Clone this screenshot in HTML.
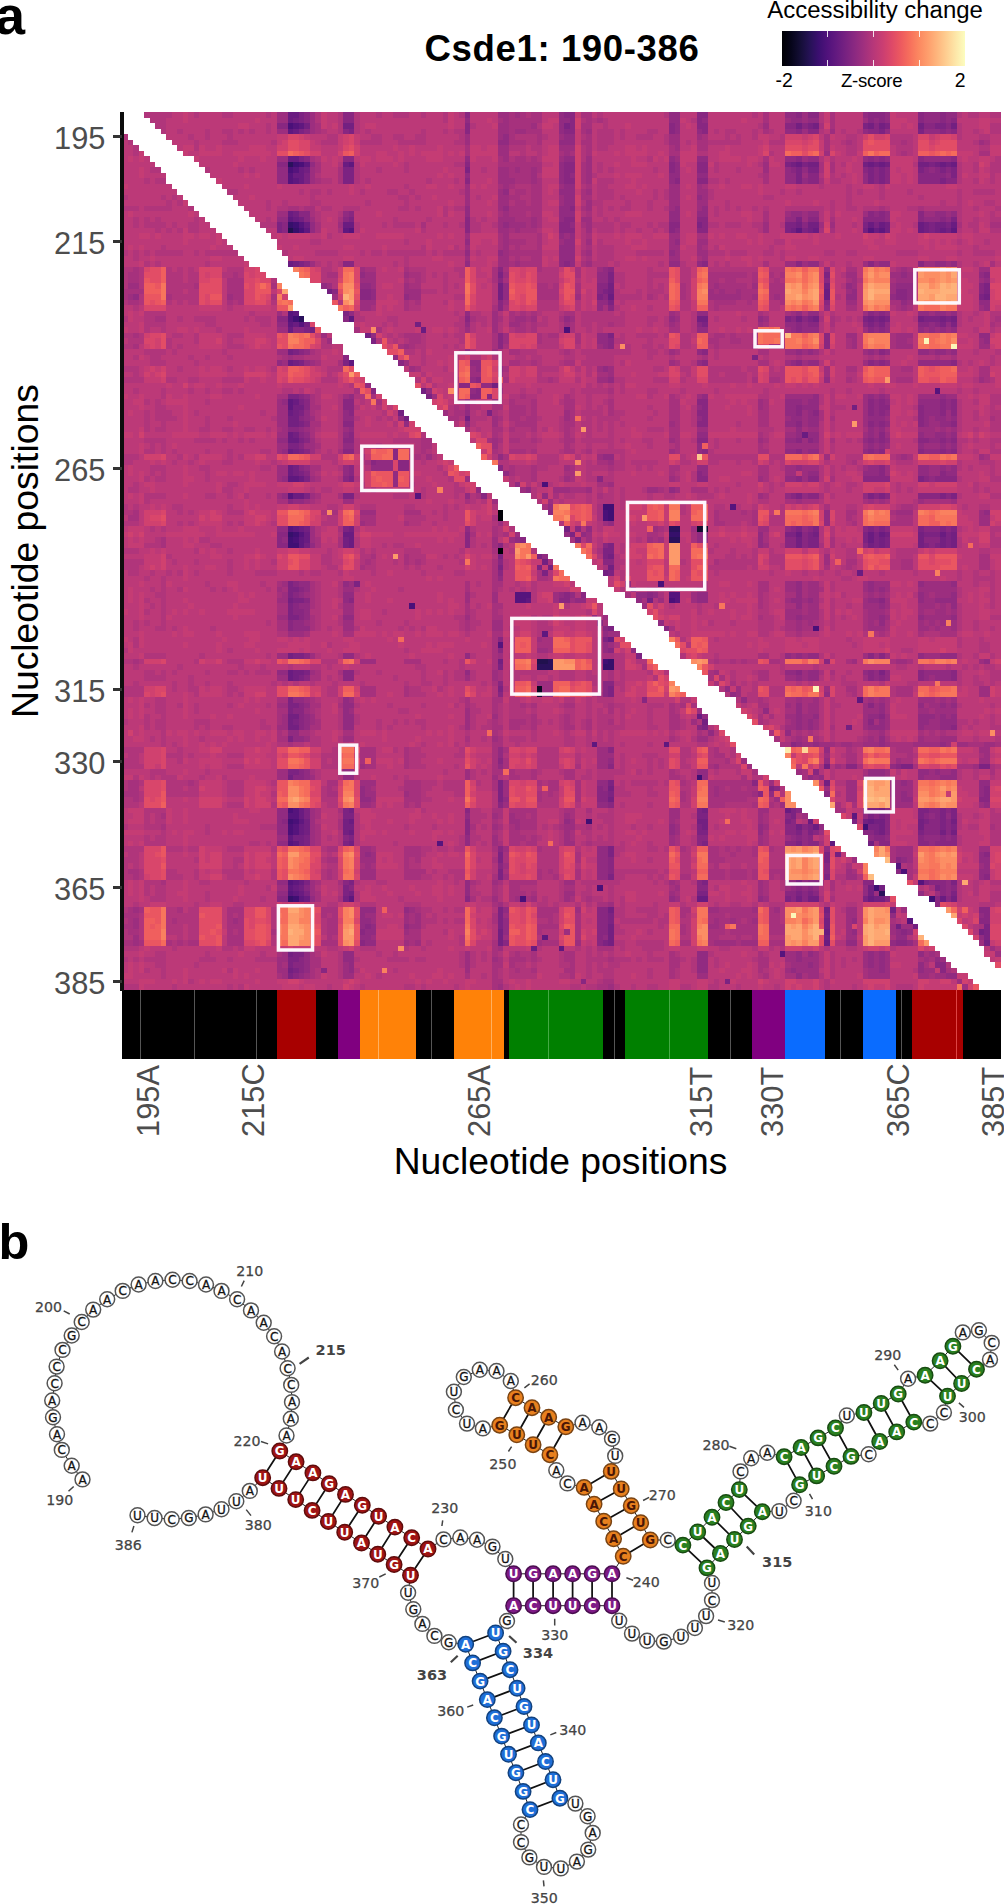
<!DOCTYPE html>
<html><head><meta charset="utf-8"><title>Csde1: 190-386</title>
<style>
html,body{margin:0;padding:0;background:#fff}
body{width:1004px;height:1904px;position:relative;overflow:hidden;font-family:"Liberation Sans",sans-serif;color:#000}
.t{position:absolute;white-space:nowrap;line-height:1}
.yl{position:absolute;right:898.6px;color:#4d4d4d;font-size:30.8px;line-height:1;white-space:nowrap}
.xl{position:absolute;color:#4d4d4d;font-size:30.8px;line-height:1;white-space:nowrap;transform-origin:0 0;transform:rotate(-90deg)}
.tk{position:absolute;background:#333}
</style></head><body>

<div class="t" style="left:-5px;top:-12px;font-size:54px;font-weight:bold">a</div>
<div class="t" style="left:-1.5px;top:1217px;font-size:50.5px;font-weight:bold">b</div>
<div class="t" style="left:424.6px;top:30.8px;font-size:36.6px;letter-spacing:0.6px;font-weight:bold">Csde1: 190-386</div>
<div class="t" style="left:767.3px;top:-2.1px;font-size:23.95px">Accessibility change</div>
<div class="t" style="left:775.6px;top:71.4px;font-size:19.4px">-2</div>
<div class="t" style="left:954.8px;top:71.4px;font-size:19.4px">2</div>
<div class="t" style="left:841px;top:72px;font-size:18.6px;letter-spacing:-0.25px">Z-score</div>
<div style="position:absolute;left:782px;top:31px;width:183px;height:35px;background:linear-gradient(90deg,#000004 0%,#06051a 5%,#140e36 10%,#251255 15%,#3b0f70 20%,#51127c 25%,#641a80 30%,#782281 35%,#8c2981 40%,#a1307e 45%,#b73779 50%,#ca3e72 55%,#de4968 60%,#ed5a5f 65%,#f7705c 70%,#fc8961 75%,#fe9f6d 80%,#feb77e 85%,#fecf92 90%,#fde7a9 95%,#fcfdbf 100%)"></div>
<div style="position:absolute;left:827.2px;top:31px;width:0.8px;height:6px;background:rgba(255,255,255,.85)"></div><div style="position:absolute;left:827.2px;top:60px;width:0.8px;height:6px;background:rgba(255,255,255,.85)"></div>
<div style="position:absolute;left:873.0px;top:31px;width:0.8px;height:6px;background:rgba(255,255,255,.85)"></div><div style="position:absolute;left:873.0px;top:60px;width:0.8px;height:6px;background:rgba(255,255,255,.85)"></div>
<div style="position:absolute;left:918.8px;top:31px;width:0.8px;height:6px;background:rgba(255,255,255,.85)"></div><div style="position:absolute;left:918.8px;top:60px;width:0.8px;height:6px;background:rgba(255,255,255,.85)"></div>
<svg style="position:absolute;left:122px;top:112px" width="879" height="878" viewBox="0 0 159 159" preserveAspectRatio="none" shape-rendering="crispEdges">
<rect width="159" height="159" fill="#bc3978"/>
<path fill="#010108" d="M68 72h1v1h-1zM68 73h1v1h-1zM68 79h1v1h-1z"/>
<path fill="#0a0822" d="M75 104h1v1h-1z"/>
<path fill="#110c2f" d="M104 75h2v1h-2zM75 105h1v1h-1z"/>
<path fill="#21114e" d="M30 21h1v1h-1zM75 99h2v1h-2z"/>
<path fill="#2a115c" d="M30 9h1v1h-1zM32 37h1v1h-1zM99 75h2v1h-2zM99 77h2v1h-2zM77 99h1v1h-1zM75 100h3v1h-3zM137 141h1v1h-1z"/>
<path fill="#36106b" d="M30 20h1v1h-1zM31 21h1v1h-1zM30 76h1v1h-1zM99 76h2v1h-2zM88 99h1v1h-1zM87 100h2v1h-2zM30 142h1v1h-1z"/>
<path fill="#400f74" d="M31 9h1v1h-1zM31 20h1v1h-1zM31 37h1v1h-1zM87 71h2v1h-2zM88 72h1v1h-1zM88 73h1v1h-1zM31 76h1v1h-1zM30 77h1v1h-1zM30 78h2v1h-2zM87 99h1v1h-1zM104 120h1v1h-1zM30 128h1v1h-1zM84 128h1v1h-1zM134 129h1v1h-1zM136 140h1v1h-1zM31 142h1v1h-1zM146 142h1v1h-1z"/>
<path fill="#4a1079" d="M30 2h1v1h-1zM32 9h1v1h-1zM30 10h1v1h-1zM32 21h1v1h-1zM80 39h1v1h-1zM76 67h1v1h-1zM87 72h1v1h-1zM87 73h1v1h-1zM31 77h1v1h-1zM97 85h1v1h-1zM99 88h1v1h-1zM52 89h1v1h-1zM125 93h1v1h-1zM30 126h1v1h-1zM31 128h1v1h-1zM30 129h1v1h-1zM30 130h1v1h-1zM141 137h1v1h-1zM86 140h1v1h-1zM72 142h1v1h-1z"/>
<path fill="#56147d" d="M31 2h1v1h-1zM31 10h1v1h-1zM30 11h1v1h-1zM30 12h1v1h-1zM32 20h1v1h-1zM41 21h1v1h-1zM135 21h1v1h-1zM30 36h1v1h-1zM30 37h1v1h-1zM32 38h1v1h-1zM147 50h1v1h-1zM30 69h1v1h-1zM53 69h1v1h-1zM110 71h1v1h-1zM30 75h1v1h-1zM32 76h1v1h-1zM71 87h3v1h-3zM99 87h2v1h-2zM71 88h2v1h-2zM100 88h1v1h-1zM68 96h1v1h-1zM31 126h1v1h-1zM30 127h2v1h-2zM31 129h1v1h-1zM31 130h1v1h-1zM30 132h1v1h-1zM57 132h1v1h-1zM140 136h1v1h-1zM30 139h1v1h-1zM144 139h1v1h-1zM30 141h1v1h-1zM142 146h1v1h-1zM119 152h1v1h-1z"/>
<path fill="#5f187f" d="M32 2h1v1h-1zM30 3h1v1h-1zM33 9h1v1h-1zM41 9h1v1h-1zM31 12h1v1h-1zM30 19h1v1h-1zM33 21h1v1h-1zM40 21h1v1h-1zM122 21h1v1h-1zM137 21h1v1h-1zM150 21h1v1h-1zM31 36h1v1h-1zM41 37h1v1h-1zM30 38h1v1h-1zM41 45h1v1h-1zM30 52h1v1h-1zM30 53h1v1h-1zM30 66h2v1h-2zM31 75h1v1h-1zM32 77h1v1h-1zM32 78h1v1h-1zM73 88h1v1h-1zM76 94h1v1h-1zM133 106h1v1h-1zM85 114h1v1h-1zM98 114h1v1h-1zM132 127h1v1h-1zM32 128h1v1h-1zM30 131h1v1h-1zM31 132h1v1h-1zM128 132h1v1h-1zM31 139h1v1h-1zM30 140h1v1h-1zM31 141h1v1h-1zM32 142h1v1h-1zM41 142h1v1h-1zM76 149h1v1h-1zM79 151h1v1h-1z"/>
<path fill="#6a1c81" d="M30 0h2v1h-2zM30 1h1v1h-1zM31 3h1v1h-1zM30 8h2v1h-2zM40 9h1v1h-1zM122 9h1v1h-1zM135 9h1v1h-1zM137 9h1v1h-1zM148 9h1v1h-1zM150 9h1v1h-1zM32 10h1v1h-1zM31 11h2v1h-2zM32 12h1v1h-1zM30 18h1v1h-1zM31 19h1v1h-1zM33 20h1v1h-1zM40 20h2v1h-2zM135 20h1v1h-1zM137 20h1v1h-1zM144 20h1v1h-1zM150 20h1v1h-1zM125 21h1v1h-1zM136 21h1v1h-1zM144 21h1v1h-1zM148 21h1v1h-1zM30 27h1v1h-1zM127 32h1v1h-1zM88 33h1v1h-1zM127 33h1v1h-1zM31 38h1v1h-1zM30 39h1v1h-1zM54 39h1v1h-1zM30 45h1v1h-1zM31 52h1v1h-1zM30 54h1v1h-1zM30 58h1v1h-1zM123 58h1v1h-1zM30 59h2v1h-2zM30 61h1v1h-1zM30 64h1v1h-1zM30 65h1v1h-1zM32 66h1v1h-1zM31 69h2v1h-2zM32 75h1v1h-1zM33 76h1v1h-1zM40 76h2v1h-2zM122 76h1v1h-1zM135 76h1v1h-1zM137 76h1v1h-1zM148 76h1v1h-1zM33 77h1v1h-1zM41 77h1v1h-1zM135 77h1v1h-1zM41 78h1v1h-1zM133 83h1v1h-1zM88 95h1v1h-1zM30 101h1v1h-1zM30 102h1v1h-1zM104 109h1v1h-1zM32 126h1v1h-1zM120 126h1v1h-1zM32 127h1v1h-1zM41 128h1v1h-1zM124 128h1v1h-1zM135 128h1v1h-1zM32 129h1v1h-1zM125 129h1v1h-1zM32 130h1v1h-1zM41 130h1v1h-1zM32 139h1v1h-1zM31 140h1v1h-1zM32 141h1v1h-1zM33 142h1v1h-1zM104 142h2v1h-2zM135 142h1v1h-1zM148 142h1v1h-1zM127 148h1v1h-1zM127 150h1v1h-1zM74 151h1v1h-1z"/>
<path fill="#732081" d="M31 1h1v1h-1zM33 2h1v1h-1zM40 2h2v1h-2zM122 2h1v1h-1zM125 2h1v1h-1zM135 2h1v1h-1zM137 2h1v1h-1zM144 2h1v1h-1zM150 2h1v1h-1zM121 9h1v1h-1zM124 9h2v1h-2zM134 9h1v1h-1zM136 9h1v1h-1zM138 9h1v1h-1zM144 9h2v1h-2zM147 9h1v1h-1zM149 9h1v1h-1zM33 10h1v1h-1zM31 18h1v1h-1zM32 19h1v1h-1zM122 20h1v1h-1zM124 20h2v1h-2zM138 20h1v1h-1zM145 20h1v1h-1zM147 20h2v1h-2zM121 21h1v1h-1zM124 21h1v1h-1zM134 21h1v1h-1zM138 21h1v1h-1zM145 21h1v1h-1zM147 21h1v1h-1zM149 21h1v1h-1zM31 27h1v1h-1zM68 31h1v1h-1zM88 31h1v1h-1zM127 31h1v1h-1zM37 32h1v1h-1zM68 32h1v1h-1zM88 32h1v1h-1zM68 33h1v1h-1zM156 33h1v1h-1zM104 37h2v1h-2zM122 37h1v1h-1zM125 37h1v1h-1zM135 37h1v1h-1zM137 37h1v1h-1zM144 37h1v1h-1zM148 37h1v1h-1zM150 37h1v1h-1zM33 38h1v1h-1zM53 38h1v1h-1zM34 39h1v1h-1zM44 40h1v1h-1zM30 43h1v1h-1zM31 45h1v1h-1zM67 49h1v1h-1zM54 50h1v1h-1zM31 53h2v1h-2zM132 53h1v1h-1zM31 54h1v1h-1zM50 54h1v1h-1zM30 55h2v1h-2zM51 55h1v1h-1zM62 55h1v1h-1zM30 56h2v1h-2zM31 58h1v1h-1zM31 61h1v1h-1zM31 64h1v1h-1zM31 65h1v1h-1zM33 75h1v1h-1zM41 75h1v1h-1zM80 75h1v1h-1zM125 76h1v1h-1zM138 76h1v1h-1zM144 76h1v1h-1zM150 76h1v1h-1zM40 77h1v1h-1zM122 77h1v1h-1zM137 77h1v1h-1zM144 77h1v1h-1zM148 77h1v1h-1zM150 77h1v1h-1zM33 78h1v1h-1zM40 78h1v1h-1zM122 78h1v1h-1zM135 78h1v1h-1zM137 78h1v1h-1zM144 78h1v1h-1zM148 78h1v1h-1zM150 78h1v1h-1zM88 80h1v1h-1zM76 81h1v1h-1zM77 82h1v1h-1zM88 82h1v1h-1zM87 83h1v1h-1zM30 88h1v1h-1zM95 88h1v1h-1zM30 98h1v1h-1zM68 99h1v1h-1zM31 101h2v1h-2zM31 102h1v1h-1zM30 109h2v1h-2zM30 110h1v1h-1zM105 110h1v1h-1zM30 111h2v1h-2zM131 111h1v1h-1zM127 118h1v1h-1zM30 120h1v1h-1zM127 121h1v1h-1zM88 122h1v1h-1zM88 124h1v1h-1zM41 126h1v1h-1zM105 126h1v1h-1zM137 126h1v1h-1zM33 128h1v1h-1zM40 128h1v1h-1zM104 128h2v1h-2zM134 128h1v1h-1zM136 128h2v1h-2zM144 128h1v1h-1zM150 128h1v1h-1zM33 129h1v1h-1zM40 129h2v1h-2zM105 129h1v1h-1zM122 129h1v1h-1zM137 129h1v1h-1zM144 129h1v1h-1zM33 130h1v1h-1zM40 130h1v1h-1zM137 130h1v1h-1zM148 130h1v1h-1zM150 130h1v1h-1zM31 131h2v1h-2zM32 132h1v1h-1zM41 132h1v1h-1zM135 132h1v1h-1zM129 134h1v1h-1zM32 140h1v1h-1zM135 140h1v1h-1zM137 140h1v1h-1zM41 141h1v1h-1zM135 141h1v1h-1zM40 142h1v1h-1zM122 142h1v1h-1zM124 142h2v1h-2zM136 142h2v1h-2zM150 142h1v1h-1zM88 144h1v1h-1zM127 144h1v1h-1zM139 144h1v1h-1zM127 146h1v1h-1zM88 147h1v1h-1zM127 147h1v1h-1zM140 147h1v1h-1zM143 147h1v1h-1zM68 148h1v1h-1zM88 148h1v1h-1zM155 148h1v1h-1zM68 149h1v1h-1zM88 149h1v1h-1zM127 149h1v1h-1zM68 150h1v1h-1zM88 150h1v1h-1zM156 150h1v1h-1zM30 152h1v1h-1zM30 155h1v1h-1z"/>
<path fill="#7c2382" d="M32 0h1v1h-1zM32 1h1v1h-1zM80 2h1v1h-1zM124 2h1v1h-1zM134 2h1v1h-1zM138 2h1v1h-1zM147 2h2v1h-2zM32 3h1v1h-1zM41 3h1v1h-1zM137 3h1v1h-1zM144 3h1v1h-1zM32 8h1v1h-1zM120 9h1v1h-1zM123 9h1v1h-1zM146 9h1v1h-1zM40 10h2v1h-2zM62 10h1v1h-1zM122 10h1v1h-1zM124 10h2v1h-2zM135 10h1v1h-1zM137 10h1v1h-1zM144 10h1v1h-1zM148 10h1v1h-1zM150 10h1v1h-1zM33 11h1v1h-1zM40 11h2v1h-2zM122 11h1v1h-1zM135 11h1v1h-1zM137 11h1v1h-1zM150 11h1v1h-1zM33 12h1v1h-1zM40 12h2v1h-2zM122 12h1v1h-1zM135 12h1v1h-1zM137 12h1v1h-1zM148 12h1v1h-1zM41 19h1v1h-1zM122 19h1v1h-1zM150 19h1v1h-1zM28 20h1v1h-1zM104 20h1v1h-1zM120 20h2v1h-2zM134 20h1v1h-1zM136 20h1v1h-1zM146 20h1v1h-1zM149 20h1v1h-1zM28 21h1v1h-1zM120 21h1v1h-1zM123 21h1v1h-1zM146 21h1v1h-1zM32 27h1v1h-1zM68 29h1v1h-1zM88 29h1v1h-1zM127 29h1v1h-1zM88 30h1v1h-1zM156 31h1v1h-1zM87 32h1v1h-1zM156 32h1v1h-1zM86 33h1v1h-1zM155 33h1v1h-1zM88 34h1v1h-1zM40 36h1v1h-1zM120 37h1v1h-1zM124 37h1v1h-1zM134 37h1v1h-1zM136 37h1v1h-1zM138 37h1v1h-1zM145 37h3v1h-3zM149 37h1v1h-1zM105 38h1v1h-1zM135 38h1v1h-1zM137 38h1v1h-1zM148 38h1v1h-1zM150 38h1v1h-1zM33 39h1v1h-1zM88 40h1v1h-1zM45 41h1v1h-1zM31 43h1v1h-1zM114 44h1v1h-1zM32 45h1v1h-1zM40 45h1v1h-1zM30 51h2v1h-2zM55 51h1v1h-1zM32 52h1v1h-1zM32 54h1v1h-1zM66 54h1v1h-1zM32 56h1v1h-1zM32 59h1v1h-1zM30 60h2v1h-2zM32 61h1v1h-1zM32 65h1v1h-1zM33 66h1v1h-1zM41 66h1v1h-1zM144 66h1v1h-1zM33 69h1v1h-1zM40 69h2v1h-2zM122 69h1v1h-1zM135 69h1v1h-1zM137 69h1v1h-1zM148 69h1v1h-1zM150 69h1v1h-1zM40 75h1v1h-1zM122 75h1v1h-1zM125 75h1v1h-1zM135 75h1v1h-1zM137 75h1v1h-1zM144 75h1v1h-1zM148 75h1v1h-1zM150 75h1v1h-1zM81 76h1v1h-1zM120 76h2v1h-2zM124 76h1v1h-1zM134 76h1v1h-1zM136 76h1v1h-1zM145 76h3v1h-3zM149 76h1v1h-1zM82 77h1v1h-1zM124 77h2v1h-2zM134 77h1v1h-1zM136 77h1v1h-1zM138 77h1v1h-1zM149 77h1v1h-1zM88 78h1v1h-1zM124 78h2v1h-2zM136 78h1v1h-1zM138 78h1v1h-1zM145 78h1v1h-1zM147 78h1v1h-1zM149 78h1v1h-1zM87 79h2v1h-2zM68 80h1v1h-1zM75 80h1v1h-1zM87 80h1v1h-1zM68 82h1v1h-1zM75 82h1v1h-1zM76 83h1v1h-1zM88 83h1v1h-1zM30 85h1v1h-1zM42 85h1v1h-1zM30 86h2v1h-2zM30 87h1v1h-1zM31 88h2v1h-2zM30 89h1v1h-1zM30 90h1v1h-1zM30 91h2v1h-2zM88 93h1v1h-1zM87 95h1v1h-1zM31 98h2v1h-2zM93 98h1v1h-1zM68 100h1v1h-1zM33 101h1v1h-1zM137 101h1v1h-1zM32 102h1v1h-1zM68 104h1v1h-1zM88 104h1v1h-1zM88 105h1v1h-1zM30 106h1v1h-1zM30 107h2v1h-2zM30 108h1v1h-1zM31 110h1v1h-1zM105 111h1v1h-1zM30 113h1v1h-1zM141 118h2v1h-2zM155 118h2v1h-2zM30 119h2v1h-2zM68 121h1v1h-1zM88 121h1v1h-1zM68 122h1v1h-1zM117 122h1v1h-1zM68 123h1v1h-1zM88 123h1v1h-1zM68 124h1v1h-1zM33 126h1v1h-1zM40 126h1v1h-1zM104 126h1v1h-1zM121 126h1v1h-1zM135 126h2v1h-2zM144 126h2v1h-2zM148 126h1v1h-1zM150 126h1v1h-1zM33 127h1v1h-1zM40 127h2v1h-2zM104 127h2v1h-2zM121 127h1v1h-1zM135 127h1v1h-1zM137 127h1v1h-1zM144 127h1v1h-1zM148 127h1v1h-1zM150 127h1v1h-1zM120 128h1v1h-1zM132 128h1v1h-1zM145 128h1v1h-1zM148 128h1v1h-1zM104 129h1v1h-1zM124 129h1v1h-1zM135 129h2v1h-2zM148 129h1v1h-1zM150 129h1v1h-1zM104 130h2v1h-2zM122 130h1v1h-1zM124 130h1v1h-1zM136 130h1v1h-1zM144 130h1v1h-1zM33 131h1v1h-1zM41 131h1v1h-1zM33 132h1v1h-1zM40 132h1v1h-1zM105 132h1v1h-1zM122 132h1v1h-1zM88 133h1v1h-1zM68 134h1v1h-1zM88 134h1v1h-1zM127 134h1v1h-1zM68 135h1v1h-1zM127 135h1v1h-1zM68 137h1v1h-1zM68 138h1v1h-1zM88 138h1v1h-1zM127 138h1v1h-1zM33 139h1v1h-1zM41 139h1v1h-1zM105 139h1v1h-1zM122 139h1v1h-1zM145 139h1v1h-1zM150 139h1v1h-1zM40 140h1v1h-1zM147 140h1v1h-1zM33 141h1v1h-1zM40 141h1v1h-1zM104 141h2v1h-2zM122 141h1v1h-1zM124 141h1v1h-1zM150 141h1v1h-1zM120 142h1v1h-1zM134 142h1v1h-1zM68 144h1v1h-1zM68 145h1v1h-1zM88 145h1v1h-1zM127 145h1v1h-1zM68 146h1v1h-1zM88 146h1v1h-1zM68 147h1v1h-1zM156 147h1v1h-1zM156 148h1v1h-1zM156 149h1v1h-1zM87 150h1v1h-1zM31 152h2v1h-2zM30 153h2v1h-2zM30 154h1v1h-1zM31 155h1v1h-1zM30 156h1v1h-1zM109 157h1v1h-1z"/>
<path fill="#882781" d="M33 0h1v1h-1zM40 0h2v1h-2zM62 0h1v1h-1zM80 0h2v1h-2zM104 0h2v1h-2zM122 0h1v1h-1zM124 0h2v1h-2zM135 0h3v1h-3zM144 0h1v1h-1zM148 0h1v1h-1zM33 1h1v1h-1zM40 1h2v1h-2zM81 1h1v1h-1zM104 1h1v1h-1zM135 1h1v1h-1zM137 1h1v1h-1zM144 1h1v1h-1zM148 1h1v1h-1zM150 1h1v1h-1zM28 2h2v1h-2zM62 2h1v1h-1zM81 2h1v1h-1zM99 2h1v1h-1zM104 2h2v1h-2zM120 2h2v1h-2zM123 2h1v1h-1zM136 2h1v1h-1zM145 2h2v1h-2zM149 2h1v1h-1zM33 3h1v1h-1zM40 3h1v1h-1zM62 3h1v1h-1zM80 3h2v1h-2zM99 3h1v1h-1zM105 3h1v1h-1zM122 3h1v1h-1zM124 3h2v1h-2zM135 3h2v1h-2zM148 3h1v1h-1zM150 3h1v1h-1zM33 8h1v1h-1zM40 8h2v1h-2zM122 8h1v1h-1zM135 8h1v1h-1zM137 8h1v1h-1zM144 8h1v1h-1zM150 8h1v1h-1zM28 9h2v1h-2zM62 9h1v1h-1zM80 9h2v1h-2zM99 9h1v1h-1zM104 9h2v1h-2zM80 10h2v1h-2zM99 10h1v1h-1zM104 10h2v1h-2zM121 10h1v1h-1zM134 10h1v1h-1zM136 10h1v1h-1zM138 10h1v1h-1zM145 10h1v1h-1zM147 10h1v1h-1zM149 10h1v1h-1zM80 11h1v1h-1zM124 11h2v1h-2zM136 11h1v1h-1zM138 11h1v1h-1zM144 11h5v1h-5zM62 12h1v1h-1zM80 12h2v1h-2zM100 12h1v1h-1zM104 12h2v1h-2zM124 12h2v1h-2zM136 12h1v1h-1zM138 12h1v1h-1zM144 12h4v1h-4zM149 12h2v1h-2zM81 17h1v1h-1zM32 18h2v1h-2zM41 18h1v1h-1zM135 18h1v1h-1zM137 18h1v1h-1zM144 18h1v1h-1zM33 19h1v1h-1zM40 19h1v1h-1zM62 19h1v1h-1zM80 19h2v1h-2zM104 19h2v1h-2zM124 19h2v1h-2zM134 19h4v1h-4zM144 19h1v1h-1zM148 19h1v1h-1zM29 20h1v1h-1zM62 20h1v1h-1zM79 20h2v1h-2zM99 20h2v1h-2zM105 20h1v1h-1zM123 20h1v1h-1zM29 21h1v1h-1zM62 21h1v1h-1zM79 21h3v1h-3zM99 21h1v1h-1zM104 21h2v1h-2zM33 27h1v1h-1zM40 27h2v1h-2zM80 27h1v1h-1zM105 27h1v1h-1zM122 27h1v1h-1zM135 27h1v1h-1zM144 27h1v1h-1zM68 28h1v1h-1zM88 28h1v1h-1zM156 29h1v1h-1zM68 30h1v1h-1zM127 30h1v1h-1zM86 31h2v1h-2zM155 31h1v1h-1zM38 32h1v1h-1zM43 32h2v1h-2zM86 32h1v1h-1zM140 32h2v1h-2zM155 32h1v1h-1zM43 33h2v1h-2zM87 33h1v1h-1zM140 33h2v1h-2zM68 34h1v1h-1zM127 34h1v1h-1zM68 35h1v1h-1zM88 35h1v1h-1zM135 36h1v1h-1zM137 36h1v1h-1zM28 37h2v1h-2zM40 37h1v1h-1zM62 37h1v1h-1zM121 37h1v1h-1zM123 37h1v1h-1zM104 38h1v1h-1zM122 38h1v1h-1zM124 38h2v1h-2zM134 38h1v1h-1zM136 38h1v1h-1zM144 38h2v1h-2zM147 38h1v1h-1zM31 39h2v1h-2zM122 39h1v1h-1zM135 39h1v1h-1zM137 39h1v1h-1zM68 40h1v1h-1zM127 40h1v1h-1zM68 41h1v1h-1zM88 41h1v1h-1zM127 41h1v1h-1zM68 42h1v1h-1zM88 42h1v1h-1zM127 42h1v1h-1zM32 43h1v1h-1zM105 43h1v1h-1zM137 43h1v1h-1zM40 44h1v1h-1zM50 45h1v1h-1zM105 45h1v1h-1zM122 45h1v1h-1zM135 45h1v1h-1zM137 45h1v1h-1zM150 45h1v1h-1zM64 48h1v1h-1zM61 49h2v1h-2zM45 50h1v1h-1zM64 50h1v1h-1zM32 51h1v1h-1zM63 51h2v1h-2zM66 51h1v1h-1zM33 52h1v1h-1zM40 52h2v1h-2zM104 52h2v1h-2zM135 52h1v1h-1zM137 52h1v1h-1zM148 52h1v1h-1zM150 52h1v1h-1zM33 53h1v1h-1zM40 53h2v1h-2zM105 53h1v1h-1zM122 53h1v1h-1zM135 53h1v1h-1zM137 53h2v1h-2zM144 53h1v1h-1zM148 53h1v1h-1zM150 53h1v1h-1zM41 54h1v1h-1zM104 54h2v1h-2zM122 54h1v1h-1zM125 54h1v1h-1zM135 54h1v1h-1zM137 54h1v1h-1zM144 54h1v1h-1zM148 54h1v1h-1zM150 54h1v1h-1zM32 55h1v1h-1zM105 55h1v1h-1zM144 55h1v1h-1zM33 56h1v1h-1zM40 56h2v1h-2zM104 56h2v1h-2zM122 56h1v1h-1zM135 56h1v1h-1zM137 56h1v1h-1zM144 56h1v1h-1zM150 56h1v1h-1zM30 57h2v1h-2zM32 58h1v1h-1zM41 58h1v1h-1zM137 58h1v1h-1zM33 59h1v1h-1zM40 59h2v1h-2zM104 59h2v1h-2zM122 59h1v1h-1zM124 59h1v1h-1zM135 59h1v1h-1zM137 59h1v1h-1zM144 59h2v1h-2zM148 59h1v1h-1zM150 59h1v1h-1zM32 60h1v1h-1zM33 61h1v1h-1zM40 61h2v1h-2zM49 61h1v1h-1zM105 61h1v1h-1zM122 61h1v1h-1zM135 61h1v1h-1zM137 61h1v1h-1zM144 61h1v1h-1zM148 61h1v1h-1zM150 61h1v1h-1zM49 62h1v1h-1zM45 63h1v1h-1zM50 63h2v1h-2zM32 64h1v1h-1zM41 64h1v1h-1zM50 64h2v1h-2zM68 64h1v1h-1zM137 64h1v1h-1zM33 65h1v1h-1zM41 65h1v1h-1zM104 65h1v1h-1zM137 65h1v1h-1zM148 65h1v1h-1zM40 66h1v1h-1zM86 66h1v1h-1zM104 66h2v1h-2zM122 66h1v1h-1zM124 66h2v1h-2zM134 66h5v1h-5zM145 66h1v1h-1zM147 66h4v1h-4zM65 69h1v1h-1zM121 69h1v1h-1zM124 69h2v1h-2zM136 69h1v1h-1zM138 69h1v1h-1zM144 69h4v1h-4zM149 69h1v1h-1zM30 70h1v1h-1zM77 72h1v1h-1zM82 75h1v1h-1zM121 75h1v1h-1zM124 75h1v1h-1zM134 75h1v1h-1zM136 75h1v1h-1zM138 75h1v1h-1zM145 75h3v1h-3zM149 75h1v1h-1zM28 76h2v1h-2zM62 76h1v1h-1zM123 76h1v1h-1zM28 77h1v1h-1zM62 77h1v1h-1zM72 77h1v1h-1zM120 77h2v1h-2zM123 77h1v1h-1zM145 77h3v1h-3zM28 78h2v1h-2zM62 78h1v1h-1zM68 78h1v1h-1zM87 78h1v1h-1zM120 78h2v1h-2zM123 78h1v1h-1zM134 78h1v1h-1zM146 78h1v1h-1zM68 81h1v1h-1zM87 81h2v1h-2zM68 83h1v1h-1zM31 85h1v1h-1zM32 86h1v1h-1zM31 87h1v1h-1zM80 87h1v1h-1zM83 87h1v1h-1zM95 87h1v1h-1zM33 88h1v1h-1zM41 88h1v1h-1zM79 88h2v1h-2zM137 88h1v1h-1zM31 89h1v1h-1zM31 90h2v1h-2zM32 91h1v1h-1zM30 92h1v1h-1zM86 92h1v1h-1zM30 93h1v1h-1zM87 93h1v1h-1zM98 93h1v1h-1zM68 95h1v1h-1zM68 97h1v1h-1zM88 97h1v1h-1zM33 98h1v1h-1zM135 98h1v1h-1zM137 98h1v1h-1zM127 99h1v1h-1zM40 101h2v1h-2zM122 101h1v1h-1zM135 101h1v1h-1zM144 101h1v1h-1zM150 101h1v1h-1zM33 102h1v1h-1zM40 102h2v1h-2zM135 102h1v1h-1zM137 102h1v1h-1zM144 102h1v1h-1zM150 102h1v1h-1zM68 103h1v1h-1zM87 103h2v1h-2zM87 104h1v1h-1zM68 105h1v1h-1zM87 105h1v1h-1zM94 106h1v1h-1zM32 107h1v1h-1zM135 107h1v1h-1zM31 108h2v1h-2zM32 109h1v1h-1zM137 109h1v1h-1zM32 110h1v1h-1zM135 110h1v1h-1zM32 111h1v1h-1zM104 111h1v1h-1zM150 111h1v1h-1zM121 114h1v1h-1zM88 115h1v1h-1zM68 117h1v1h-1zM88 118h1v1h-1zM131 118h2v1h-2zM140 118h1v1h-1zM32 119h1v1h-1zM125 119h1v1h-1zM31 120h2v1h-2zM114 121h1v1h-1zM86 122h1v1h-1zM118 122h1v1h-1zM156 122h1v1h-1zM86 123h2v1h-2zM115 123h1v1h-1zM127 123h1v1h-1zM156 123h1v1h-1zM86 124h2v1h-2zM155 124h2v1h-2zM68 125h1v1h-1zM88 125h1v1h-1zM62 126h1v1h-1zM122 126h1v1h-1zM134 126h1v1h-1zM138 126h1v1h-1zM146 126h2v1h-2zM149 126h1v1h-1zM120 127h1v1h-1zM136 127h1v1h-1zM138 127h1v1h-1zM145 127h1v1h-1zM147 127h1v1h-1zM29 128h1v1h-1zM62 128h1v1h-1zM121 128h1v1h-1zM138 128h1v1h-1zM146 128h2v1h-2zM149 128h1v1h-1zM62 129h1v1h-1zM120 129h2v1h-2zM123 129h1v1h-1zM138 129h1v1h-1zM145 129h3v1h-3zM149 129h1v1h-1zM62 130h1v1h-1zM120 130h2v1h-2zM125 130h1v1h-1zM134 130h2v1h-2zM138 130h1v1h-1zM145 130h3v1h-3zM149 130h1v1h-1zM40 131h1v1h-1zM104 131h2v1h-2zM122 131h1v1h-1zM124 131h1v1h-1zM136 131h2v1h-2zM144 131h1v1h-1zM148 131h1v1h-1zM150 131h1v1h-1zM104 132h1v1h-1zM120 132h2v1h-2zM124 132h2v1h-2zM137 132h2v1h-2zM144 132h2v1h-2zM147 132h4v1h-4zM68 133h1v1h-1zM156 134h1v1h-1zM88 135h1v1h-1zM140 135h1v1h-1zM68 136h1v1h-1zM88 136h1v1h-1zM127 136h1v1h-1zM88 137h1v1h-1zM127 137h1v1h-1zM140 137h1v1h-1zM156 138h1v1h-1zM40 139h1v1h-1zM104 139h1v1h-1zM124 139h2v1h-2zM134 139h2v1h-2zM146 139h3v1h-3zM33 140h1v1h-1zM41 140h1v1h-1zM104 140h2v1h-2zM122 140h1v1h-1zM124 140h1v1h-1zM148 140h1v1h-1zM150 140h1v1h-1zM120 141h2v1h-2zM123 141h1v1h-1zM125 141h1v1h-1zM148 141h1v1h-1zM28 142h2v1h-2zM62 142h1v1h-1zM121 142h1v1h-1zM123 142h1v1h-1zM138 142h1v1h-1zM147 142h1v1h-1zM149 142h1v1h-1zM147 143h1v1h-1zM86 144h2v1h-2zM155 144h2v1h-2zM86 145h2v1h-2zM156 145h1v1h-1zM86 146h2v1h-2zM155 146h2v1h-2zM44 147h1v1h-1zM86 147h2v1h-2zM43 148h1v1h-1zM86 148h2v1h-2zM141 148h1v1h-1zM86 149h1v1h-1zM43 150h1v1h-1zM69 150h1v1h-1zM86 150h1v1h-1zM140 150h2v1h-2zM32 153h1v1h-1zM31 154h2v1h-2zM147 154h2v1h-2zM32 155h1v1h-1zM36 155h1v1h-1zM148 155h1v1h-1zM31 156h1v1h-1zM83 157h1v1h-1z"/>
<path fill="#912b81" d="M79 0h1v1h-1zM99 0h2v1h-2zM120 0h2v1h-2zM134 0h1v1h-1zM138 0h1v1h-1zM145 0h3v1h-3zM149 0h2v1h-2zM62 1h1v1h-1zM79 1h2v1h-2zM99 1h2v1h-2zM105 1h1v1h-1zM121 1h2v1h-2zM124 1h2v1h-2zM136 1h1v1h-1zM138 1h1v1h-1zM145 1h3v1h-3zM149 1h1v1h-1zM79 2h1v1h-1zM100 2h1v1h-1zM79 3h1v1h-1zM100 3h1v1h-1zM104 3h1v1h-1zM120 3h2v1h-2zM134 3h1v1h-1zM138 3h1v1h-1zM145 3h3v1h-3zM149 3h1v1h-1zM69 4h1v1h-1zM80 4h2v1h-2zM68 5h2v1h-2zM79 5h3v1h-3zM62 8h1v1h-1zM80 8h2v1h-2zM99 8h1v1h-1zM104 8h2v1h-2zM120 8h2v1h-2zM124 8h2v1h-2zM134 8h1v1h-1zM136 8h1v1h-1zM138 8h1v1h-1zM145 8h5v1h-5zM34 9h1v1h-1zM79 9h1v1h-1zM100 9h1v1h-1zM28 10h2v1h-2zM79 10h1v1h-1zM100 10h1v1h-1zM120 10h1v1h-1zM123 10h1v1h-1zM146 10h1v1h-1zM28 11h2v1h-2zM62 11h1v1h-1zM79 11h1v1h-1zM81 11h1v1h-1zM99 11h2v1h-2zM104 11h2v1h-2zM120 11h2v1h-2zM134 11h1v1h-1zM149 11h1v1h-1zM28 12h2v1h-2zM79 12h1v1h-1zM99 12h1v1h-1zM120 12h2v1h-2zM123 12h1v1h-1zM134 12h1v1h-1zM80 13h2v1h-2zM69 14h1v1h-1zM79 14h3v1h-3zM80 15h2v1h-2zM104 15h1v1h-1zM80 16h2v1h-2zM62 17h1v1h-1zM69 17h1v1h-1zM79 17h2v1h-2zM100 17h1v1h-1zM105 17h1v1h-1zM40 18h1v1h-1zM62 18h1v1h-1zM79 18h3v1h-3zM99 18h2v1h-2zM104 18h2v1h-2zM121 18h2v1h-2zM124 18h2v1h-2zM136 18h1v1h-1zM138 18h1v1h-1zM147 18h2v1h-2zM150 18h1v1h-1zM28 19h2v1h-2zM79 19h1v1h-1zM99 19h2v1h-2zM120 19h2v1h-2zM138 19h1v1h-1zM145 19h3v1h-3zM149 19h1v1h-1zM34 20h1v1h-1zM69 20h1v1h-1zM81 20h1v1h-1zM34 21h1v1h-1zM100 21h1v1h-1zM79 22h1v1h-1zM81 22h1v1h-1zM62 23h1v1h-1zM80 23h2v1h-2zM100 23h1v1h-1zM79 24h3v1h-3zM62 25h1v1h-1zM68 25h1v1h-1zM79 25h3v1h-3zM99 25h1v1h-1zM79 26h3v1h-3zM62 27h1v1h-1zM79 27h1v1h-1zM81 27h1v1h-1zM99 27h2v1h-2zM104 27h1v1h-1zM124 27h2v1h-2zM137 27h2v1h-2zM147 27h2v1h-2zM150 27h1v1h-1zM87 28h1v1h-1zM127 28h1v1h-1zM43 29h1v1h-1zM86 29h2v1h-2zM141 29h1v1h-1zM155 29h1v1h-1zM86 30h2v1h-2zM156 30h1v1h-1zM36 31h1v1h-1zM43 31h2v1h-2zM69 31h1v1h-1zM131 31h1v1h-1zM140 31h3v1h-3zM45 32h1v1h-1zM69 32h1v1h-1zM132 32h1v1h-1zM142 32h1v1h-1zM2 33h1v1h-1zM45 33h1v1h-1zM51 33h1v1h-1zM69 33h1v1h-1zM131 33h2v1h-2zM139 33h1v1h-1zM142 33h1v1h-1zM86 34h2v1h-2zM141 34h1v1h-1zM155 34h2v1h-2zM86 35h1v1h-1zM127 35h1v1h-1zM156 35h1v1h-1zM41 36h1v1h-1zM62 36h1v1h-1zM104 36h2v1h-2zM122 36h1v1h-1zM124 36h2v1h-2zM136 36h1v1h-1zM138 36h1v1h-1zM144 36h2v1h-2zM147 36h2v1h-2zM150 36h1v1h-1zM80 37h1v1h-1zM99 37h1v1h-1zM115 37h1v1h-1zM28 38h2v1h-2zM62 38h1v1h-1zM120 38h2v1h-2zM123 38h1v1h-1zM138 38h1v1h-1zM146 38h1v1h-1zM149 38h1v1h-1zM104 39h2v1h-2zM121 39h1v1h-1zM123 39h3v1h-3zM136 39h1v1h-1zM138 39h1v1h-1zM144 39h1v1h-1zM146 39h1v1h-1zM148 39h1v1h-1zM150 39h1v1h-1zM45 40h1v1h-1zM86 40h2v1h-2zM155 40h2v1h-2zM86 41h2v1h-2zM156 41h1v1h-1zM87 42h1v1h-1zM33 43h1v1h-1zM62 43h1v1h-1zM104 43h1v1h-1zM122 43h1v1h-1zM124 43h1v1h-1zM135 43h1v1h-1zM138 43h1v1h-1zM144 43h2v1h-2zM147 43h2v1h-2zM150 43h1v1h-1zM49 44h1v1h-1zM28 45h1v1h-1zM33 45h1v1h-1zM63 45h2v1h-2zM104 45h1v1h-1zM121 45h1v1h-1zM124 45h2v1h-2zM136 45h1v1h-1zM138 45h1v1h-1zM144 45h6v1h-6zM64 46h1v1h-1zM68 46h1v1h-1zM87 46h1v1h-1zM63 48h1v1h-1zM88 48h1v1h-1zM127 48h1v1h-1zM44 49h1v1h-1zM65 49h2v1h-2zM55 50h1v1h-1zM63 50h1v1h-1zM33 51h1v1h-1zM41 51h1v1h-1zM105 51h1v1h-1zM125 51h1v1h-1zM135 51h1v1h-1zM137 51h1v1h-1zM148 51h1v1h-1zM29 52h1v1h-1zM120 52h3v1h-3zM124 52h2v1h-2zM136 52h1v1h-1zM138 52h1v1h-1zM144 52h4v1h-4zM149 52h1v1h-1zM104 53h1v1h-1zM120 53h2v1h-2zM123 53h3v1h-3zM136 53h1v1h-1zM145 53h3v1h-3zM149 53h1v1h-1zM33 54h1v1h-1zM40 54h1v1h-1zM62 54h1v1h-1zM120 54h2v1h-2zM124 54h1v1h-1zM136 54h1v1h-1zM138 54h1v1h-1zM145 54h3v1h-3zM33 55h1v1h-1zM40 55h2v1h-2zM50 55h1v1h-1zM104 55h1v1h-1zM121 55h2v1h-2zM124 55h2v1h-2zM135 55h3v1h-3zM145 55h1v1h-1zM147 55h2v1h-2zM150 55h1v1h-1zM51 56h1v1h-1zM62 56h1v1h-1zM120 56h2v1h-2zM124 56h2v1h-2zM136 56h1v1h-1zM138 56h1v1h-1zM145 56h1v1h-1zM148 56h2v1h-2zM32 57h1v1h-1zM41 57h1v1h-1zM122 57h1v1h-1zM135 57h1v1h-1zM137 57h1v1h-1zM33 58h1v1h-1zM40 58h1v1h-1zM104 58h2v1h-2zM122 58h1v1h-1zM124 58h2v1h-2zM135 58h1v1h-1zM144 58h1v1h-1zM147 58h2v1h-2zM150 58h1v1h-1zM28 59h2v1h-2zM120 59h2v1h-2zM125 59h1v1h-1zM134 59h1v1h-1zM136 59h1v1h-1zM138 59h1v1h-1zM146 59h2v1h-2zM149 59h1v1h-1zM40 60h2v1h-2zM104 60h1v1h-1zM135 60h1v1h-1zM137 60h1v1h-1zM144 60h1v1h-1zM148 60h1v1h-1zM150 60h1v1h-1zM29 61h1v1h-1zM104 61h1v1h-1zM120 61h2v1h-2zM124 61h2v1h-2zM134 61h1v1h-1zM136 61h1v1h-1zM145 61h3v1h-3zM149 61h1v1h-1zM68 62h1v1h-1zM87 62h2v1h-2zM46 63h3v1h-3zM33 64h1v1h-1zM40 64h1v1h-1zM45 64h4v1h-4zM104 64h2v1h-2zM122 64h1v1h-1zM135 64h2v1h-2zM144 64h2v1h-2zM148 64h1v1h-1zM150 64h1v1h-1zM40 65h1v1h-1zM49 65h1v1h-1zM69 65h1v1h-1zM105 65h1v1h-1zM124 65h2v1h-2zM134 65h3v1h-3zM144 65h2v1h-2zM149 65h2v1h-2zM29 66h1v1h-1zM49 66h1v1h-1zM120 66h2v1h-2zM146 66h1v1h-1zM49 67h1v1h-1zM71 67h1v1h-1zM64 68h1v1h-1zM73 68h1v1h-1zM99 68h1v1h-1zM29 69h1v1h-1zM62 69h1v1h-1zM76 69h1v1h-1zM120 69h1v1h-1zM123 69h1v1h-1zM134 69h1v1h-1zM31 70h2v1h-2zM77 71h1v1h-1zM127 72h1v1h-1zM156 72h1v1h-1zM127 73h1v1h-1zM88 74h1v1h-1zM127 74h1v1h-1zM28 75h2v1h-2zM62 75h1v1h-1zM84 75h1v1h-1zM120 75h1v1h-1zM123 75h1v1h-1zM80 76h1v1h-1zM83 76h1v1h-1zM104 76h2v1h-2zM115 76h1v1h-1zM29 77h1v1h-1zM71 77h1v1h-1zM104 77h2v1h-2zM115 77h1v1h-1zM34 78h1v1h-1zM115 78h1v1h-1zM76 80h1v1h-1zM68 84h1v1h-1zM32 85h2v1h-2zM40 85h1v1h-1zM91 85h1v1h-1zM122 85h1v1h-1zM135 85h1v1h-1zM144 85h1v1h-1zM150 85h1v1h-1zM33 86h1v1h-1zM92 86h1v1h-1zM122 86h1v1h-1zM135 86h1v1h-1zM137 86h1v1h-1zM32 87h1v1h-1zM40 87h2v1h-2zM79 87h1v1h-1zM81 87h1v1h-1zM93 87h2v1h-2zM96 87h1v1h-1zM104 87h2v1h-2zM122 87h1v1h-1zM144 87h1v1h-1zM150 87h1v1h-1zM40 88h1v1h-1zM82 88h2v1h-2zM93 88h1v1h-1zM104 88h2v1h-2zM121 88h2v1h-2zM124 88h1v1h-1zM135 88h2v1h-2zM144 88h1v1h-1zM147 88h4v1h-4zM32 89h2v1h-2zM122 89h1v1h-1zM137 89h1v1h-1zM150 89h1v1h-1zM33 90h1v1h-1zM33 91h1v1h-1zM40 91h2v1h-2zM85 91h1v1h-1zM122 91h1v1h-1zM137 91h1v1h-1zM144 91h1v1h-1zM150 91h1v1h-1zM31 92h2v1h-2zM97 92h1v1h-1zM137 92h1v1h-1zM31 93h3v1h-3zM87 94h1v1h-1zM87 96h1v1h-1zM87 97h1v1h-1zM92 97h1v1h-1zM40 98h2v1h-2zM62 98h1v1h-1zM120 98h1v1h-1zM122 98h1v1h-1zM124 98h2v1h-2zM144 98h1v1h-1zM148 98h3v1h-3zM156 99h1v1h-1zM28 101h2v1h-2zM62 101h1v1h-1zM120 101h2v1h-2zM124 101h2v1h-2zM134 101h1v1h-1zM136 101h1v1h-1zM138 101h1v1h-1zM145 101h5v1h-5zM122 102h1v1h-1zM124 102h2v1h-2zM136 102h1v1h-1zM138 102h1v1h-1zM145 102h1v1h-1zM147 102h3v1h-3zM109 104h1v1h-1zM110 105h1v1h-1zM127 105h1v1h-1zM31 106h2v1h-2zM40 106h1v1h-1zM112 106h1v1h-1zM33 107h1v1h-1zM40 107h2v1h-2zM122 107h1v1h-1zM137 107h1v1h-1zM144 107h1v1h-1zM148 107h1v1h-1zM150 107h1v1h-1zM40 108h1v1h-1zM116 108h1v1h-1zM122 108h1v1h-1zM137 108h1v1h-1zM33 109h1v1h-1zM40 109h2v1h-2zM105 109h1v1h-1zM122 109h1v1h-1zM125 109h1v1h-1zM135 109h2v1h-2zM144 109h3v1h-3zM148 109h1v1h-1zM150 109h1v1h-1zM33 110h1v1h-1zM40 110h2v1h-2zM122 110h1v1h-1zM124 110h1v1h-1zM137 110h1v1h-1zM144 110h2v1h-2zM148 110h3v1h-3zM33 111h1v1h-1zM40 111h2v1h-2zM122 111h1v1h-1zM124 111h1v1h-1zM135 111h3v1h-3zM144 111h1v1h-1zM148 111h2v1h-2zM30 112h2v1h-2zM106 112h1v1h-1zM120 112h1v1h-1zM31 113h2v1h-2zM137 113h1v1h-1zM122 114h1v1h-1zM125 114h1v1h-1zM137 114h1v1h-1zM148 114h1v1h-1zM68 115h1v1h-1zM127 115h1v1h-1zM68 116h1v1h-1zM88 117h1v1h-1zM127 117h1v1h-1zM68 118h1v1h-1zM139 118h1v1h-1zM33 119h1v1h-1zM40 119h2v1h-2zM104 119h2v1h-2zM135 119h3v1h-3zM144 119h2v1h-2zM147 119h1v1h-1zM150 119h1v1h-1zM33 120h1v1h-1zM40 120h2v1h-2zM105 120h1v1h-1zM124 120h1v1h-1zM126 120h1v1h-1zM135 120h3v1h-3zM144 120h1v1h-1zM148 120h3v1h-3zM86 121h2v1h-2zM141 121h1v1h-1zM155 121h2v1h-2zM43 122h1v1h-1zM87 122h1v1h-1zM155 122h1v1h-1zM43 123h1v1h-1zM117 123h1v1h-1zM141 123h1v1h-1zM155 123h1v1h-1zM43 124h2v1h-2zM69 124h1v1h-1zM141 124h2v1h-2zM86 125h2v1h-2zM156 125h1v1h-1zM28 126h2v1h-2zM28 127h2v1h-2zM62 127h1v1h-1zM134 127h1v1h-1zM146 127h1v1h-1zM149 127h1v1h-1zM28 128h1v1h-1zM80 128h1v1h-1zM28 129h2v1h-2zM99 129h1v1h-1zM115 129h1v1h-1zM126 129h1v1h-1zM28 130h2v1h-2zM99 130h1v1h-1zM115 130h1v1h-1zM123 130h1v1h-1zM62 131h1v1h-1zM121 131h1v1h-1zM123 131h1v1h-1zM135 131h1v1h-1zM138 131h1v1h-1zM145 131h3v1h-3zM149 131h1v1h-1zM28 132h2v1h-2zM62 132h1v1h-1zM123 132h1v1h-1zM146 132h1v1h-1zM86 133h2v1h-2zM127 133h1v1h-1zM44 134h1v1h-1zM86 134h2v1h-2zM155 134h1v1h-1zM86 135h2v1h-2zM141 135h1v1h-1zM155 135h2v1h-2zM86 136h2v1h-2zM156 136h1v1h-1zM86 137h2v1h-2zM155 137h2v1h-2zM86 138h2v1h-2zM155 138h1v1h-1zM28 139h2v1h-2zM62 139h1v1h-1zM120 139h2v1h-2zM123 139h1v1h-1zM149 139h1v1h-1zM62 140h1v1h-1zM121 140h1v1h-1zM123 140h1v1h-1zM125 140h1v1h-1zM134 140h1v1h-1zM149 140h1v1h-1zM28 141h2v1h-2zM62 141h1v1h-1zM134 141h1v1h-1zM144 141h1v1h-1zM149 141h1v1h-1zM34 142h1v1h-1zM99 142h1v1h-1zM115 142h1v1h-1zM43 144h3v1h-3zM51 144h1v1h-1zM69 144h1v1h-1zM43 145h1v1h-1zM139 145h1v1h-1zM155 145h1v1h-1zM43 146h2v1h-2zM69 146h1v1h-1zM132 146h1v1h-1zM43 147h1v1h-1zM45 147h1v1h-1zM51 147h1v1h-1zM69 147h1v1h-1zM44 148h2v1h-2zM69 148h1v1h-1zM132 148h1v1h-1zM140 148h1v1h-1zM142 148h1v1h-1zM43 149h2v1h-2zM87 149h1v1h-1zM140 149h2v1h-2zM155 149h1v1h-1zM44 150h2v1h-2zM131 150h2v1h-2zM139 150h1v1h-1zM142 150h1v1h-1zM33 152h1v1h-1zM40 152h2v1h-2zM104 152h2v1h-2zM122 152h1v1h-1zM124 152h1v1h-1zM135 152h1v1h-1zM137 152h1v1h-1zM144 152h1v1h-1zM33 153h1v1h-1zM40 153h2v1h-2zM104 153h2v1h-2zM122 153h1v1h-1zM135 153h1v1h-1zM137 153h1v1h-1zM147 153h1v1h-1zM33 154h1v1h-1zM41 154h1v1h-1zM104 154h2v1h-2zM124 154h1v1h-1zM135 154h1v1h-1zM137 154h1v1h-1zM144 154h1v1h-1zM33 155h1v1h-1zM41 155h1v1h-1zM104 155h2v1h-2zM121 155h1v1h-1zM137 155h1v1h-1zM144 155h1v1h-1zM32 156h1v1h-1zM122 156h1v1h-1zM149 156h2v1h-2z"/>
<path fill="#9c2e7f" d="M28 0h2v1h-2zM34 0h1v1h-1zM68 0h2v1h-2zM71 0h1v1h-1zM123 0h1v1h-1zM28 1h2v1h-2zM34 1h1v1h-1zM69 1h1v1h-1zM120 1h1v1h-1zM123 1h1v1h-1zM134 1h1v1h-1zM34 2h1v1h-1zM68 2h2v1h-2zM74 2h1v1h-1zM116 2h1v1h-1zM28 3h2v1h-2zM34 3h1v1h-1zM68 3h2v1h-2zM71 3h2v1h-2zM84 3h1v1h-1zM123 3h1v1h-1zM128 3h1v1h-1zM62 4h1v1h-1zM68 4h1v1h-1zM79 4h1v1h-1zM99 4h2v1h-2zM104 4h1v1h-1zM62 5h1v1h-1zM99 5h2v1h-2zM155 5h1v1h-1zM68 6h2v1h-2zM79 6h3v1h-3zM100 6h1v1h-1zM68 7h2v1h-2zM80 7h1v1h-1zM127 7h1v1h-1zM28 8h2v1h-2zM69 8h1v1h-1zM79 8h1v1h-1zM84 8h1v1h-1zM100 8h1v1h-1zM123 8h1v1h-1zM84 9h1v1h-1zM116 9h1v1h-1zM34 10h1v1h-1zM68 10h2v1h-2zM71 10h1v1h-1zM74 10h1v1h-1zM84 10h1v1h-1zM116 10h1v1h-1zM34 11h1v1h-1zM68 11h2v1h-2zM74 11h1v1h-1zM84 11h1v1h-1zM123 11h1v1h-1zM34 12h1v1h-1zM68 12h3v1h-3zM74 12h1v1h-1zM84 12h1v1h-1zM62 13h1v1h-1zM69 13h1v1h-1zM79 13h1v1h-1zM99 13h2v1h-2zM104 13h1v1h-1zM62 14h1v1h-1zM68 14h1v1h-1zM84 14h1v1h-1zM99 14h2v1h-2zM104 14h2v1h-2zM62 15h1v1h-1zM68 15h2v1h-2zM79 15h1v1h-1zM99 15h2v1h-2zM105 15h1v1h-1zM62 16h1v1h-1zM68 16h2v1h-2zM79 16h1v1h-1zM84 16h1v1h-1zM99 16h2v1h-2zM104 16h2v1h-2zM68 17h1v1h-1zM84 17h1v1h-1zM99 17h1v1h-1zM104 17h1v1h-1zM28 18h2v1h-2zM69 18h1v1h-1zM120 18h1v1h-1zM123 18h1v1h-1zM134 18h1v1h-1zM145 18h2v1h-2zM149 18h1v1h-1zM34 19h1v1h-1zM68 19h3v1h-3zM74 19h1v1h-1zM83 19h2v1h-2zM123 19h1v1h-1zM39 20h1v1h-1zM68 20h1v1h-1zM70 20h3v1h-3zM74 20h1v1h-1zM84 20h1v1h-1zM116 20h1v1h-1zM126 20h1v1h-1zM128 20h1v1h-1zM68 21h2v1h-2zM71 21h1v1h-1zM84 21h1v1h-1zM116 21h1v1h-1zM62 22h1v1h-1zM69 22h1v1h-1zM80 22h1v1h-1zM99 22h2v1h-2zM69 23h1v1h-1zM79 23h1v1h-1zM84 23h1v1h-1zM99 23h1v1h-1zM104 23h2v1h-2zM62 24h1v1h-1zM69 24h1v1h-1zM99 24h2v1h-2zM104 24h1v1h-1zM69 25h1v1h-1zM84 25h1v1h-1zM100 25h1v1h-1zM104 25h2v1h-2zM62 26h1v1h-1zM68 26h2v1h-2zM99 26h2v1h-2zM105 26h1v1h-1zM34 27h1v1h-1zM68 27h2v1h-2zM71 27h1v1h-1zM84 27h1v1h-1zM120 27h2v1h-2zM123 27h1v1h-1zM134 27h1v1h-1zM136 27h1v1h-1zM145 27h2v1h-2zM149 27h1v1h-1zM43 28h1v1h-1zM86 28h1v1h-1zM141 28h1v1h-1zM155 28h2v1h-2zM44 29h2v1h-2zM51 29h1v1h-1zM69 29h1v1h-1zM131 29h2v1h-2zM139 29h2v1h-2zM142 29h1v1h-1zM43 30h3v1h-3zM132 30h1v1h-1zM140 30h3v1h-3zM155 30h1v1h-1zM1 31h2v1h-2zM37 31h1v1h-1zM45 31h1v1h-1zM51 31h1v1h-1zM107 31h1v1h-1zM114 31h1v1h-1zM132 31h1v1h-1zM139 31h1v1h-1zM51 32h3v1h-3zM106 32h1v1h-1zM108 32h1v1h-1zM111 32h1v1h-1zM131 32h1v1h-1zM139 32h1v1h-1zM1 33h1v1h-1zM19 33h1v1h-1zM38 33h1v1h-1zM52 33h2v1h-2zM82 33h1v1h-1zM106 33h6v1h-6zM114 33h1v1h-1zM118 33h1v1h-1zM43 34h3v1h-3zM69 34h1v1h-1zM131 34h2v1h-2zM142 34h1v1h-1zM43 35h2v1h-2zM141 35h1v1h-1zM155 35h1v1h-1zM28 36h1v1h-1zM67 36h1v1h-1zM99 36h1v1h-1zM121 36h1v1h-1zM134 36h1v1h-1zM146 36h1v1h-1zM149 36h1v1h-1zM67 37h1v1h-1zM71 37h2v1h-2zM74 37h1v1h-1zM81 37h1v1h-1zM100 37h1v1h-1zM116 37h1v1h-1zM67 38h1v1h-1zM70 38h2v1h-2zM80 38h1v1h-1zM99 38h1v1h-1zM115 38h1v1h-1zM28 39h2v1h-2zM62 39h1v1h-1zM67 39h1v1h-1zM120 39h1v1h-1zM134 39h1v1h-1zM145 39h1v1h-1zM147 39h1v1h-1zM149 39h1v1h-1zM36 40h1v1h-1zM69 40h1v1h-1zM131 40h2v1h-2zM140 40h3v1h-3zM37 41h1v1h-1zM69 41h1v1h-1zM132 41h1v1h-1zM140 41h2v1h-2zM155 41h1v1h-1zM51 42h1v1h-1zM86 42h1v1h-1zM132 42h1v1h-1zM140 42h3v1h-3zM155 42h2v1h-2zM28 43h2v1h-2zM67 43h1v1h-1zM99 43h1v1h-1zM120 43h2v1h-2zM123 43h1v1h-1zM125 43h1v1h-1zM134 43h1v1h-1zM136 43h1v1h-1zM146 43h1v1h-1zM149 43h1v1h-1zM30 44h1v1h-1zM29 45h1v1h-1zM34 45h1v1h-1zM51 45h1v1h-1zM99 45h1v1h-1zM120 45h1v1h-1zM123 45h1v1h-1zM134 45h1v1h-1zM52 46h1v1h-1zM63 46h1v1h-1zM86 46h1v1h-1zM88 46h1v1h-1zM127 46h1v1h-1zM63 47h2v1h-2zM68 47h1v1h-1zM88 47h1v1h-1zM127 47h1v1h-1zM86 48h2v1h-2zM155 48h1v1h-1zM68 50h1v1h-1zM40 51h1v1h-1zM56 51h1v1h-1zM104 51h1v1h-1zM120 51h5v1h-5zM134 51h1v1h-1zM136 51h1v1h-1zM138 51h1v1h-1zM144 51h4v1h-4zM149 51h2v1h-2zM28 52h1v1h-1zM62 52h1v1h-1zM67 52h1v1h-1zM115 52h1v1h-1zM123 52h1v1h-1zM134 52h1v1h-1zM28 53h2v1h-2zM62 53h1v1h-1zM115 53h1v1h-1zM134 53h1v1h-1zM28 54h2v1h-2zM58 54h1v1h-1zM80 54h1v1h-1zM123 54h1v1h-1zM134 54h1v1h-1zM149 54h1v1h-1zM28 55h2v1h-2zM34 55h1v1h-1zM67 55h1v1h-1zM80 55h1v1h-1zM120 55h1v1h-1zM123 55h1v1h-1zM134 55h1v1h-1zM138 55h1v1h-1zM146 55h1v1h-1zM149 55h1v1h-1zM28 56h2v1h-2zM67 56h1v1h-1zM99 56h1v1h-1zM123 56h1v1h-1zM134 56h1v1h-1zM146 56h2v1h-2zM29 57h1v1h-1zM33 57h1v1h-1zM40 57h1v1h-1zM104 57h2v1h-2zM124 57h2v1h-2zM136 57h1v1h-1zM144 57h3v1h-3zM148 57h1v1h-1zM150 57h1v1h-1zM28 58h2v1h-2zM120 58h2v1h-2zM134 58h1v1h-1zM136 58h1v1h-1zM138 58h1v1h-1zM145 58h2v1h-2zM149 58h1v1h-1zM34 59h1v1h-1zM67 59h1v1h-1zM99 59h1v1h-1zM115 59h1v1h-1zM123 59h1v1h-1zM28 60h2v1h-2zM33 60h2v1h-2zM67 60h1v1h-1zM120 60h6v1h-6zM134 60h1v1h-1zM136 60h1v1h-1zM138 60h1v1h-1zM145 60h3v1h-3zM149 60h1v1h-1zM28 61h1v1h-1zM34 61h1v1h-1zM99 61h1v1h-1zM123 61h1v1h-1zM55 62h1v1h-1zM86 62h1v1h-1zM127 62h1v1h-1zM141 62h1v1h-1zM155 62h1v1h-1zM88 63h1v1h-1zM28 64h2v1h-2zM80 64h1v1h-1zM120 64h2v1h-2zM123 64h3v1h-3zM134 64h1v1h-1zM138 64h1v1h-1zM146 64h2v1h-2zM149 64h1v1h-1zM28 65h2v1h-2zM120 65h2v1h-2zM123 65h1v1h-1zM138 65h1v1h-1zM146 65h2v1h-2zM28 66h1v1h-1zM34 66h1v1h-1zM62 66h1v1h-1zM80 66h1v1h-1zM99 66h1v1h-1zM115 66h1v1h-1zM123 66h1v1h-1zM88 67h1v1h-1zM72 68h1v1h-1zM78 68h3v1h-3zM84 68h1v1h-1zM95 68h2v1h-2zM100 68h1v1h-1zM28 69h1v1h-1zM34 69h1v1h-1zM115 69h1v1h-1zM33 70h1v1h-1zM40 70h2v1h-2zM67 70h1v1h-1zM77 70h1v1h-1zM122 70h1v1h-1zM135 70h1v1h-1zM137 70h1v1h-1zM144 70h1v1h-1zM150 70h1v1h-1zM43 72h3v1h-3zM140 72h3v1h-3zM155 72h1v1h-1zM155 73h2v1h-2zM43 74h1v1h-1zM68 74h1v1h-1zM87 74h1v1h-1zM155 74h2v1h-2zM34 75h1v1h-1zM96 75h1v1h-1zM103 75h1v1h-1zM115 75h2v1h-2zM34 76h1v1h-1zM71 76h1v1h-1zM84 76h1v1h-1zM34 77h1v1h-1zM67 77h1v1h-1zM70 77h1v1h-1zM84 77h1v1h-1zM95 77h1v1h-1zM97 77h1v1h-1zM67 78h1v1h-1zM116 78h1v1h-1zM127 80h1v1h-1zM127 81h1v1h-1zM29 85h1v1h-1zM41 85h1v1h-1zM120 85h2v1h-2zM124 85h2v1h-2zM134 85h1v1h-1zM136 85h3v1h-3zM145 85h5v1h-5zM28 86h1v1h-1zM40 86h2v1h-2zM120 86h2v1h-2zM124 86h2v1h-2zM134 86h1v1h-1zM136 86h1v1h-1zM138 86h1v1h-1zM144 86h7v1h-7zM29 87h1v1h-1zM33 87h1v1h-1zM62 87h1v1h-1zM67 87h1v1h-1zM78 87h1v1h-1zM103 87h1v1h-1zM124 87h2v1h-2zM135 87h1v1h-1zM137 87h1v1h-1zM145 87h1v1h-1zM147 87h3v1h-3zM28 88h2v1h-2zM62 88h1v1h-1zM67 88h1v1h-1zM78 88h1v1h-1zM81 88h1v1h-1zM97 88h1v1h-1zM103 88h1v1h-1zM120 88h1v1h-1zM123 88h1v1h-1zM125 88h1v1h-1zM134 88h1v1h-1zM138 88h1v1h-1zM145 88h2v1h-2zM40 89h2v1h-2zM94 89h1v1h-1zM124 89h2v1h-2zM134 89h3v1h-3zM138 89h1v1h-1zM144 89h3v1h-3zM148 89h1v1h-1zM40 90h2v1h-2zM120 90h3v1h-3zM124 90h2v1h-2zM135 90h3v1h-3zM144 90h1v1h-1zM147 90h2v1h-2zM150 90h1v1h-1zM28 91h2v1h-2zM62 91h1v1h-1zM87 91h1v1h-1zM120 91h2v1h-2zM123 91h3v1h-3zM135 91h2v1h-2zM138 91h1v1h-1zM145 91h5v1h-5zM33 92h1v1h-1zM40 92h2v1h-2zM67 92h2v1h-2zM122 92h1v1h-1zM124 92h1v1h-1zM135 92h1v1h-1zM144 92h1v1h-1zM146 92h1v1h-1zM148 92h1v1h-1zM150 92h1v1h-1zM40 93h2v1h-2zM67 93h2v1h-2zM122 93h1v1h-1zM135 93h3v1h-3zM144 93h2v1h-2zM147 93h1v1h-1zM150 93h1v1h-1zM30 94h3v1h-3zM88 94h2v1h-2zM75 95h1v1h-1zM88 96h1v1h-1zM75 97h2v1h-2zM28 98h2v1h-2zM34 98h1v1h-1zM68 98h1v1h-1zM121 98h1v1h-1zM123 98h1v1h-1zM134 98h1v1h-1zM136 98h1v1h-1zM138 98h1v1h-1zM145 98h3v1h-3zM43 99h3v1h-3zM132 99h1v1h-1zM140 99h2v1h-2zM155 99h1v1h-1zM34 101h1v1h-1zM67 101h1v1h-1zM107 101h1v1h-1zM123 101h1v1h-1zM28 102h2v1h-2zM62 102h1v1h-1zM67 102h1v1h-1zM120 102h2v1h-2zM123 102h1v1h-1zM134 102h1v1h-1zM146 102h1v1h-1zM75 103h3v1h-3zM76 104h2v1h-2zM111 104h1v1h-1zM127 104h1v1h-1zM155 104h2v1h-2zM76 105h2v1h-2zM111 105h1v1h-1zM155 105h2v1h-2zM33 106h1v1h-1zM41 106h1v1h-1zM122 106h1v1h-1zM125 106h1v1h-1zM135 106h1v1h-1zM137 106h1v1h-1zM144 106h3v1h-3zM148 106h1v1h-1zM150 106h1v1h-1zM28 107h2v1h-2zM120 107h1v1h-1zM124 107h2v1h-2zM134 107h1v1h-1zM136 107h1v1h-1zM146 107h2v1h-2zM149 107h1v1h-1zM33 108h1v1h-1zM41 108h1v1h-1zM62 108h1v1h-1zM104 108h1v1h-1zM124 108h2v1h-2zM134 108h3v1h-3zM144 108h2v1h-2zM147 108h4v1h-4zM29 109h1v1h-1zM34 109h1v1h-1zM62 109h1v1h-1zM67 109h1v1h-1zM120 109h2v1h-2zM123 109h2v1h-2zM134 109h1v1h-1zM138 109h1v1h-1zM147 109h1v1h-1zM149 109h1v1h-1zM29 110h1v1h-1zM34 110h1v1h-1zM62 110h1v1h-1zM103 110h1v1h-1zM121 110h1v1h-1zM123 110h1v1h-1zM125 110h1v1h-1zM134 110h1v1h-1zM138 110h1v1h-1zM146 110h2v1h-2zM28 111h2v1h-2zM62 111h1v1h-1zM120 111h2v1h-2zM123 111h1v1h-1zM125 111h1v1h-1zM134 111h1v1h-1zM138 111h1v1h-1zM145 111h3v1h-3zM137 112h1v1h-1zM33 113h1v1h-1zM40 113h2v1h-2zM67 113h1v1h-1zM104 113h2v1h-2zM122 113h1v1h-1zM135 113h1v1h-1zM144 113h1v1h-1zM148 113h3v1h-3zM123 114h2v1h-2zM126 114h3v1h-3zM130 114h2v1h-2zM134 114h3v1h-3zM138 114h1v1h-1zM143 114h5v1h-5zM149 114h1v1h-1zM151 114h2v1h-2zM156 114h2v1h-2zM86 115h2v1h-2zM155 115h2v1h-2zM86 116h3v1h-3zM127 116h1v1h-1zM156 116h1v1h-1zM86 117h2v1h-2zM112 117h1v1h-1zM140 117h1v1h-1zM155 117h2v1h-2zM43 118h1v1h-1zM86 118h2v1h-2zM107 118h1v1h-1zM113 118h1v1h-1zM129 118h1v1h-1zM154 118h1v1h-1zM28 119h2v1h-2zM62 119h1v1h-1zM122 119h1v1h-1zM138 119h1v1h-1zM146 119h1v1h-1zM148 119h2v1h-2zM28 120h2v1h-2zM34 120h1v1h-1zM62 120h1v1h-1zM67 120h1v1h-1zM125 120h1v1h-1zM134 120h1v1h-1zM138 120h1v1h-1zM145 120h3v1h-3zM43 121h3v1h-3zM69 121h1v1h-1zM117 121h1v1h-1zM131 121h2v1h-2zM139 121h2v1h-2zM142 121h1v1h-1zM44 122h1v1h-1zM69 122h1v1h-1zM107 122h1v1h-1zM127 122h1v1h-1zM131 122h2v1h-2zM139 122h4v1h-4zM44 123h2v1h-2zM51 123h1v1h-1zM69 123h1v1h-1zM107 123h1v1h-1zM114 123h1v1h-1zM131 123h2v1h-2zM139 123h2v1h-2zM142 123h1v1h-1zM45 124h1v1h-1zM118 124h1v1h-1zM131 124h2v1h-2zM140 124h1v1h-1zM43 125h2v1h-2zM69 125h1v1h-1zM119 125h1v1h-1zM140 125h3v1h-3zM155 125h1v1h-1zM34 126h1v1h-1zM99 126h2v1h-2zM115 126h2v1h-2zM34 127h1v1h-1zM67 127h1v1h-1zM70 127h1v1h-1zM80 127h1v1h-1zM99 127h2v1h-2zM115 127h1v1h-1zM123 127h1v1h-1zM34 128h1v1h-1zM70 128h2v1h-2zM81 128h1v1h-1zM99 128h1v1h-1zM115 128h1v1h-1zM34 129h1v1h-1zM67 129h1v1h-1zM71 129h1v1h-1zM80 129h2v1h-2zM100 129h1v1h-1zM116 129h1v1h-1zM34 130h1v1h-1zM80 130h1v1h-1zM100 130h1v1h-1zM126 130h1v1h-1zM28 131h2v1h-2zM34 131h1v1h-1zM67 131h1v1h-1zM80 131h1v1h-1zM99 131h1v1h-1zM115 131h1v1h-1zM120 131h1v1h-1zM34 132h1v1h-1zM67 132h1v1h-1zM80 132h2v1h-2zM99 132h1v1h-1zM115 132h1v1h-1zM43 133h2v1h-2zM69 133h1v1h-1zM140 133h3v1h-3zM155 133h2v1h-2zM43 134h1v1h-1zM45 134h1v1h-1zM140 134h3v1h-3zM43 135h3v1h-3zM132 135h1v1h-1zM142 135h1v1h-1zM44 136h1v1h-1zM69 136h1v1h-1zM155 136h1v1h-1zM43 137h3v1h-3zM131 137h1v1h-1zM43 138h3v1h-3zM69 138h1v1h-1zM131 138h2v1h-2zM34 139h1v1h-1zM67 139h1v1h-1zM80 139h2v1h-2zM99 139h1v1h-1zM115 139h1v1h-1zM28 140h2v1h-2zM34 140h1v1h-1zM100 140h1v1h-1zM115 140h1v1h-1zM120 140h1v1h-1zM34 141h1v1h-1zM80 141h2v1h-2zM99 141h1v1h-1zM115 141h1v1h-1zM136 141h1v1h-1zM147 141h1v1h-1zM67 142h1v1h-1zM71 142h1v1h-1zM74 142h1v1h-1zM80 142h1v1h-1zM100 142h1v1h-1zM116 142h1v1h-1zM68 143h1v1h-1zM88 143h1v1h-1zM2 144h1v1h-1zM52 144h1v1h-1zM82 144h1v1h-1zM106 144h2v1h-2zM114 144h1v1h-1zM118 144h1v1h-1zM131 144h2v1h-2zM141 144h1v1h-1zM44 145h2v1h-2zM51 145h1v1h-1zM53 145h1v1h-1zM69 145h1v1h-1zM131 145h2v1h-2zM2 146h1v1h-1zM20 146h1v1h-1zM45 146h1v1h-1zM51 146h1v1h-1zM53 146h1v1h-1zM107 146h1v1h-1zM110 146h1v1h-1zM114 146h1v1h-1zM131 146h1v1h-1zM2 147h1v1h-1zM52 147h2v1h-2zM106 147h2v1h-2zM131 147h1v1h-1zM139 147h1v1h-1zM141 147h2v1h-2zM51 148h1v1h-1zM80 148h1v1h-1zM131 148h1v1h-1zM139 148h1v1h-1zM2 149h1v1h-1zM45 149h1v1h-1zM69 149h1v1h-1zM131 149h2v1h-2zM2 150h1v1h-1zM51 150h1v1h-1zM53 150h1v1h-1zM75 150h1v1h-1zM82 150h1v1h-1zM107 150h4v1h-4zM112 150h3v1h-3zM155 150h1v1h-1zM68 151h1v1h-1zM157 151h1v1h-1zM29 152h1v1h-1zM62 152h1v1h-1zM120 152h2v1h-2zM125 152h1v1h-1zM134 152h1v1h-1zM136 152h1v1h-1zM138 152h1v1h-1zM146 152h1v1h-1zM158 152h1v1h-1zM28 153h2v1h-2zM62 153h1v1h-1zM67 153h1v1h-1zM120 153h2v1h-2zM123 153h3v1h-3zM134 153h1v1h-1zM136 153h1v1h-1zM138 153h1v1h-1zM145 153h1v1h-1zM148 153h1v1h-1zM28 154h1v1h-1zM40 154h1v1h-1zM62 154h1v1h-1zM121 154h3v1h-3zM125 154h1v1h-1zM134 154h1v1h-1zM136 154h1v1h-1zM138 154h1v1h-1zM28 155h2v1h-2zM40 155h1v1h-1zM62 155h1v1h-1zM120 155h1v1h-1zM122 155h4v1h-4zM135 155h2v1h-2zM138 155h1v1h-1zM145 155h2v1h-2zM29 156h1v1h-1zM33 156h1v1h-1zM40 156h2v1h-2zM104 156h2v1h-2zM124 156h2v1h-2zM135 156h4v1h-4zM144 156h2v1h-2zM147 156h2v1h-2zM151 157h1v1h-1zM68 158h1v1h-1zM88 158h1v1h-1zM152 158h1v1h-1z"/>
<path fill="#a6317d" d="M70 0h1v1h-1zM72 0h1v1h-1zM74 0h2v1h-2zM83 0h2v1h-2zM116 0h1v1h-1zM128 0h1v1h-1zM68 1h1v1h-1zM70 1h6v1h-6zM84 1h1v1h-1zM86 1h1v1h-1zM116 1h1v1h-1zM128 1h1v1h-1zM35 2h1v1h-1zM70 2h4v1h-4zM83 2h2v1h-2zM126 2h1v1h-1zM128 2h1v1h-1zM35 3h1v1h-1zM70 3h1v1h-1zM73 3h3v1h-3zM83 3h1v1h-1zM116 3h1v1h-1zM70 4h1v1h-1zM75 4h1v1h-1zM84 4h1v1h-1zM105 4h1v1h-1zM127 4h1v1h-1zM70 5h3v1h-3zM75 5h1v1h-1zM83 5h2v1h-2zM104 5h2v1h-2zM127 5h1v1h-1zM131 5h1v1h-1zM141 5h1v1h-1zM156 5h1v1h-1zM62 6h1v1h-1zM84 6h1v1h-1zM99 6h1v1h-1zM104 6h2v1h-2zM127 6h1v1h-1zM62 7h1v1h-1zM79 7h1v1h-1zM81 7h1v1h-1zM84 7h1v1h-1zM99 7h2v1h-2zM141 7h1v1h-1zM155 7h2v1h-2zM34 8h1v1h-1zM68 8h1v1h-1zM71 8h2v1h-2zM74 8h1v1h-1zM116 8h1v1h-1zM35 9h1v1h-1zM68 9h8v1h-8zM83 9h1v1h-1zM126 9h1v1h-1zM128 9h1v1h-1zM35 10h1v1h-1zM39 10h1v1h-1zM70 10h1v1h-1zM72 10h2v1h-2zM75 10h1v1h-1zM83 10h1v1h-1zM126 10h1v1h-1zM128 10h1v1h-1zM39 11h1v1h-1zM70 11h4v1h-4zM83 11h1v1h-1zM116 11h1v1h-1zM35 12h1v1h-1zM39 12h1v1h-1zM71 12h3v1h-3zM75 12h1v1h-1zM83 12h1v1h-1zM116 12h1v1h-1zM126 12h1v1h-1zM68 13h1v1h-1zM70 13h1v1h-1zM74 13h2v1h-2zM84 13h1v1h-1zM105 13h1v1h-1zM71 14h2v1h-2zM74 14h2v1h-2zM83 14h1v1h-1zM70 15h2v1h-2zM74 15h2v1h-2zM83 15h2v1h-2zM71 16h2v1h-2zM74 16h2v1h-2zM30 17h2v1h-2zM33 17h2v1h-2zM70 17h6v1h-6zM83 17h1v1h-1zM137 17h1v1h-1zM144 17h1v1h-1zM34 18h1v1h-1zM68 18h1v1h-1zM70 18h3v1h-3zM74 18h2v1h-2zM84 18h1v1h-1zM116 18h1v1h-1zM39 19h1v1h-1zM71 19h3v1h-3zM75 19h1v1h-1zM116 19h1v1h-1zM128 19h1v1h-1zM35 20h1v1h-1zM54 20h1v1h-1zM73 20h1v1h-1zM75 20h1v1h-1zM83 20h1v1h-1zM151 20h1v1h-1zM157 20h2v1h-2zM35 21h1v1h-1zM39 21h1v1h-1zM70 21h1v1h-1zM72 21h3v1h-3zM126 21h1v1h-1zM128 21h1v1h-1zM68 22h1v1h-1zM75 22h1v1h-1zM84 22h1v1h-1zM104 22h2v1h-2zM68 23h1v1h-1zM70 23h3v1h-3zM75 23h1v1h-1zM68 24h1v1h-1zM71 24h1v1h-1zM75 24h1v1h-1zM84 24h1v1h-1zM105 24h1v1h-1zM70 25h6v1h-6zM83 25h1v1h-1zM71 26h1v1h-1zM74 26h2v1h-2zM84 26h1v1h-1zM104 26h1v1h-1zM70 27h1v1h-1zM72 27h4v1h-4zM83 27h1v1h-1zM116 27h1v1h-1zM157 27h1v1h-1zM2 28h1v1h-1zM44 28h2v1h-2zM51 28h1v1h-1zM67 28h1v1h-1zM69 28h1v1h-1zM75 28h1v1h-1zM82 28h1v1h-1zM131 28h2v1h-2zM140 28h1v1h-1zM142 28h1v1h-1zM1 29h2v1h-2zM20 29h1v1h-1zM37 29h2v1h-2zM52 29h2v1h-2zM67 29h1v1h-1zM82 29h1v1h-1zM106 29h7v1h-7zM114 29h1v1h-1zM117 29h1v1h-1zM119 29h1v1h-1zM1 30h2v1h-2zM19 30h3v1h-3zM51 30h1v1h-1zM53 30h1v1h-1zM67 30h1v1h-1zM69 30h1v1h-1zM106 30h2v1h-2zM109 30h2v1h-2zM114 30h1v1h-1zM118 30h1v1h-1zM131 30h1v1h-1zM139 30h1v1h-1zM13 31h1v1h-1zM19 31h3v1h-3zM27 31h1v1h-1zM52 31h2v1h-2zM75 31h2v1h-2zM78 31h1v1h-1zM82 31h1v1h-1zM101 31h1v1h-1zM106 31h1v1h-1zM108 31h5v1h-5zM117 31h3v1h-3zM0 32h4v1h-4zM19 32h3v1h-3zM75 32h4v1h-4zM82 32h1v1h-1zM101 32h1v1h-1zM107 32h1v1h-1zM109 32h2v1h-2zM112 32h3v1h-3zM117 32h3v1h-3zM0 33h1v1h-1zM8 33h1v1h-1zM20 33h2v1h-2zM27 33h1v1h-1zM75 33h4v1h-4zM95 33h1v1h-1zM101 33h1v1h-1zM112 33h2v1h-2zM117 33h1v1h-1zM119 33h1v1h-1zM1 34h2v1h-2zM19 34h1v1h-1zM21 34h1v1h-1zM51 34h1v1h-1zM53 34h1v1h-1zM107 34h4v1h-4zM113 34h1v1h-1zM119 34h1v1h-1zM139 34h2v1h-2zM45 35h1v1h-1zM51 35h1v1h-1zM67 35h1v1h-1zM69 35h1v1h-1zM87 35h1v1h-1zM107 35h1v1h-1zM131 35h2v1h-2zM140 35h1v1h-1zM142 35h1v1h-1zM70 36h1v1h-1zM72 36h1v1h-1zM74 36h1v1h-1zM80 36h2v1h-2zM100 36h1v1h-1zM115 36h1v1h-1zM120 36h1v1h-1zM123 36h1v1h-1zM6 37h2v1h-2zM63 37h1v1h-1zM68 37h1v1h-1zM70 37h1v1h-1zM73 37h1v1h-1zM79 37h1v1h-1zM126 37h1v1h-1zM128 37h1v1h-1zM158 37h1v1h-1zM72 38h1v1h-1zM74 38h1v1h-1zM81 38h1v1h-1zM88 38h1v1h-1zM100 38h1v1h-1zM116 38h1v1h-1zM128 38h1v1h-1zM157 38h1v1h-1zM42 39h1v1h-1zM46 39h1v1h-1zM71 39h2v1h-2zM74 39h1v1h-1zM81 39h1v1h-1zM99 39h2v1h-2zM2 40h1v1h-1zM51 40h3v1h-3zM67 40h1v1h-1zM75 40h1v1h-1zM77 40h2v1h-2zM82 40h1v1h-1zM107 40h2v1h-2zM110 40h1v1h-1zM114 40h1v1h-1zM139 40h1v1h-1zM52 41h2v1h-2zM67 41h1v1h-1zM75 41h1v1h-1zM82 41h1v1h-1zM106 41h2v1h-2zM110 41h2v1h-2zM131 41h1v1h-1zM139 41h1v1h-1zM142 41h1v1h-1zM2 42h1v1h-1zM50 42h1v1h-1zM52 42h1v1h-1zM67 42h1v1h-1zM69 42h1v1h-1zM107 42h1v1h-1zM114 42h1v1h-1zM117 42h3v1h-3zM131 42h1v1h-1zM139 42h1v1h-1zM34 43h1v1h-1zM70 43h2v1h-2zM80 43h1v1h-1zM100 43h1v1h-1zM115 43h2v1h-2zM29 44h1v1h-1zM31 44h2v1h-2zM105 44h1v1h-1zM122 44h1v1h-1zM135 44h1v1h-1zM137 44h1v1h-1zM147 44h1v1h-1zM150 44h1v1h-1zM35 45h1v1h-1zM39 45h1v1h-1zM70 45h2v1h-2zM74 45h1v1h-1zM80 45h2v1h-2zM100 45h1v1h-1zM115 45h2v1h-2zM53 46h1v1h-1zM69 46h1v1h-1zM131 46h2v1h-2zM141 46h2v1h-2zM155 46h2v1h-2zM86 47h2v1h-2zM155 47h2v1h-2zM69 48h1v1h-1zM77 48h1v1h-1zM114 48h1v1h-1zM117 48h2v1h-2zM131 48h1v1h-1zM140 48h3v1h-3zM156 48h1v1h-1zM42 50h1v1h-1zM88 50h1v1h-1zM28 51h2v1h-2zM34 51h1v1h-1zM45 51h1v1h-1zM72 51h1v1h-1zM80 51h1v1h-1zM99 51h1v1h-1zM34 52h1v1h-1zM46 52h1v1h-1zM70 52h1v1h-1zM74 52h1v1h-1zM80 52h2v1h-2zM88 52h1v1h-1zM99 52h2v1h-2zM116 52h1v1h-1zM34 53h2v1h-2zM60 53h1v1h-1zM67 53h2v1h-2zM70 53h3v1h-3zM74 53h1v1h-1zM80 53h2v1h-2zM88 53h1v1h-1zM99 53h2v1h-2zM116 53h1v1h-1zM34 54h1v1h-1zM60 54h2v1h-2zM67 54h1v1h-1zM70 54h3v1h-3zM74 54h1v1h-1zM81 54h1v1h-1zM88 54h1v1h-1zM99 54h2v1h-2zM115 54h2v1h-2zM126 54h1v1h-1zM59 55h2v1h-2zM68 55h1v1h-1zM70 55h2v1h-2zM73 55h2v1h-2zM81 55h1v1h-1zM99 55h2v1h-2zM115 55h2v1h-2zM126 55h1v1h-1zM128 55h1v1h-1zM157 55h1v1h-1zM34 56h2v1h-2zM71 56h4v1h-4zM80 56h2v1h-2zM100 56h1v1h-1zM115 56h2v1h-2zM28 57h1v1h-1zM34 57h1v1h-1zM62 57h1v1h-1zM67 57h2v1h-2zM70 57h1v1h-1zM74 57h1v1h-1zM80 57h1v1h-1zM99 57h2v1h-2zM120 57h2v1h-2zM123 57h1v1h-1zM134 57h1v1h-1zM138 57h1v1h-1zM147 57h1v1h-1zM149 57h1v1h-1zM34 58h1v1h-1zM67 58h1v1h-1zM80 58h1v1h-1zM99 58h2v1h-2zM115 58h1v1h-1zM54 59h2v1h-2zM66 59h1v1h-1zM68 59h1v1h-1zM70 59h2v1h-2zM74 59h1v1h-1zM80 59h2v1h-2zM100 59h1v1h-1zM116 59h1v1h-1zM128 59h1v1h-1zM35 60h1v1h-1zM54 60h2v1h-2zM80 60h1v1h-1zM100 60h1v1h-1zM115 60h1v1h-1zM39 61h1v1h-1zM54 61h1v1h-1zM67 61h1v1h-1zM70 61h3v1h-3zM74 61h1v1h-1zM80 61h2v1h-2zM84 61h1v1h-1zM100 61h1v1h-1zM115 61h2v1h-2zM43 62h1v1h-1zM53 62h1v1h-1zM69 62h1v1h-1zM140 62h1v1h-1zM142 62h1v1h-1zM156 62h1v1h-1zM44 63h1v1h-1zM86 63h2v1h-2zM132 63h1v1h-1zM34 64h2v1h-2zM70 64h1v1h-1zM74 64h1v1h-1zM81 64h1v1h-1zM88 64h1v1h-1zM99 64h2v1h-2zM115 64h2v1h-2zM34 65h1v1h-1zM70 65h1v1h-1zM74 65h1v1h-1zM80 65h2v1h-2zM99 65h1v1h-1zM115 65h2v1h-2zM35 66h1v1h-1zM74 66h1v1h-1zM81 66h1v1h-1zM100 66h1v1h-1zM116 66h1v1h-1zM128 66h1v1h-1zM86 67h2v1h-2zM81 68h3v1h-3zM97 68h1v1h-1zM103 68h3v1h-3zM35 69h1v1h-1zM39 69h1v1h-1zM64 69h1v1h-1zM78 69h1v1h-1zM86 69h1v1h-1zM116 69h1v1h-1zM126 69h1v1h-1zM28 70h2v1h-2zM34 70h1v1h-1zM62 70h1v1h-1zM120 70h2v1h-2zM123 70h3v1h-3zM134 70h1v1h-1zM136 70h1v1h-1zM138 70h1v1h-1zM145 70h5v1h-5zM76 71h1v1h-1zM86 71h1v1h-1zM127 71h1v1h-1zM141 71h2v1h-2zM2 72h1v1h-1zM38 72h1v1h-1zM51 72h3v1h-3zM86 72h1v1h-1zM107 72h1v1h-1zM112 72h1v1h-1zM114 72h1v1h-1zM131 72h2v1h-2zM139 72h1v1h-1zM1 73h2v1h-2zM43 73h3v1h-3zM67 73h1v1h-1zM86 73h1v1h-1zM107 73h1v1h-1zM114 73h1v1h-1zM131 73h1v1h-1zM140 73h3v1h-3zM44 74h2v1h-2zM51 74h1v1h-1zM107 74h2v1h-2zM114 74h1v1h-1zM132 74h1v1h-1zM139 74h4v1h-4zM39 75h1v1h-1zM67 75h1v1h-1zM97 75h1v1h-1zM63 76h1v1h-1zM67 76h1v1h-1zM69 76h1v1h-1zM95 76h2v1h-2zM103 76h1v1h-1zM116 76h1v1h-1zM7 77h1v1h-1zM35 77h1v1h-1zM39 77h1v1h-1zM81 77h1v1h-1zM96 77h1v1h-1zM103 77h1v1h-1zM116 77h1v1h-1zM128 77h1v1h-1zM7 78h1v1h-1zM35 78h1v1h-1zM39 78h1v1h-1zM126 78h1v1h-1zM128 78h1v1h-1zM67 79h1v1h-1zM86 79h1v1h-1zM45 80h1v1h-1zM51 80h1v1h-1zM155 80h2v1h-2zM44 81h1v1h-1zM51 81h1v1h-1zM53 81h1v1h-1zM67 81h1v1h-1zM77 81h1v1h-1zM107 81h1v1h-1zM131 81h2v1h-2zM141 81h2v1h-2zM155 81h2v1h-2zM43 82h1v1h-1zM67 82h1v1h-1zM87 82h1v1h-1zM127 82h1v1h-1zM131 82h1v1h-1zM141 82h2v1h-2zM155 82h2v1h-2zM67 83h1v1h-1zM75 83h1v1h-1zM67 84h1v1h-1zM75 84h2v1h-2zM28 85h1v1h-1zM34 85h1v1h-1zM62 85h1v1h-1zM67 85h2v1h-2zM115 85h2v1h-2zM123 85h1v1h-1zM29 86h1v1h-1zM34 86h1v1h-1zM62 86h1v1h-1zM67 86h1v1h-1zM115 86h2v1h-2zM123 86h1v1h-1zM126 86h1v1h-1zM28 87h1v1h-1zM34 87h1v1h-1zM91 87h1v1h-1zM97 87h1v1h-1zM115 87h1v1h-1zM120 87h2v1h-2zM123 87h1v1h-1zM134 87h1v1h-1zM136 87h1v1h-1zM138 87h1v1h-1zM146 87h1v1h-1zM34 88h1v1h-1zM94 88h1v1h-1zM115 88h1v1h-1zM28 89h2v1h-2zM34 89h1v1h-1zM62 89h1v1h-1zM67 89h2v1h-2zM115 89h1v1h-1zM120 89h2v1h-2zM123 89h1v1h-1zM147 89h1v1h-1zM149 89h1v1h-1zM28 90h2v1h-2zM62 90h1v1h-1zM67 90h1v1h-1zM123 90h1v1h-1zM134 90h1v1h-1zM138 90h1v1h-1zM145 90h2v1h-2zM149 90h1v1h-1zM34 91h1v1h-1zM67 91h2v1h-2zM115 91h1v1h-1zM134 91h1v1h-1zM28 92h2v1h-2zM34 92h1v1h-1zM62 92h1v1h-1zM87 92h1v1h-1zM120 92h2v1h-2zM123 92h1v1h-1zM125 92h1v1h-1zM134 92h1v1h-1zM136 92h1v1h-1zM138 92h1v1h-1zM145 92h1v1h-1zM147 92h1v1h-1zM28 93h2v1h-2zM34 93h1v1h-1zM62 93h1v1h-1zM99 93h1v1h-1zM120 93h2v1h-2zM123 93h2v1h-2zM134 93h1v1h-1zM138 93h1v1h-1zM146 93h1v1h-1zM148 93h2v1h-2zM33 94h1v1h-1zM40 94h2v1h-2zM67 94h2v1h-2zM122 94h1v1h-1zM137 94h1v1h-1zM144 94h1v1h-1zM148 94h3v1h-3zM67 95h1v1h-1zM76 95h2v1h-2zM67 96h1v1h-1zM75 96h3v1h-3zM67 97h1v1h-1zM77 97h1v1h-1zM67 98h1v1h-1zM87 98h2v1h-2zM115 98h2v1h-2zM2 99h1v1h-1zM51 99h3v1h-3zM67 99h1v1h-1zM86 99h1v1h-1zM107 99h1v1h-1zM110 99h1v1h-1zM112 99h1v1h-1zM117 99h2v1h-2zM131 99h1v1h-1zM139 99h1v1h-1zM142 99h1v1h-1zM67 100h1v1h-1zM94 100h1v1h-1zM35 101h1v1h-1zM39 101h1v1h-1zM68 101h1v1h-1zM88 101h1v1h-1zM106 101h1v1h-1zM115 101h2v1h-2zM126 101h1v1h-1zM128 101h1v1h-1zM34 102h2v1h-2zM68 102h1v1h-1zM88 102h1v1h-1zM106 102h1v1h-1zM108 102h1v1h-1zM115 102h2v1h-2zM67 103h1v1h-1zM107 103h1v1h-1zM110 103h1v1h-1zM43 104h3v1h-3zM51 104h1v1h-1zM131 104h2v1h-2zM140 104h3v1h-3zM43 105h3v1h-3zM51 105h1v1h-1zM86 105h1v1h-1zM132 105h1v1h-1zM140 105h3v1h-3zM28 106h2v1h-2zM34 106h1v1h-1zM62 106h1v1h-1zM67 106h2v1h-2zM115 106h1v1h-1zM120 106h2v1h-2zM123 106h2v1h-2zM134 106h1v1h-1zM136 106h1v1h-1zM138 106h1v1h-1zM147 106h1v1h-1zM149 106h1v1h-1zM34 107h2v1h-2zM39 107h1v1h-1zM62 107h1v1h-1zM67 107h1v1h-1zM72 107h1v1h-1zM74 107h1v1h-1zM80 107h2v1h-2zM88 107h1v1h-1zM99 107h1v1h-1zM101 107h1v1h-1zM103 107h1v1h-1zM115 107h2v1h-2zM121 107h1v1h-1zM123 107h1v1h-1zM138 107h1v1h-1zM145 107h1v1h-1zM28 108h2v1h-2zM34 108h1v1h-1zM67 108h1v1h-1zM88 108h1v1h-1zM99 108h1v1h-1zM120 108h2v1h-2zM123 108h1v1h-1zM138 108h1v1h-1zM146 108h1v1h-1zM28 109h1v1h-1zM74 109h1v1h-1zM80 109h1v1h-1zM99 109h2v1h-2zM115 109h1v1h-1zM117 109h1v1h-1zM28 110h1v1h-1zM35 110h1v1h-1zM67 110h1v1h-1zM70 110h3v1h-3zM74 110h1v1h-1zM80 110h1v1h-1zM84 110h1v1h-1zM88 110h1v1h-1zM99 110h2v1h-2zM115 110h1v1h-1zM120 110h1v1h-1zM136 110h1v1h-1zM34 111h2v1h-2zM67 111h2v1h-2zM70 111h2v1h-2zM74 111h1v1h-1zM80 111h2v1h-2zM84 111h1v1h-1zM99 111h2v1h-2zM128 111h1v1h-1zM28 112h1v1h-1zM32 112h2v1h-2zM40 112h2v1h-2zM67 112h1v1h-1zM104 112h1v1h-1zM117 112h1v1h-1zM122 112h1v1h-1zM124 112h1v1h-1zM135 112h2v1h-2zM144 112h1v1h-1zM146 112h1v1h-1zM148 112h1v1h-1zM28 113h2v1h-2zM62 113h1v1h-1zM68 113h1v1h-1zM99 113h1v1h-1zM118 113h1v1h-1zM121 113h1v1h-1zM123 113h1v1h-1zM125 113h1v1h-1zM134 113h1v1h-1zM136 113h1v1h-1zM138 113h1v1h-1zM145 113h3v1h-3zM30 114h1v1h-1zM67 114h2v1h-2zM119 114h2v1h-2zM129 114h1v1h-1zM132 114h2v1h-2zM139 114h4v1h-4zM153 114h3v1h-3zM158 114h1v1h-1zM43 115h3v1h-3zM51 115h1v1h-1zM67 115h1v1h-1zM69 115h1v1h-1zM107 115h1v1h-1zM131 115h1v1h-1zM140 115h3v1h-3zM43 116h3v1h-3zM51 116h1v1h-1zM67 116h1v1h-1zM107 116h2v1h-2zM131 116h2v1h-2zM142 116h1v1h-1zM155 116h1v1h-1zM43 117h1v1h-1zM45 117h1v1h-1zM51 117h1v1h-1zM67 117h1v1h-1zM69 117h1v1h-1zM109 117h1v1h-1zM131 117h2v1h-2zM141 117h2v1h-2zM44 118h2v1h-2zM51 118h1v1h-1zM67 118h1v1h-1zM69 118h1v1h-1zM82 118h1v1h-1zM106 118h1v1h-1zM130 118h1v1h-1zM133 118h1v1h-1zM143 118h1v1h-1zM151 118h3v1h-3zM157 118h1v1h-1zM34 119h1v1h-1zM39 119h1v1h-1zM67 119h2v1h-2zM70 119h1v1h-1zM74 119h1v1h-1zM80 119h2v1h-2zM99 119h1v1h-1zM114 119h1v1h-1zM123 119h1v1h-1zM134 119h1v1h-1zM157 119h1v1h-1zM70 120h2v1h-2zM74 120h1v1h-1zM80 120h2v1h-2zM99 120h2v1h-2zM112 120h1v1h-1zM123 120h1v1h-1zM1 121h2v1h-2zM12 121h1v1h-1zM37 121h2v1h-2zM51 121h3v1h-3zM67 121h1v1h-1zM75 121h1v1h-1zM77 121h2v1h-2zM82 121h1v1h-1zM101 121h1v1h-1zM106 121h8v1h-8zM1 122h2v1h-2zM37 122h1v1h-1zM45 122h1v1h-1zM51 122h3v1h-3zM67 122h1v1h-1zM77 122h2v1h-2zM82 122h1v1h-1zM106 122h1v1h-1zM108 122h1v1h-1zM110 122h2v1h-2zM113 122h2v1h-2zM0 123h3v1h-3zM37 123h2v1h-2zM52 123h2v1h-2zM75 123h1v1h-1zM77 123h1v1h-1zM82 123h1v1h-1zM101 123h1v1h-1zM106 123h1v1h-1zM108 123h6v1h-6zM2 124h1v1h-1zM51 124h3v1h-3zM75 124h1v1h-1zM82 124h1v1h-1zM101 124h1v1h-1zM106 124h7v1h-7zM139 124h1v1h-1zM45 125h1v1h-1zM51 125h1v1h-1zM53 125h1v1h-1zM106 125h3v1h-3zM114 125h1v1h-1zM117 125h1v1h-1zM129 125h1v1h-1zM132 125h1v1h-1zM139 125h1v1h-1zM35 126h1v1h-1zM39 126h1v1h-1zM67 126h2v1h-2zM70 126h5v1h-5zM80 126h2v1h-2zM84 126h1v1h-1zM129 126h2v1h-2zM7 127h1v1h-1zM35 127h1v1h-1zM68 127h1v1h-1zM71 127h2v1h-2zM74 127h1v1h-1zM81 127h1v1h-1zM116 127h1v1h-1zM122 127h1v1h-1zM39 128h1v1h-1zM67 128h1v1h-1zM72 128h3v1h-3zM100 128h1v1h-1zM116 128h1v1h-1zM7 129h1v1h-1zM35 129h1v1h-1zM39 129h1v1h-1zM63 129h1v1h-1zM68 129h1v1h-1zM70 129h1v1h-1zM72 129h3v1h-3zM79 129h1v1h-1zM84 129h1v1h-1zM157 129h1v1h-1zM35 130h1v1h-1zM67 130h1v1h-1zM70 130h2v1h-2zM81 130h1v1h-1zM116 130h1v1h-1zM35 131h1v1h-1zM70 131h3v1h-3zM74 131h1v1h-1zM81 131h1v1h-1zM100 131h1v1h-1zM116 131h1v1h-1zM35 132h1v1h-1zM68 132h1v1h-1zM70 132h2v1h-2zM73 132h2v1h-2zM84 132h1v1h-1zM100 132h1v1h-1zM116 132h1v1h-1zM126 132h1v1h-1zM136 132h1v1h-1zM37 133h2v1h-2zM45 133h1v1h-1zM51 133h3v1h-3zM67 133h1v1h-1zM75 133h1v1h-1zM101 133h1v1h-1zM106 133h2v1h-2zM109 133h1v1h-1zM111 133h1v1h-1zM114 133h1v1h-1zM117 133h1v1h-1zM139 133h1v1h-1zM51 134h3v1h-3zM69 134h1v1h-1zM82 134h1v1h-1zM106 134h2v1h-2zM110 134h1v1h-1zM114 134h1v1h-1zM139 134h1v1h-1zM37 135h2v1h-2zM51 135h1v1h-1zM53 135h1v1h-1zM67 135h1v1h-1zM69 135h1v1h-1zM82 135h1v1h-1zM106 135h3v1h-3zM139 135h1v1h-1zM43 136h1v1h-1zM45 136h1v1h-1zM51 136h1v1h-1zM107 136h1v1h-1zM131 136h1v1h-1zM142 136h1v1h-1zM1 137h2v1h-2zM37 137h1v1h-1zM51 137h4v1h-4zM69 137h1v1h-1zM75 137h1v1h-1zM77 137h1v1h-1zM82 137h1v1h-1zM106 137h3v1h-3zM110 137h3v1h-3zM114 137h1v1h-1zM117 137h3v1h-3zM132 137h1v1h-1zM142 137h1v1h-1zM2 138h1v1h-1zM37 138h1v1h-1zM51 138h3v1h-3zM67 138h1v1h-1zM75 138h1v1h-1zM78 138h1v1h-1zM82 138h1v1h-1zM101 138h2v1h-2zM106 138h3v1h-3zM110 138h3v1h-3zM114 138h1v1h-1zM117 138h1v1h-1zM119 138h1v1h-1zM142 138h1v1h-1zM7 139h1v1h-1zM35 139h1v1h-1zM39 139h1v1h-1zM63 139h1v1h-1zM68 139h1v1h-1zM70 139h5v1h-5zM100 139h1v1h-1zM116 139h1v1h-1zM126 139h1v1h-1zM128 139h1v1h-1zM67 140h1v1h-1zM70 140h2v1h-2zM80 140h2v1h-2zM99 140h1v1h-1zM116 140h1v1h-1zM128 140h1v1h-1zM146 140h1v1h-1zM35 141h1v1h-1zM67 141h1v1h-1zM70 141h3v1h-3zM74 141h1v1h-1zM100 141h1v1h-1zM116 141h1v1h-1zM35 142h1v1h-1zM39 142h1v1h-1zM63 142h1v1h-1zM70 142h1v1h-1zM73 142h1v1h-1zM81 142h1v1h-1zM84 142h1v1h-1zM126 142h1v1h-1zM128 142h1v1h-1zM67 143h1v1h-1zM86 143h2v1h-2zM1 144h1v1h-1zM3 144h1v1h-1zM10 144h1v1h-1zM19 144h3v1h-3zM36 144h3v1h-3zM53 144h1v1h-1zM75 144h4v1h-4zM101 144h2v1h-2zM108 144h6v1h-6zM117 144h1v1h-1zM0 145h3v1h-3zM19 145h1v1h-1zM21 145h1v1h-1zM36 145h1v1h-1zM38 145h1v1h-1zM52 145h1v1h-1zM67 145h1v1h-1zM75 145h3v1h-3zM82 145h1v1h-1zM101 145h1v1h-1zM106 145h3v1h-3zM110 145h5v1h-5zM117 145h2v1h-2zM1 146h1v1h-1zM9 146h1v1h-1zM19 146h1v1h-1zM21 146h1v1h-1zM37 146h2v1h-2zM52 146h1v1h-1zM67 146h1v1h-1zM77 146h1v1h-1zM82 146h1v1h-1zM106 146h1v1h-1zM108 146h2v1h-2zM111 146h1v1h-1zM113 146h1v1h-1zM117 146h2v1h-2zM139 146h1v1h-1zM0 147h2v1h-2zM19 147h3v1h-3zM37 147h2v1h-2zM75 147h4v1h-4zM82 147h1v1h-1zM101 147h1v1h-1zM108 147h1v1h-1zM111 147h4v1h-4zM117 147h3v1h-3zM155 147h1v1h-1zM1 148h2v1h-2zM19 148h1v1h-1zM21 148h1v1h-1zM27 148h1v1h-1zM37 148h2v1h-2zM52 148h2v1h-2zM75 148h1v1h-1zM82 148h1v1h-1zM101 148h1v1h-1zM106 148h3v1h-3zM110 148h5v1h-5zM117 148h3v1h-3zM19 149h3v1h-3zM37 149h1v1h-1zM51 149h3v1h-3zM82 149h1v1h-1zM106 149h2v1h-2zM111 149h1v1h-1zM114 149h1v1h-1zM139 149h1v1h-1zM0 150h2v1h-2zM3 150h1v1h-1zM8 150h1v1h-1zM10 150h1v1h-1zM12 150h2v1h-2zM19 150h3v1h-3zM36 150h3v1h-3zM52 150h1v1h-1zM67 150h1v1h-1zM76 150h3v1h-3zM101 150h2v1h-2zM106 150h1v1h-1zM111 150h1v1h-1zM117 150h3v1h-3zM143 150h1v1h-1zM67 151h1v1h-1zM86 151h3v1h-3zM28 152h1v1h-1zM34 152h1v1h-1zM67 152h1v1h-1zM71 152h1v1h-1zM74 152h1v1h-1zM80 152h2v1h-2zM99 152h1v1h-1zM115 152h1v1h-1zM123 152h1v1h-1zM145 152h1v1h-1zM147 152h1v1h-1zM34 153h2v1h-2zM68 153h1v1h-1zM70 153h3v1h-3zM74 153h1v1h-1zM80 153h2v1h-2zM88 153h1v1h-1zM99 153h2v1h-2zM115 153h2v1h-2zM144 153h1v1h-1zM146 153h1v1h-1zM29 154h1v1h-1zM34 154h2v1h-2zM67 154h2v1h-2zM70 154h1v1h-1zM81 154h1v1h-1zM99 154h2v1h-2zM115 154h2v1h-2zM120 154h1v1h-1zM145 154h1v1h-1zM34 155h1v1h-1zM67 155h1v1h-1zM71 155h1v1h-1zM74 155h1v1h-1zM80 155h2v1h-2zM99 155h1v1h-1zM115 155h1v1h-1zM134 155h1v1h-1zM149 155h1v1h-1zM28 156h1v1h-1zM34 156h1v1h-1zM62 156h1v1h-1zM67 156h1v1h-1zM81 156h1v1h-1zM99 156h1v1h-1zM116 156h1v1h-1zM120 156h2v1h-2zM123 156h1v1h-1zM134 156h1v1h-1zM146 156h1v1h-1zM67 157h2v1h-2zM87 157h2v1h-2zM67 158h1v1h-1zM86 158h2v1h-2z"/>
<path fill="#b0357b" d="M4 0h5v1h-5zM13 0h1v1h-1zM18 0h2v1h-2zM26 0h1v1h-1zM35 0h1v1h-1zM39 0h1v1h-1zM42 0h1v1h-1zM46 0h1v1h-1zM49 0h3v1h-3zM54 0h1v1h-1zM58 0h1v1h-1zM61 0h1v1h-1zM73 0h1v1h-1zM86 0h1v1h-1zM98 0h1v1h-1zM114 0h1v1h-1zM126 0h1v1h-1zM151 0h1v1h-1zM153 0h2v1h-2zM157 0h2v1h-2zM5 1h3v1h-3zM35 1h1v1h-1zM39 1h1v1h-1zM42 1h1v1h-1zM58 1h1v1h-1zM83 1h1v1h-1zM85 1h1v1h-1zM87 1h1v1h-1zM103 1h1v1h-1zM126 1h1v1h-1zM6 2h2v1h-2zM26 2h1v1h-1zM39 2h1v1h-1zM42 2h1v1h-1zM63 2h1v1h-1zM75 2h1v1h-1zM87 2h1v1h-1zM115 2h1v1h-1zM151 2h1v1h-1zM157 2h2v1h-2zM7 3h1v1h-1zM10 3h1v1h-1zM15 3h1v1h-1zM18 3h2v1h-2zM21 3h1v1h-1zM23 3h1v1h-1zM26 3h1v1h-1zM36 3h1v1h-1zM39 3h1v1h-1zM42 3h1v1h-1zM44 3h1v1h-1zM54 3h1v1h-1zM58 3h1v1h-1zM60 3h2v1h-2zM86 3h3v1h-3zM90 3h1v1h-1zM95 3h2v1h-2zM107 3h1v1h-1zM109 3h2v1h-2zM114 3h1v1h-1zM117 3h1v1h-1zM126 3h1v1h-1zM130 3h1v1h-1zM133 3h1v1h-1zM151 3h1v1h-1zM154 3h1v1h-1zM157 3h2v1h-2zM0 4h1v1h-1zM12 4h1v1h-1zM15 4h1v1h-1zM19 4h1v1h-1zM37 4h2v1h-2zM45 4h2v1h-2zM49 4h2v1h-2zM53 4h2v1h-2zM61 4h1v1h-1zM71 4h4v1h-4zM76 4h1v1h-1zM83 4h1v1h-1zM86 4h3v1h-3zM90 4h1v1h-1zM93 4h3v1h-3zM98 4h1v1h-1zM109 4h1v1h-1zM111 4h1v1h-1zM114 4h1v1h-1zM119 4h1v1h-1zM131 4h2v1h-2zM139 4h4v1h-4zM151 4h1v1h-1zM155 4h2v1h-2zM1 5h1v1h-1zM13 5h1v1h-1zM18 5h3v1h-3zM27 5h1v1h-1zM36 5h3v1h-3zM43 5h4v1h-4zM50 5h5v1h-5zM60 5h2v1h-2zM73 5h2v1h-2zM86 5h3v1h-3zM98 5h1v1h-1zM102 5h1v1h-1zM106 5h6v1h-6zM117 5h3v1h-3zM130 5h1v1h-1zM132 5h1v1h-1zM139 5h2v1h-2zM142 5h1v1h-1zM154 5h1v1h-1zM2 6h1v1h-1zM13 6h1v1h-1zM70 6h3v1h-3zM74 6h2v1h-2zM83 6h1v1h-1zM86 6h2v1h-2zM131 6h2v1h-2zM140 6h3v1h-3zM155 6h2v1h-2zM2 7h1v1h-1zM72 7h1v1h-1zM75 7h1v1h-1zM83 7h1v1h-1zM104 7h2v1h-2zM117 7h1v1h-1zM131 7h2v1h-2zM140 7h1v1h-1zM142 7h1v1h-1zM35 8h1v1h-1zM70 8h1v1h-1zM73 8h1v1h-1zM75 8h1v1h-1zM83 8h1v1h-1zM95 8h1v1h-1zM126 8h1v1h-1zM128 8h1v1h-1zM158 8h1v1h-1zM39 9h1v1h-1zM42 9h1v1h-1zM51 9h1v1h-1zM60 9h2v1h-2zM86 9h1v1h-1zM107 9h1v1h-1zM115 9h1v1h-1zM130 9h1v1h-1zM143 9h1v1h-1zM151 9h1v1h-1zM154 9h1v1h-1zM157 9h2v1h-2zM5 10h2v1h-2zM15 10h1v1h-1zM21 10h1v1h-1zM23 10h1v1h-1zM42 10h1v1h-1zM46 10h1v1h-1zM51 10h1v1h-1zM65 10h1v1h-1zM86 10h1v1h-1zM88 10h1v1h-1zM96 10h1v1h-1zM107 10h1v1h-1zM111 10h1v1h-1zM151 10h1v1h-1zM154 10h1v1h-1zM157 10h2v1h-2zM35 11h1v1h-1zM42 11h1v1h-1zM75 11h1v1h-1zM85 11h1v1h-1zM115 11h1v1h-1zM126 11h1v1h-1zM128 11h1v1h-1zM130 11h1v1h-1zM151 11h1v1h-1zM157 11h1v1h-1zM4 12h1v1h-1zM6 12h2v1h-2zM36 12h2v1h-2zM42 12h1v1h-1zM44 12h1v1h-1zM55 12h1v1h-1zM60 12h1v1h-1zM86 12h3v1h-3zM106 12h2v1h-2zM109 12h1v1h-1zM128 12h2v1h-2zM151 12h1v1h-1zM154 12h1v1h-1zM157 12h1v1h-1zM51 13h1v1h-1zM71 13h3v1h-3zM83 13h1v1h-1zM86 13h2v1h-2zM126 13h1v1h-1zM131 13h1v1h-1zM137 13h1v1h-1zM19 14h2v1h-2zM32 14h1v1h-1zM34 14h2v1h-2zM37 14h1v1h-1zM43 14h1v1h-1zM48 14h2v1h-2zM52 14h1v1h-1zM61 14h1v1h-1zM70 14h1v1h-1zM73 14h1v1h-1zM86 14h3v1h-3zM96 14h1v1h-1zM98 14h1v1h-1zM106 14h1v1h-1zM119 14h1v1h-1zM122 14h1v1h-1zM131 14h1v1h-1zM133 14h1v1h-1zM137 14h1v1h-1zM142 14h1v1h-1zM151 14h1v1h-1zM154 14h4v1h-4zM0 15h1v1h-1zM7 15h1v1h-1zM9 15h1v1h-1zM34 15h1v1h-1zM50 15h2v1h-2zM53 15h1v1h-1zM64 15h1v1h-1zM72 15h2v1h-2zM86 15h3v1h-3zM90 15h1v1h-1zM96 15h1v1h-1zM98 15h1v1h-1zM106 15h1v1h-1zM116 15h2v1h-2zM131 15h1v1h-1zM137 15h1v1h-1zM144 15h1v1h-1zM151 15h1v1h-1zM8 16h1v1h-1zM10 16h1v1h-1zM26 16h1v1h-1zM29 16h1v1h-1zM34 16h2v1h-2zM44 16h1v1h-1zM51 16h1v1h-1zM70 16h1v1h-1zM73 16h1v1h-1zM83 16h1v1h-1zM85 16h2v1h-2zM91 16h1v1h-1zM95 16h1v1h-1zM109 16h1v1h-1zM128 16h1v1h-1zM131 16h1v1h-1zM148 16h1v1h-1zM151 16h1v1h-1zM156 16h2v1h-2zM0 17h3v1h-3zM4 17h5v1h-5zM12 17h1v1h-1zM26 17h1v1h-1zM28 17h2v1h-2zM32 17h1v1h-1zM36 17h2v1h-2zM40 17h3v1h-3zM50 17h2v1h-2zM53 17h1v1h-1zM58 17h1v1h-1zM60 17h2v1h-2zM86 17h1v1h-1zM88 17h1v1h-1zM90 17h2v1h-2zM95 17h1v1h-1zM98 17h1v1h-1zM107 17h1v1h-1zM109 17h1v1h-1zM111 17h1v1h-1zM114 17h1v1h-1zM116 17h1v1h-1zM120 17h7v1h-7zM128 17h1v1h-1zM131 17h2v1h-2zM134 17h3v1h-3zM138 17h1v1h-1zM142 17h2v1h-2zM145 17h7v1h-7zM154 17h1v1h-1zM158 17h1v1h-1zM35 18h1v1h-1zM39 18h1v1h-1zM58 18h1v1h-1zM73 18h1v1h-1zM83 18h1v1h-1zM86 18h1v1h-1zM107 18h1v1h-1zM126 18h1v1h-1zM128 18h1v1h-1zM151 18h1v1h-1zM157 18h1v1h-1zM2 19h1v1h-1zM4 19h1v1h-1zM6 19h1v1h-1zM13 19h1v1h-1zM26 19h1v1h-1zM35 19h1v1h-1zM49 19h1v1h-1zM55 19h1v1h-1zM63 19h1v1h-1zM65 19h1v1h-1zM87 19h1v1h-1zM89 19h1v1h-1zM126 19h1v1h-1zM151 19h1v1h-1zM154 19h1v1h-1zM157 19h2v1h-2zM2 20h1v1h-1zM4 20h4v1h-4zM9 20h1v1h-1zM12 20h2v1h-2zM25 20h3v1h-3zM42 20h1v1h-1zM47 20h1v1h-1zM49 20h4v1h-4zM58 20h1v1h-1zM61 20h1v1h-1zM63 20h2v1h-2zM67 20h1v1h-1zM85 20h4v1h-4zM90 20h2v1h-2zM95 20h1v1h-1zM97 20h2v1h-2zM106 20h2v1h-2zM109 20h3v1h-3zM114 20h2v1h-2zM119 20h1v1h-1zM132 20h1v1h-1zM143 20h1v1h-1zM153 20h2v1h-2zM6 21h1v1h-1zM8 21h1v1h-1zM10 21h1v1h-1zM12 21h2v1h-2zM42 21h1v1h-1zM54 21h1v1h-1zM63 21h2v1h-2zM75 21h1v1h-1zM83 21h1v1h-1zM86 21h3v1h-3zM90 21h1v1h-1zM93 21h1v1h-1zM96 21h1v1h-1zM98 21h1v1h-1zM115 21h1v1h-1zM151 21h1v1h-1zM154 21h1v1h-1zM157 21h2v1h-2zM37 22h1v1h-1zM70 22h5v1h-5zM83 22h1v1h-1zM34 23h2v1h-2zM51 23h1v1h-1zM73 23h2v1h-2zM83 23h1v1h-1zM86 23h1v1h-1zM118 23h2v1h-2zM151 23h1v1h-1zM156 23h1v1h-1zM7 24h1v1h-1zM54 24h1v1h-1zM60 24h1v1h-1zM70 24h1v1h-1zM72 24h3v1h-3zM83 24h1v1h-1zM86 24h3v1h-3zM107 24h1v1h-1zM117 24h1v1h-1zM154 24h1v1h-1zM0 25h1v1h-1zM2 25h1v1h-1zM4 25h1v1h-1zM6 25h5v1h-5zM13 25h1v1h-1zM15 25h6v1h-6zM29 25h1v1h-1zM35 25h4v1h-4zM43 25h1v1h-1zM45 25h2v1h-2zM48 25h7v1h-7zM56 25h1v1h-1zM58 25h4v1h-4zM64 25h1v1h-1zM86 25h3v1h-3zM93 25h5v1h-5zM106 25h3v1h-3zM110 25h3v1h-3zM116 25h2v1h-2zM119 25h1v1h-1zM127 25h2v1h-2zM131 25h2v1h-2zM140 25h4v1h-4zM151 25h1v1h-1zM154 25h4v1h-4zM2 26h1v1h-1zM51 26h1v1h-1zM70 26h1v1h-1zM72 26h2v1h-2zM83 26h1v1h-1zM86 26h3v1h-3zM119 26h1v1h-1zM4 27h1v1h-1zM6 27h1v1h-1zM15 27h1v1h-1zM35 27h1v1h-1zM37 27h1v1h-1zM39 27h1v1h-1zM49 27h1v1h-1zM51 27h1v1h-1zM85 27h3v1h-3zM89 27h1v1h-1zM97 27h1v1h-1zM101 27h1v1h-1zM107 27h1v1h-1zM109 27h1v1h-1zM126 27h1v1h-1zM128 27h1v1h-1zM131 27h1v1h-1zM151 27h1v1h-1zM154 27h1v1h-1zM0 28h2v1h-2zM3 28h1v1h-1zM8 28h1v1h-1zM10 28h1v1h-1zM12 28h1v1h-1zM19 28h3v1h-3zM36 28h2v1h-2zM52 28h3v1h-3zM60 28h2v1h-2zM76 28h3v1h-3zM95 28h1v1h-1zM101 28h2v1h-2zM106 28h9v1h-9zM117 28h3v1h-3zM139 28h1v1h-1zM0 29h1v1h-1zM3 29h1v1h-1zM8 29h3v1h-3zM12 29h2v1h-2zM18 29h2v1h-2zM21 29h1v1h-1zM36 29h1v1h-1zM54 29h1v1h-1zM56 29h1v1h-1zM58 29h1v1h-1zM61 29h1v1h-1zM75 29h4v1h-4zM89 29h2v1h-2zM95 29h4v1h-4zM101 29h2v1h-2zM113 29h1v1h-1zM118 29h1v1h-1zM130 29h1v1h-1zM143 29h1v1h-1zM0 30h1v1h-1zM3 30h1v1h-1zM8 30h3v1h-3zM12 30h2v1h-2zM27 30h1v1h-1zM36 30h3v1h-3zM52 30h1v1h-1zM54 30h1v1h-1zM58 30h1v1h-1zM75 30h4v1h-4zM82 30h1v1h-1zM89 30h2v1h-2zM95 30h1v1h-1zM101 30h2v1h-2zM108 30h1v1h-1zM111 30h3v1h-3zM117 30h1v1h-1zM119 30h1v1h-1zM133 30h1v1h-1zM0 31h1v1h-1zM3 31h1v1h-1zM8 31h5v1h-5zM38 31h1v1h-1zM58 31h1v1h-1zM60 31h1v1h-1zM67 31h1v1h-1zM77 31h1v1h-1zM90 31h1v1h-1zM95 31h1v1h-1zM97 31h1v1h-1zM102 31h1v1h-1zM113 31h1v1h-1zM130 31h1v1h-1zM8 32h3v1h-3zM12 32h2v1h-2zM54 32h3v1h-3zM58 32h1v1h-1zM67 32h1v1h-1zM89 32h1v1h-1zM93 32h1v1h-1zM95 32h3v1h-3zM102 32h1v1h-1zM3 33h1v1h-1zM9 33h5v1h-5zM60 33h2v1h-2zM67 33h1v1h-1zM89 33h5v1h-5zM96 33h1v1h-1zM98 33h1v1h-1zM102 33h1v1h-1zM129 33h1v1h-1zM0 34h1v1h-1zM3 34h1v1h-1zM8 34h1v1h-1zM10 34h1v1h-1zM12 34h2v1h-2zM20 34h1v1h-1zM27 34h1v1h-1zM39 34h1v1h-1zM52 34h1v1h-1zM58 34h1v1h-1zM67 34h1v1h-1zM75 34h4v1h-4zM82 34h1v1h-1zM90 34h1v1h-1zM101 34h2v1h-2zM106 34h1v1h-1zM111 34h2v1h-2zM114 34h1v1h-1zM117 34h2v1h-2zM2 35h1v1h-1zM19 35h1v1h-1zM52 35h2v1h-2zM75 35h4v1h-4zM82 35h1v1h-1zM89 35h1v1h-1zM95 35h1v1h-1zM101 35h2v1h-2zM106 35h1v1h-1zM108 35h7v1h-7zM117 35h2v1h-2zM139 35h1v1h-1zM4 36h4v1h-4zM23 36h1v1h-1zM29 36h1v1h-1zM42 36h1v1h-1zM60 36h1v1h-1zM63 36h2v1h-2zM68 36h1v1h-1zM71 36h1v1h-1zM73 36h1v1h-1zM75 36h1v1h-1zM79 36h1v1h-1zM83 36h6v1h-6zM90 36h1v1h-1zM103 36h1v1h-1zM116 36h1v1h-1zM126 36h1v1h-1zM128 36h1v1h-1zM151 36h1v1h-1zM154 36h1v1h-1zM157 36h2v1h-2zM0 37h1v1h-1zM4 37h2v1h-2zM10 37h1v1h-1zM13 37h4v1h-4zM22 37h1v1h-1zM24 37h3v1h-3zM42 37h2v1h-2zM48 37h2v1h-2zM61 37h1v1h-1zM64 37h2v1h-2zM76 37h1v1h-1zM83 37h8v1h-8zM95 37h2v1h-2zM98 37h1v1h-1zM103 37h1v1h-1zM107 37h1v1h-1zM112 37h1v1h-1zM129 37h1v1h-1zM131 37h1v1h-1zM133 37h1v1h-1zM143 37h1v1h-1zM151 37h1v1h-1zM153 37h1v1h-1zM157 37h1v1h-1zM4 38h4v1h-4zM15 38h2v1h-2zM25 38h2v1h-2zM47 38h1v1h-1zM49 38h1v1h-1zM60 38h2v1h-2zM63 38h1v1h-1zM65 38h1v1h-1zM68 38h1v1h-1zM73 38h1v1h-1zM75 38h2v1h-2zM79 38h1v1h-1zM83 38h2v1h-2zM86 38h2v1h-2zM89 38h2v1h-2zM95 38h1v1h-1zM98 38h1v1h-1zM103 38h1v1h-1zM126 38h1v1h-1zM151 38h1v1h-1zM158 38h1v1h-1zM4 39h1v1h-1zM7 39h1v1h-1zM17 39h1v1h-1zM61 39h1v1h-1zM63 39h1v1h-1zM68 39h1v1h-1zM70 39h1v1h-1zM73 39h1v1h-1zM79 39h1v1h-1zM84 39h1v1h-1zM86 39h1v1h-1zM103 39h1v1h-1zM126 39h1v1h-1zM128 39h1v1h-1zM154 39h1v1h-1zM157 39h1v1h-1zM0 40h2v1h-2zM3 40h1v1h-1zM9 40h2v1h-2zM13 40h1v1h-1zM19 40h3v1h-3zM48 40h1v1h-1zM50 40h1v1h-1zM54 40h1v1h-1zM58 40h1v1h-1zM60 40h2v1h-2zM76 40h1v1h-1zM90 40h1v1h-1zM93 40h4v1h-4zM98 40h1v1h-1zM101 40h2v1h-2zM106 40h1v1h-1zM109 40h1v1h-1zM111 40h3v1h-3zM119 40h1v1h-1zM1 41h3v1h-3zM8 41h1v1h-1zM13 41h1v1h-1zM19 41h1v1h-1zM36 41h1v1h-1zM46 41h1v1h-1zM49 41h1v1h-1zM51 41h1v1h-1zM54 41h1v1h-1zM61 41h1v1h-1zM76 41h3v1h-3zM89 41h2v1h-2zM95 41h1v1h-1zM101 41h2v1h-2zM108 41h2v1h-2zM112 41h3v1h-3zM119 41h1v1h-1zM0 42h2v1h-2zM8 42h1v1h-1zM10 42h1v1h-1zM19 42h3v1h-3zM36 42h2v1h-2zM53 42h2v1h-2zM58 42h1v1h-1zM60 42h1v1h-1zM75 42h4v1h-4zM82 42h1v1h-1zM91 42h1v1h-1zM94 42h2v1h-2zM97 42h1v1h-1zM101 42h2v1h-2zM106 42h1v1h-1zM108 42h6v1h-6zM4 43h4v1h-4zM9 43h1v1h-1zM18 43h1v1h-1zM35 43h1v1h-1zM51 43h2v1h-2zM54 43h1v1h-1zM61 43h1v1h-1zM63 43h1v1h-1zM68 43h1v1h-1zM72 43h3v1h-3zM79 43h1v1h-1zM81 43h1v1h-1zM83 43h9v1h-9zM95 43h2v1h-2zM98 43h1v1h-1zM107 43h1v1h-1zM126 43h1v1h-1zM128 43h1v1h-1zM154 43h1v1h-1zM158 43h1v1h-1zM2 44h1v1h-1zM5 44h2v1h-2zM12 44h1v1h-1zM15 44h1v1h-1zM19 44h1v1h-1zM28 44h1v1h-1zM33 44h3v1h-3zM54 44h1v1h-1zM60 44h1v1h-1zM63 44h2v1h-2zM67 44h2v1h-2zM71 44h2v1h-2zM74 44h2v1h-2zM80 44h2v1h-2zM84 44h5v1h-5zM95 44h1v1h-1zM99 44h1v1h-1zM104 44h1v1h-1zM107 44h1v1h-1zM116 44h1v1h-1zM120 44h2v1h-2zM123 44h3v1h-3zM134 44h1v1h-1zM136 44h1v1h-1zM138 44h1v1h-1zM144 44h3v1h-3zM148 44h2v1h-2zM157 44h1v1h-1zM5 45h3v1h-3zM13 45h1v1h-1zM54 45h1v1h-1zM68 45h1v1h-1zM72 45h2v1h-2zM75 45h1v1h-1zM79 45h1v1h-1zM83 45h6v1h-6zM90 45h1v1h-1zM103 45h1v1h-1zM126 45h1v1h-1zM128 45h1v1h-1zM151 45h1v1h-1zM153 45h1v1h-1zM157 45h1v1h-1zM0 46h3v1h-3zM10 46h1v1h-1zM19 46h1v1h-1zM27 46h1v1h-1zM37 46h3v1h-3zM58 46h1v1h-1zM75 46h4v1h-4zM82 46h1v1h-1zM84 46h1v1h-1zM96 46h2v1h-2zM101 46h2v1h-2zM106 46h6v1h-6zM113 46h2v1h-2zM117 46h1v1h-1zM119 46h1v1h-1zM139 46h2v1h-2zM2 47h1v1h-1zM37 47h1v1h-1zM54 47h1v1h-1zM69 47h1v1h-1zM75 47h1v1h-1zM84 47h1v1h-1zM102 47h1v1h-1zM106 47h2v1h-2zM109 47h4v1h-4zM114 47h1v1h-1zM117 47h3v1h-3zM131 47h2v1h-2zM139 47h4v1h-4zM0 48h4v1h-4zM8 48h2v1h-2zM12 48h2v1h-2zM18 48h4v1h-4zM36 48h3v1h-3zM53 48h1v1h-1zM55 48h1v1h-1zM60 48h1v1h-1zM75 48h2v1h-2zM78 48h1v1h-1zM82 48h1v1h-1zM89 48h2v1h-2zM96 48h3v1h-3zM101 48h1v1h-1zM106 48h7v1h-7zM119 48h1v1h-1zM132 48h1v1h-1zM139 48h1v1h-1zM154 48h1v1h-1zM157 48h1v1h-1zM41 49h1v1h-1zM56 49h1v1h-1zM68 49h1v1h-1zM84 49h1v1h-1zM86 49h1v1h-1zM88 49h1v1h-1zM90 49h1v1h-1zM2 50h1v1h-1zM7 50h1v1h-1zM12 50h1v1h-1zM15 50h1v1h-1zM18 50h2v1h-2zM21 50h1v1h-1zM29 50h2v1h-2zM32 50h1v1h-1zM35 50h1v1h-1zM72 50h1v1h-1zM75 50h1v1h-1zM81 50h1v1h-1zM83 50h5v1h-5zM90 50h1v1h-1zM95 50h2v1h-2zM101 50h1v1h-1zM107 50h1v1h-1zM116 50h1v1h-1zM128 50h1v1h-1zM131 50h1v1h-1zM137 50h1v1h-1zM151 50h1v1h-1zM154 50h1v1h-1zM7 51h1v1h-1zM35 51h1v1h-1zM39 51h1v1h-1zM42 51h2v1h-2zM68 51h1v1h-1zM70 51h2v1h-2zM73 51h2v1h-2zM81 51h1v1h-1zM84 51h1v1h-1zM88 51h1v1h-1zM95 51h1v1h-1zM100 51h1v1h-1zM115 51h2v1h-2zM126 51h1v1h-1zM128 51h1v1h-1zM157 51h2v1h-2zM4 52h1v1h-1zM6 52h1v1h-1zM15 52h1v1h-1zM35 52h1v1h-1zM39 52h1v1h-1zM43 52h1v1h-1zM61 52h1v1h-1zM63 52h1v1h-1zM68 52h1v1h-1zM71 52h3v1h-3zM79 52h1v1h-1zM84 52h1v1h-1zM87 52h1v1h-1zM126 52h1v1h-1zM128 52h1v1h-1zM151 52h1v1h-1zM154 52h1v1h-1zM157 52h2v1h-2zM6 53h2v1h-2zM39 53h1v1h-1zM42 53h1v1h-1zM46 53h1v1h-1zM59 53h1v1h-1zM61 53h1v1h-1zM63 53h2v1h-2zM73 53h1v1h-1zM84 53h1v1h-1zM86 53h1v1h-1zM95 53h1v1h-1zM103 53h1v1h-1zM128 53h3v1h-3zM143 53h1v1h-1zM151 53h1v1h-1zM157 53h1v1h-1zM4 54h1v1h-1zM6 54h3v1h-3zM13 54h1v1h-1zM25 54h1v1h-1zM35 54h1v1h-1zM39 54h1v1h-1zM47 54h1v1h-1zM59 54h1v1h-1zM63 54h1v1h-1zM65 54h1v1h-1zM68 54h1v1h-1zM73 54h1v1h-1zM83 54h4v1h-4zM89 54h2v1h-2zM96 54h1v1h-1zM103 54h1v1h-1zM128 54h1v1h-1zM151 54h1v1h-1zM154 54h1v1h-1zM157 54h2v1h-2zM4 55h1v1h-1zM6 55h4v1h-4zM15 55h1v1h-1zM19 55h1v1h-1zM27 55h1v1h-1zM35 55h1v1h-1zM39 55h1v1h-1zM42 55h1v1h-1zM46 55h1v1h-1zM48 55h1v1h-1zM61 55h1v1h-1zM63 55h3v1h-3zM72 55h1v1h-1zM75 55h1v1h-1zM79 55h1v1h-1zM84 55h1v1h-1zM86 55h4v1h-4zM95 55h1v1h-1zM103 55h1v1h-1zM143 55h1v1h-1zM151 55h1v1h-1zM154 55h1v1h-1zM158 55h1v1h-1zM4 56h1v1h-1zM7 56h1v1h-1zM15 56h1v1h-1zM39 56h1v1h-1zM49 56h1v1h-1zM60 56h1v1h-1zM63 56h1v1h-1zM68 56h1v1h-1zM70 56h1v1h-1zM79 56h1v1h-1zM83 56h2v1h-2zM86 56h1v1h-1zM88 56h1v1h-1zM90 56h1v1h-1zM103 56h1v1h-1zM111 56h1v1h-1zM126 56h1v1h-1zM128 56h1v1h-1zM151 56h1v1h-1zM157 56h2v1h-2zM4 57h1v1h-1zM6 57h2v1h-2zM14 57h2v1h-2zM18 57h2v1h-2zM22 57h2v1h-2zM26 57h1v1h-1zM35 57h1v1h-1zM39 57h1v1h-1zM64 57h1v1h-1zM71 57h3v1h-3zM76 57h1v1h-1zM79 57h1v1h-1zM81 57h1v1h-1zM84 57h1v1h-1zM86 57h1v1h-1zM88 57h1v1h-1zM95 57h3v1h-3zM115 57h3v1h-3zM126 57h1v1h-1zM128 57h1v1h-1zM151 57h1v1h-1zM154 57h1v1h-1zM157 57h2v1h-2zM39 58h1v1h-1zM54 58h1v1h-1zM68 58h1v1h-1zM70 58h3v1h-3zM74 58h1v1h-1zM81 58h1v1h-1zM84 58h1v1h-1zM88 58h1v1h-1zM116 58h1v1h-1zM126 58h1v1h-1zM4 59h4v1h-4zM13 59h4v1h-4zM18 59h1v1h-1zM21 59h1v1h-1zM23 59h1v1h-1zM35 59h1v1h-1zM39 59h1v1h-1zM42 59h1v1h-1zM49 59h5v1h-5zM72 59h2v1h-2zM75 59h1v1h-1zM79 59h1v1h-1zM83 59h6v1h-6zM90 59h1v1h-1zM94 59h2v1h-2zM103 59h1v1h-1zM107 59h1v1h-1zM111 59h1v1h-1zM126 59h1v1h-1zM131 59h1v1h-1zM133 59h1v1h-1zM143 59h1v1h-1zM151 59h2v1h-2zM154 59h1v1h-1zM157 59h2v1h-2zM5 60h1v1h-1zM7 60h1v1h-1zM39 60h1v1h-1zM42 60h1v1h-1zM46 60h1v1h-1zM53 60h1v1h-1zM68 60h1v1h-1zM70 60h5v1h-5zM81 60h1v1h-1zM84 60h1v1h-1zM88 60h1v1h-1zM95 60h1v1h-1zM99 60h1v1h-1zM107 60h1v1h-1zM116 60h1v1h-1zM126 60h1v1h-1zM128 60h1v1h-1zM151 60h1v1h-1zM157 60h1v1h-1zM4 61h2v1h-2zM7 61h1v1h-1zM9 61h1v1h-1zM15 61h1v1h-1zM19 61h1v1h-1zM25 61h2v1h-2zM35 61h1v1h-1zM37 61h1v1h-1zM42 61h1v1h-1zM53 61h1v1h-1zM55 61h1v1h-1zM68 61h1v1h-1zM73 61h1v1h-1zM79 61h1v1h-1zM83 61h1v1h-1zM86 61h5v1h-5zM106 61h1v1h-1zM126 61h1v1h-1zM128 61h1v1h-1zM151 61h1v1h-1zM154 61h1v1h-1zM157 61h2v1h-2zM0 62h3v1h-3zM10 62h1v1h-1zM13 62h1v1h-1zM19 62h1v1h-1zM21 62h1v1h-1zM36 62h3v1h-3zM52 62h1v1h-1zM54 62h1v1h-1zM56 62h1v1h-1zM67 62h1v1h-1zM75 62h4v1h-4zM82 62h1v1h-1zM90 62h1v1h-1zM101 62h1v1h-1zM106 62h9v1h-9zM117 62h3v1h-3zM131 62h3v1h-3zM139 62h1v1h-1zM0 63h2v1h-2zM9 63h1v1h-1zM12 63h1v1h-1zM18 63h2v1h-2zM27 63h1v1h-1zM38 63h1v1h-1zM43 63h1v1h-1zM54 63h1v1h-1zM68 63h2v1h-2zM75 63h4v1h-4zM84 63h1v1h-1zM89 63h2v1h-2zM92 63h5v1h-5zM101 63h2v1h-2zM106 63h2v1h-2zM111 63h1v1h-1zM114 63h1v1h-1zM117 63h1v1h-1zM119 63h1v1h-1zM127 63h1v1h-1zM131 63h1v1h-1zM140 63h3v1h-3zM151 63h1v1h-1zM155 63h3v1h-3zM5 64h3v1h-3zM14 64h2v1h-2zM25 64h2v1h-2zM39 64h1v1h-1zM44 64h1v1h-1zM57 64h1v1h-1zM69 64h1v1h-1zM71 64h3v1h-3zM75 64h2v1h-2zM84 64h4v1h-4zM89 64h2v1h-2zM93 64h1v1h-1zM95 64h1v1h-1zM119 64h1v1h-1zM126 64h1v1h-1zM128 64h1v1h-1zM130 64h1v1h-1zM133 64h1v1h-1zM151 64h1v1h-1zM153 64h1v1h-1zM157 64h1v1h-1zM5 65h1v1h-1zM7 65h1v1h-1zM15 65h1v1h-1zM35 65h1v1h-1zM58 65h1v1h-1zM71 65h3v1h-3zM84 65h1v1h-1zM88 65h1v1h-1zM100 65h1v1h-1zM103 65h1v1h-1zM126 65h1v1h-1zM128 65h1v1h-1zM157 65h1v1h-1zM4 66h1v1h-1zM6 66h2v1h-2zM15 66h1v1h-1zM39 66h1v1h-1zM42 66h1v1h-1zM59 66h1v1h-1zM70 66h1v1h-1zM72 66h2v1h-2zM79 66h1v1h-1zM84 66h2v1h-2zM87 66h2v1h-2zM103 66h1v1h-1zM126 66h1v1h-1zM151 66h1v1h-1zM157 66h2v1h-2zM2 67h1v1h-1zM19 67h2v1h-2zM43 67h1v1h-1zM52 67h1v1h-1zM60 67h1v1h-1zM70 67h1v1h-1zM73 67h1v1h-1zM75 67h1v1h-1zM77 67h1v1h-1zM111 67h1v1h-1zM117 67h1v1h-1zM119 67h1v1h-1zM127 67h1v1h-1zM131 67h2v1h-2zM140 67h1v1h-1zM154 67h1v1h-1zM1 68h2v1h-2zM18 68h2v1h-2zM34 68h1v1h-1zM36 68h2v1h-2zM43 68h1v1h-1zM45 68h1v1h-1zM54 68h1v1h-1zM60 68h2v1h-2zM74 68h1v1h-1zM86 68h1v1h-1zM88 68h1v1h-1zM90 68h1v1h-1zM94 68h1v1h-1zM98 68h1v1h-1zM107 68h1v1h-1zM109 68h1v1h-1zM117 68h1v1h-1zM127 68h1v1h-1zM131 68h1v1h-1zM140 68h1v1h-1zM142 68h1v1h-1zM154 68h1v1h-1zM156 68h1v1h-1zM4 69h4v1h-4zM15 69h2v1h-2zM19 69h1v1h-1zM22 69h1v1h-1zM26 69h1v1h-1zM42 69h1v1h-1zM49 69h3v1h-3zM54 69h1v1h-1zM60 69h1v1h-1zM63 69h1v1h-1zM74 69h1v1h-1zM80 69h2v1h-2zM84 69h1v1h-1zM87 69h2v1h-2zM90 69h1v1h-1zM95 69h1v1h-1zM98 69h2v1h-2zM104 69h3v1h-3zM128 69h1v1h-1zM151 69h1v1h-1zM157 69h2v1h-2zM4 70h1v1h-1zM35 70h1v1h-1zM63 70h1v1h-1zM65 70h1v1h-1zM75 70h1v1h-1zM79 70h1v1h-1zM84 70h1v1h-1zM86 70h3v1h-3zM90 70h1v1h-1zM95 70h1v1h-1zM104 70h1v1h-1zM115 70h2v1h-2zM126 70h1v1h-1zM143 70h1v1h-1zM0 71h1v1h-1zM2 71h1v1h-1zM9 71h2v1h-2zM19 71h1v1h-1zM37 71h2v1h-2zM43 71h3v1h-3zM51 71h2v1h-2zM58 71h1v1h-1zM60 71h1v1h-1zM67 71h1v1h-1zM90 71h1v1h-1zM101 71h1v1h-1zM107 71h2v1h-2zM111 71h1v1h-1zM114 71h1v1h-1zM119 71h1v1h-1zM131 71h2v1h-2zM140 71h1v1h-1zM143 71h1v1h-1zM152 71h1v1h-1zM155 71h2v1h-2zM0 72h2v1h-2zM10 72h1v1h-1zM12 72h1v1h-1zM19 72h3v1h-3zM36 72h1v1h-1zM56 72h1v1h-1zM58 72h1v1h-1zM101 72h1v1h-1zM108 72h4v1h-4zM113 72h1v1h-1zM119 72h1v1h-1zM37 73h2v1h-2zM51 73h4v1h-4zM58 73h1v1h-1zM108 73h6v1h-6zM117 73h3v1h-3zM132 73h1v1h-1zM139 73h1v1h-1zM0 74h3v1h-3zM10 74h1v1h-1zM12 74h1v1h-1zM19 74h1v1h-1zM21 74h1v1h-1zM27 74h1v1h-1zM36 74h3v1h-3zM52 74h2v1h-2zM56 74h1v1h-1zM67 74h1v1h-1zM79 74h1v1h-1zM86 74h1v1h-1zM109 74h3v1h-3zM113 74h1v1h-1zM117 74h3v1h-3zM131 74h1v1h-1zM5 75h1v1h-1zM7 75h1v1h-1zM35 75h1v1h-1zM42 75h1v1h-1zM63 75h1v1h-1zM68 75h1v1h-1zM70 75h1v1h-1zM83 75h1v1h-1zM86 75h1v1h-1zM98 75h1v1h-1zM126 75h1v1h-1zM128 75h1v1h-1zM151 75h1v1h-1zM157 75h2v1h-2zM35 76h1v1h-1zM39 76h1v1h-1zM68 76h1v1h-1zM97 76h1v1h-1zM126 76h1v1h-1zM128 76h1v1h-1zM157 76h1v1h-1zM6 77h1v1h-1zM14 77h2v1h-2zM42 77h1v1h-1zM63 77h1v1h-1zM83 77h1v1h-1zM86 77h1v1h-1zM93 77h1v1h-1zM126 77h1v1h-1zM151 77h1v1h-1zM157 77h2v1h-2zM4 78h3v1h-3zM16 78h2v1h-2zM42 78h1v1h-1zM47 78h1v1h-1zM49 78h2v1h-2zM63 78h1v1h-1zM65 78h1v1h-1zM69 78h1v1h-1zM86 78h1v1h-1zM90 78h1v1h-1zM107 78h1v1h-1zM119 78h1v1h-1zM130 78h1v1h-1zM151 78h1v1h-1zM157 78h2v1h-2zM0 79h3v1h-3zM13 79h1v1h-1zM19 79h1v1h-1zM37 79h1v1h-1zM43 79h1v1h-1zM45 79h1v1h-1zM51 79h3v1h-3zM61 79h1v1h-1zM70 79h1v1h-1zM74 79h1v1h-1zM90 79h1v1h-1zM106 79h1v1h-1zM110 79h1v1h-1zM114 79h1v1h-1zM117 79h1v1h-1zM127 79h1v1h-1zM131 79h2v1h-2zM140 79h4v1h-4zM155 79h2v1h-2zM8 80h1v1h-1zM36 80h2v1h-2zM43 80h2v1h-2zM52 80h3v1h-3zM58 80h1v1h-1zM60 80h1v1h-1zM67 80h1v1h-1zM86 80h1v1h-1zM89 80h1v1h-1zM109 80h2v1h-2zM112 80h1v1h-1zM114 80h1v1h-1zM117 80h3v1h-3zM131 80h2v1h-2zM140 80h3v1h-3zM0 81h4v1h-4zM9 81h1v1h-1zM13 81h1v1h-1zM19 81h1v1h-1zM27 81h1v1h-1zM36 81h2v1h-2zM43 81h1v1h-1zM45 81h1v1h-1zM49 81h1v1h-1zM52 81h1v1h-1zM54 81h1v1h-1zM61 81h1v1h-1zM69 81h1v1h-1zM89 81h2v1h-2zM101 81h1v1h-1zM108 81h7v1h-7zM117 81h3v1h-3zM139 81h2v1h-2zM0 82h3v1h-3zM19 82h1v1h-1zM37 82h2v1h-2zM44 82h2v1h-2zM51 82h1v1h-1zM53 82h1v1h-1zM57 82h1v1h-1zM69 82h1v1h-1zM89 82h1v1h-1zM106 82h7v1h-7zM114 82h1v1h-1zM119 82h1v1h-1zM130 82h1v1h-1zM132 82h1v1h-1zM139 82h2v1h-2zM1 83h2v1h-2zM5 83h1v1h-1zM8 83h1v1h-1zM10 83h1v1h-1zM13 83h1v1h-1zM19 83h1v1h-1zM24 83h4v1h-4zM32 83h1v1h-1zM34 83h2v1h-2zM39 83h1v1h-1zM45 83h1v1h-1zM54 83h1v1h-1zM60 83h2v1h-2zM77 83h1v1h-1zM90 83h1v1h-1zM107 83h1v1h-1zM117 83h1v1h-1zM123 83h1v1h-1zM126 83h1v1h-1zM129 83h1v1h-1zM132 83h1v1h-1zM137 83h1v1h-1zM143 83h1v1h-1zM151 83h1v1h-1zM154 83h1v1h-1zM157 83h1v1h-1zM4 84h1v1h-1zM7 84h1v1h-1zM77 84h1v1h-1zM90 84h1v1h-1zM130 84h2v1h-2zM151 84h1v1h-1zM154 84h4v1h-4zM7 85h1v1h-1zM15 85h1v1h-1zM25 85h1v1h-1zM35 85h1v1h-1zM39 85h1v1h-1zM64 85h1v1h-1zM71 85h1v1h-1zM74 85h1v1h-1zM105 85h1v1h-1zM126 85h1v1h-1zM128 85h1v1h-1zM154 85h1v1h-1zM157 85h1v1h-1zM5 86h1v1h-1zM7 86h1v1h-1zM10 86h1v1h-1zM16 86h1v1h-1zM18 86h1v1h-1zM26 86h1v1h-1zM35 86h1v1h-1zM39 86h1v1h-1zM42 86h1v1h-1zM50 86h1v1h-1zM68 86h1v1h-1zM70 86h1v1h-1zM72 86h1v1h-1zM74 86h1v1h-1zM90 86h1v1h-1zM95 86h2v1h-2zM99 86h1v1h-1zM104 86h2v1h-2zM128 86h1v1h-1zM151 86h1v1h-1zM157 86h1v1h-1zM6 87h2v1h-2zM35 87h1v1h-1zM39 87h1v1h-1zM63 87h1v1h-1zM74 87h1v1h-1zM82 87h1v1h-1zM116 87h1v1h-1zM130 87h1v1h-1zM143 87h1v1h-1zM151 87h1v1h-1zM157 87h1v1h-1zM4 88h1v1h-1zM7 88h1v1h-1zM35 88h1v1h-1zM74 88h1v1h-1zM96 88h1v1h-1zM116 88h1v1h-1zM126 88h1v1h-1zM128 88h1v1h-1zM157 88h1v1h-1zM5 89h1v1h-1zM7 89h1v1h-1zM35 89h1v1h-1zM39 89h1v1h-1zM64 89h1v1h-1zM80 89h1v1h-1zM99 89h1v1h-1zM104 89h1v1h-1zM107 89h1v1h-1zM116 89h1v1h-1zM128 89h1v1h-1zM131 89h1v1h-1zM151 89h1v1h-1zM157 89h1v1h-1zM4 90h1v1h-1zM7 90h1v1h-1zM34 90h2v1h-2zM47 90h1v1h-1zM63 90h1v1h-1zM68 90h1v1h-1zM84 90h1v1h-1zM104 90h1v1h-1zM115 90h2v1h-2zM126 90h1v1h-1zM128 90h1v1h-1zM151 90h1v1h-1zM7 91h1v1h-1zM35 91h1v1h-1zM39 91h1v1h-1zM60 91h2v1h-2zM63 91h1v1h-1zM74 91h1v1h-1zM76 91h2v1h-2zM86 91h1v1h-1zM116 91h2v1h-2zM126 91h1v1h-1zM128 91h1v1h-1zM130 91h1v1h-1zM151 91h1v1h-1zM157 91h2v1h-2zM2 92h1v1h-1zM4 92h1v1h-1zM7 92h1v1h-1zM26 92h1v1h-1zM35 92h1v1h-1zM39 92h1v1h-1zM46 92h1v1h-1zM51 92h1v1h-1zM61 92h1v1h-1zM63 92h2v1h-2zM75 92h2v1h-2zM106 92h1v1h-1zM110 92h1v1h-1zM115 92h3v1h-3zM126 92h1v1h-1zM128 92h1v1h-1zM151 92h1v1h-1zM154 92h1v1h-1zM2 93h1v1h-1zM6 93h2v1h-2zM9 93h1v1h-1zM16 93h1v1h-1zM35 93h1v1h-1zM37 93h1v1h-1zM42 93h1v1h-1zM50 93h1v1h-1zM52 93h1v1h-1zM54 93h1v1h-1zM61 93h1v1h-1zM63 93h1v1h-1zM70 93h1v1h-1zM75 93h3v1h-3zM86 93h1v1h-1zM115 93h3v1h-3zM119 93h1v1h-1zM126 93h1v1h-1zM128 93h1v1h-1zM151 93h1v1h-1zM154 93h1v1h-1zM157 93h1v1h-1zM28 94h2v1h-2zM62 94h1v1h-1zM75 94h1v1h-1zM100 94h1v1h-1zM115 94h2v1h-2zM120 94h2v1h-2zM123 94h3v1h-3zM134 94h1v1h-1zM136 94h1v1h-1zM138 94h1v1h-1zM145 94h3v1h-3zM2 95h1v1h-1zM70 95h1v1h-1zM86 95h1v1h-1zM101 95h1v1h-1zM107 95h1v1h-1zM131 95h1v1h-1zM151 95h1v1h-1zM155 95h1v1h-1zM2 96h1v1h-1zM37 96h1v1h-1zM86 96h1v1h-1zM89 96h1v1h-1zM102 96h1v1h-1zM132 96h1v1h-1zM151 96h1v1h-1zM155 96h2v1h-2zM0 97h1v1h-1zM19 97h1v1h-1zM51 97h1v1h-1zM86 97h1v1h-1zM141 97h2v1h-2zM155 97h2v1h-2zM4 98h4v1h-4zM14 98h1v1h-1zM26 98h1v1h-1zM35 98h1v1h-1zM39 98h1v1h-1zM42 98h1v1h-1zM63 98h1v1h-1zM70 98h1v1h-1zM75 98h2v1h-2zM86 98h1v1h-1zM89 98h2v1h-2zM101 98h1v1h-1zM107 98h1v1h-1zM119 98h1v1h-1zM126 98h1v1h-1zM128 98h1v1h-1zM151 98h1v1h-1zM154 98h1v1h-1zM157 98h1v1h-1zM0 99h2v1h-2zM3 99h1v1h-1zM13 99h1v1h-1zM19 99h3v1h-3zM36 99h3v1h-3zM58 99h1v1h-1zM61 99h1v1h-1zM89 99h2v1h-2zM93 99h2v1h-2zM106 99h1v1h-1zM108 99h2v1h-2zM111 99h1v1h-1zM113 99h2v1h-2zM119 99h1v1h-1zM2 100h1v1h-1zM10 100h1v1h-1zM21 100h1v1h-1zM25 100h1v1h-1zM30 100h1v1h-1zM34 100h2v1h-2zM37 100h1v1h-1zM53 100h2v1h-2zM61 100h1v1h-1zM86 100h1v1h-1zM89 100h2v1h-2zM119 100h1v1h-1zM125 100h1v1h-1zM140 100h2v1h-2zM144 100h1v1h-1zM149 100h1v1h-1zM152 100h1v1h-1zM154 100h1v1h-1zM156 100h2v1h-2zM4 101h2v1h-2zM7 101h1v1h-1zM9 101h1v1h-1zM15 101h1v1h-1zM19 101h2v1h-2zM22 101h1v1h-1zM24 101h3v1h-3zM42 101h1v1h-1zM46 101h1v1h-1zM54 101h1v1h-1zM58 101h1v1h-1zM60 101h2v1h-2zM63 101h1v1h-1zM70 101h7v1h-7zM79 101h3v1h-3zM84 101h1v1h-1zM86 101h2v1h-2zM90 101h1v1h-1zM95 101h1v1h-1zM98 101h1v1h-1zM110 101h1v1h-1zM114 101h1v1h-1zM119 101h1v1h-1zM131 101h1v1h-1zM151 101h1v1h-1zM157 101h2v1h-2zM4 102h4v1h-4zM12 102h1v1h-1zM37 102h1v1h-1zM39 102h1v1h-1zM49 102h1v1h-1zM54 102h1v1h-1zM58 102h1v1h-1zM60 102h2v1h-2zM63 102h1v1h-1zM70 102h2v1h-2zM74 102h1v1h-1zM77 102h1v1h-1zM79 102h3v1h-3zM84 102h4v1h-4zM90 102h1v1h-1zM96 102h1v1h-1zM110 102h1v1h-1zM126 102h1v1h-1zM128 102h1v1h-1zM130 102h1v1h-1zM151 102h1v1h-1zM154 102h1v1h-1zM157 102h2v1h-2zM2 103h1v1h-1zM9 103h1v1h-1zM12 103h1v1h-1zM15 103h1v1h-1zM19 103h1v1h-1zM27 103h1v1h-1zM29 103h1v1h-1zM31 103h1v1h-1zM34 103h1v1h-1zM38 103h1v1h-1zM43 103h1v1h-1zM51 103h1v1h-1zM54 103h2v1h-2zM58 103h1v1h-1zM65 103h1v1h-1zM85 103h2v1h-2zM89 103h2v1h-2zM112 103h1v1h-1zM114 103h1v1h-1zM122 103h1v1h-1zM124 103h1v1h-1zM130 103h3v1h-3zM137 103h1v1h-1zM142 103h2v1h-2zM151 103h1v1h-1zM154 103h2v1h-2zM157 103h1v1h-1zM0 104h4v1h-4zM9 104h1v1h-1zM12 104h2v1h-2zM19 104h2v1h-2zM37 104h2v1h-2zM52 104h2v1h-2zM57 104h1v1h-1zM67 104h1v1h-1zM69 104h1v1h-1zM86 104h1v1h-1zM90 104h1v1h-1zM108 104h1v1h-1zM114 104h1v1h-1zM117 104h3v1h-3zM139 104h1v1h-1zM0 105h4v1h-4zM13 105h1v1h-1zM19 105h1v1h-1zM21 105h1v1h-1zM37 105h2v1h-2zM52 105h3v1h-3zM67 105h1v1h-1zM109 105h1v1h-1zM113 105h2v1h-2zM117 105h3v1h-3zM131 105h1v1h-1zM139 105h1v1h-1zM6 106h2v1h-2zM35 106h1v1h-1zM39 106h1v1h-1zM61 106h1v1h-1zM70 106h2v1h-2zM80 106h2v1h-2zM84 106h1v1h-1zM86 106h3v1h-3zM101 106h2v1h-2zM111 106h1v1h-1zM113 106h2v1h-2zM116 106h1v1h-1zM126 106h1v1h-1zM128 106h1v1h-1zM4 107h1v1h-1zM6 107h2v1h-2zM10 107h1v1h-1zM13 107h1v1h-1zM19 107h1v1h-1zM26 107h1v1h-1zM42 107h1v1h-1zM48 107h1v1h-1zM54 107h1v1h-1zM60 107h1v1h-1zM63 107h1v1h-1zM68 107h1v1h-1zM70 107h2v1h-2zM73 107h1v1h-1zM79 107h1v1h-1zM84 107h1v1h-1zM87 107h1v1h-1zM89 107h2v1h-2zM95 107h3v1h-3zM100 107h1v1h-1zM112 107h1v1h-1zM126 107h1v1h-1zM128 107h2v1h-2zM151 107h1v1h-1zM157 107h1v1h-1zM6 108h2v1h-2zM13 108h1v1h-1zM35 108h1v1h-1zM39 108h1v1h-1zM50 108h2v1h-2zM63 108h2v1h-2zM68 108h1v1h-1zM70 108h3v1h-3zM74 108h1v1h-1zM80 108h2v1h-2zM84 108h1v1h-1zM86 108h1v1h-1zM90 108h1v1h-1zM95 108h1v1h-1zM100 108h1v1h-1zM115 108h1v1h-1zM126 108h1v1h-1zM128 108h1v1h-1zM4 109h1v1h-1zM7 109h1v1h-1zM35 109h1v1h-1zM39 109h1v1h-1zM42 109h1v1h-1zM63 109h1v1h-1zM68 109h1v1h-1zM70 109h4v1h-4zM79 109h1v1h-1zM81 109h1v1h-1zM84 109h1v1h-1zM86 109h3v1h-3zM90 109h1v1h-1zM95 109h1v1h-1zM126 109h1v1h-1zM128 109h1v1h-1zM157 109h1v1h-1zM0 110h1v1h-1zM4 110h1v1h-1zM6 110h2v1h-2zM13 110h3v1h-3zM25 110h1v1h-1zM39 110h1v1h-1zM42 110h1v1h-1zM46 110h1v1h-1zM49 110h1v1h-1zM51 110h1v1h-1zM53 110h2v1h-2zM63 110h1v1h-1zM66 110h1v1h-1zM68 110h1v1h-1zM73 110h1v1h-1zM75 110h1v1h-1zM77 110h1v1h-1zM79 110h1v1h-1zM81 110h1v1h-1zM83 110h1v1h-1zM86 110h2v1h-2zM90 110h1v1h-1zM95 110h1v1h-1zM101 110h1v1h-1zM104 110h1v1h-1zM116 110h1v1h-1zM126 110h1v1h-1zM128 110h1v1h-1zM151 110h2v1h-2zM154 110h1v1h-1zM157 110h1v1h-1zM4 111h1v1h-1zM6 111h2v1h-2zM13 111h1v1h-1zM15 111h1v1h-1zM18 111h2v1h-2zM25 111h2v1h-2zM39 111h1v1h-1zM46 111h1v1h-1zM48 111h1v1h-1zM54 111h1v1h-1zM61 111h1v1h-1zM63 111h1v1h-1zM65 111h2v1h-2zM72 111h2v1h-2zM79 111h1v1h-1zM83 111h1v1h-1zM86 111h5v1h-5zM95 111h2v1h-2zM101 111h1v1h-1zM106 111h1v1h-1zM119 111h1v1h-1zM126 111h1v1h-1zM151 111h1v1h-1zM153 111h1v1h-1zM157 111h2v1h-2zM7 112h1v1h-1zM29 112h1v1h-1zM34 112h1v1h-1zM62 112h1v1h-1zM68 112h1v1h-1zM74 112h1v1h-1zM80 112h1v1h-1zM84 112h1v1h-1zM86 112h1v1h-1zM88 112h1v1h-1zM99 112h1v1h-1zM105 112h1v1h-1zM107 112h1v1h-1zM121 112h1v1h-1zM123 112h1v1h-1zM125 112h1v1h-1zM128 112h1v1h-1zM134 112h1v1h-1zM138 112h1v1h-1zM145 112h1v1h-1zM147 112h1v1h-1zM149 112h2v1h-2zM5 113h1v1h-1zM7 113h1v1h-1zM14 113h1v1h-1zM34 113h2v1h-2zM39 113h1v1h-1zM65 113h1v1h-1zM70 113h3v1h-3zM74 113h1v1h-1zM80 113h2v1h-2zM84 113h1v1h-1zM86 113h1v1h-1zM88 113h1v1h-1zM100 113h1v1h-1zM103 113h1v1h-1zM106 113h1v1h-1zM120 113h1v1h-1zM126 113h1v1h-1zM128 113h1v1h-1zM133 113h1v1h-1zM154 113h1v1h-1zM158 113h1v1h-1zM7 114h1v1h-1zM9 114h1v1h-1zM28 114h2v1h-2zM31 114h2v1h-2zM34 114h2v1h-2zM40 114h1v1h-1zM54 114h1v1h-1zM60 114h1v1h-1zM62 114h1v1h-1zM71 114h1v1h-1zM80 114h2v1h-2zM84 114h1v1h-1zM86 114h3v1h-3zM90 114h1v1h-1zM95 114h1v1h-1zM104 114h2v1h-2zM0 115h4v1h-4zM10 115h1v1h-1zM38 115h1v1h-1zM49 115h1v1h-1zM52 115h2v1h-2zM61 115h1v1h-1zM75 115h4v1h-4zM101 115h2v1h-2zM106 115h1v1h-1zM110 115h1v1h-1zM132 115h1v1h-1zM139 115h1v1h-1zM1 116h2v1h-2zM8 116h3v1h-3zM12 116h1v1h-1zM19 116h3v1h-3zM36 116h3v1h-3zM52 116h3v1h-3zM60 116h2v1h-2zM69 116h1v1h-1zM75 116h4v1h-4zM82 116h1v1h-1zM90 116h1v1h-1zM94 116h3v1h-3zM101 116h2v1h-2zM106 116h1v1h-1zM110 116h1v1h-1zM130 116h1v1h-1zM139 116h3v1h-3zM143 116h1v1h-1zM0 117h3v1h-3zM10 117h1v1h-1zM36 117h1v1h-1zM38 117h1v1h-1zM52 117h2v1h-2zM75 117h4v1h-4zM82 117h1v1h-1zM90 117h1v1h-1zM95 117h1v1h-1zM97 117h1v1h-1zM101 117h1v1h-1zM106 117h3v1h-3zM139 117h1v1h-1zM0 118h4v1h-4zM19 118h3v1h-3zM36 118h3v1h-3zM52 118h3v1h-3zM60 118h1v1h-1zM75 118h4v1h-4zM90 118h1v1h-1zM95 118h1v1h-1zM97 118h1v1h-1zM101 118h2v1h-2zM108 118h4v1h-4zM126 118h1v1h-1zM128 118h1v1h-1zM158 118h1v1h-1zM5 119h3v1h-3zM15 119h1v1h-1zM35 119h1v1h-1zM58 119h1v1h-1zM63 119h1v1h-1zM65 119h1v1h-1zM71 119h3v1h-3zM75 119h1v1h-1zM79 119h1v1h-1zM84 119h1v1h-1zM86 119h5v1h-5zM93 119h1v1h-1zM95 119h1v1h-1zM100 119h1v1h-1zM103 119h1v1h-1zM107 119h1v1h-1zM111 119h1v1h-1zM126 119h1v1h-1zM128 119h1v1h-1zM140 119h1v1h-1zM151 119h1v1h-1zM154 119h1v1h-1zM2 120h1v1h-1zM5 120h1v1h-1zM7 120h3v1h-3zM14 120h1v1h-1zM18 120h1v1h-1zM35 120h1v1h-1zM39 120h1v1h-1zM42 120h1v1h-1zM49 120h1v1h-1zM51 120h1v1h-1zM63 120h1v1h-1zM68 120h1v1h-1zM72 120h2v1h-2zM83 120h2v1h-2zM86 120h3v1h-3zM101 120h1v1h-1zM103 120h1v1h-1zM114 120h2v1h-2zM128 120h1v1h-1zM151 120h1v1h-1zM154 120h1v1h-1zM157 120h1v1h-1zM0 121h1v1h-1zM3 121h1v1h-1zM8 121h4v1h-4zM13 121h1v1h-1zM19 121h3v1h-3zM27 121h1v1h-1zM54 121h3v1h-3zM58 121h4v1h-4zM64 121h1v1h-1zM76 121h1v1h-1zM90 121h1v1h-1zM92 121h5v1h-5zM98 121h1v1h-1zM102 121h1v1h-1zM129 121h2v1h-2zM0 122h1v1h-1zM8 122h3v1h-3zM12 122h2v1h-2zM19 122h3v1h-3zM36 122h1v1h-1zM38 122h1v1h-1zM50 122h1v1h-1zM54 122h2v1h-2zM58 122h4v1h-4zM75 122h1v1h-1zM89 122h2v1h-2zM95 122h1v1h-1zM101 122h2v1h-2zM109 122h1v1h-1zM112 122h1v1h-1zM119 122h1v1h-1zM3 123h1v1h-1zM8 123h6v1h-6zM19 123h3v1h-3zM27 123h1v1h-1zM36 123h1v1h-1zM54 123h1v1h-1zM60 123h2v1h-2zM67 123h1v1h-1zM76 123h1v1h-1zM78 123h1v1h-1zM89 123h3v1h-3zM95 123h2v1h-2zM102 123h1v1h-1zM119 123h1v1h-1zM129 123h1v1h-1zM0 124h2v1h-2zM3 124h1v1h-1zM36 124h3v1h-3zM54 124h2v1h-2zM67 124h1v1h-1zM76 124h3v1h-3zM102 124h1v1h-1zM113 124h2v1h-2zM117 124h1v1h-1zM0 125h3v1h-3zM19 125h3v1h-3zM27 125h1v1h-1zM37 125h2v1h-2zM52 125h1v1h-1zM67 125h1v1h-1zM75 125h4v1h-4zM82 125h1v1h-1zM90 125h1v1h-1zM95 125h1v1h-1zM101 125h2v1h-2zM109 125h5v1h-5zM118 125h1v1h-1zM4 126h4v1h-4zM54 126h1v1h-1zM63 126h2v1h-2zM79 126h1v1h-1zM88 126h1v1h-1zM157 126h1v1h-1zM4 127h1v1h-1zM6 127h1v1h-1zM39 127h1v1h-1zM42 127h1v1h-1zM63 127h3v1h-3zM73 127h1v1h-1zM79 127h1v1h-1zM84 127h1v1h-1zM86 127h3v1h-3zM103 127h1v1h-1zM151 127h1v1h-1zM154 127h1v1h-1zM157 127h2v1h-2zM4 128h1v1h-1zM6 128h2v1h-2zM35 128h1v1h-1zM42 128h1v1h-1zM63 128h2v1h-2zM68 128h1v1h-1zM79 128h1v1h-1zM87 128h2v1h-2zM123 128h1v1h-1zM151 128h1v1h-1zM157 128h2v1h-2zM0 129h1v1h-1zM4 129h3v1h-3zM15 129h1v1h-1zM25 129h3v1h-3zM42 129h1v1h-1zM51 129h1v1h-1zM56 129h1v1h-1zM65 129h1v1h-1zM76 129h1v1h-1zM78 129h1v1h-1zM82 129h2v1h-2zM86 129h1v1h-1zM88 129h1v1h-1zM92 129h1v1h-1zM95 129h1v1h-1zM103 129h1v1h-1zM107 129h1v1h-1zM151 129h1v1h-1zM153 129h2v1h-2zM158 129h1v1h-1zM7 130h1v1h-1zM15 130h1v1h-1zM39 130h1v1h-1zM42 130h1v1h-1zM63 130h1v1h-1zM68 130h1v1h-1zM72 130h3v1h-3zM79 130h1v1h-1zM83 130h2v1h-2zM88 130h1v1h-1zM157 130h2v1h-2zM4 131h1v1h-1zM6 131h2v1h-2zM37 131h1v1h-1zM39 131h1v1h-1zM42 131h1v1h-1zM61 131h1v1h-1zM63 131h2v1h-2zM68 131h1v1h-1zM73 131h1v1h-1zM75 131h1v1h-1zM79 131h1v1h-1zM84 131h1v1h-1zM86 131h1v1h-1zM88 131h1v1h-1zM103 131h1v1h-1zM126 131h1v1h-1zM151 131h1v1h-1zM157 131h2v1h-2zM4 132h4v1h-4zM23 132h2v1h-2zM26 132h1v1h-1zM39 132h1v1h-1zM42 132h1v1h-1zM49 132h1v1h-1zM61 132h1v1h-1zM63 132h1v1h-1zM65 132h1v1h-1zM72 132h1v1h-1zM79 132h1v1h-1zM83 132h1v1h-1zM85 132h4v1h-4zM90 132h1v1h-1zM95 132h1v1h-1zM103 132h1v1h-1zM151 132h1v1h-1zM157 132h2v1h-2zM0 133h4v1h-4zM8 133h3v1h-3zM12 133h2v1h-2zM19 133h3v1h-3zM27 133h1v1h-1zM36 133h1v1h-1zM54 133h2v1h-2zM57 133h2v1h-2zM60 133h2v1h-2zM76 133h3v1h-3zM82 133h1v1h-1zM89 133h2v1h-2zM95 133h2v1h-2zM98 133h1v1h-1zM102 133h1v1h-1zM108 133h1v1h-1zM110 133h1v1h-1zM112 133h2v1h-2zM118 133h2v1h-2zM1 134h2v1h-2zM37 134h1v1h-1zM54 134h1v1h-1zM67 134h1v1h-1zM75 134h4v1h-4zM89 134h1v1h-1zM101 134h2v1h-2zM108 134h2v1h-2zM111 134h3v1h-3zM117 134h3v1h-3zM0 135h3v1h-3zM13 135h1v1h-1zM20 135h2v1h-2zM36 135h1v1h-1zM52 135h1v1h-1zM75 135h4v1h-4zM95 135h1v1h-1zM101 135h2v1h-2zM109 135h6v1h-6zM117 135h3v1h-3zM0 136h1v1h-1zM2 136h1v1h-1zM20 136h1v1h-1zM37 136h2v1h-2zM52 136h2v1h-2zM67 136h1v1h-1zM75 136h4v1h-4zM82 136h1v1h-1zM101 136h2v1h-2zM106 136h1v1h-1zM110 136h2v1h-2zM113 136h2v1h-2zM117 136h3v1h-3zM141 136h1v1h-1zM0 137h1v1h-1zM3 137h1v1h-1zM8 137h2v1h-2zM13 137h1v1h-1zM18 137h4v1h-4zM27 137h1v1h-1zM36 137h1v1h-1zM38 137h1v1h-1zM56 137h1v1h-1zM59 137h3v1h-3zM67 137h1v1h-1zM76 137h1v1h-1zM78 137h1v1h-1zM89 137h8v1h-8zM98 137h1v1h-1zM101 137h2v1h-2zM109 137h1v1h-1zM113 137h1v1h-1zM143 137h1v1h-1zM0 138h2v1h-2zM3 138h1v1h-1zM8 138h3v1h-3zM13 138h1v1h-1zM19 138h3v1h-3zM27 138h1v1h-1zM36 138h1v1h-1zM38 138h1v1h-1zM54 138h2v1h-2zM58 138h1v1h-1zM60 138h2v1h-2zM76 138h2v1h-2zM89 138h2v1h-2zM95 138h1v1h-1zM97 138h1v1h-1zM109 138h1v1h-1zM113 138h1v1h-1zM118 138h1v1h-1zM129 138h2v1h-2zM133 138h1v1h-1zM4 139h3v1h-3zM14 139h2v1h-2zM22 139h1v1h-1zM42 139h1v1h-1zM46 139h2v1h-2zM60 139h1v1h-1zM64 139h1v1h-1zM79 139h1v1h-1zM83 139h7v1h-7zM96 139h1v1h-1zM98 139h1v1h-1zM103 139h1v1h-1zM119 139h1v1h-1zM130 139h1v1h-1zM151 139h1v1h-1zM154 139h1v1h-1zM157 139h2v1h-2zM4 140h1v1h-1zM6 140h2v1h-2zM26 140h1v1h-1zM35 140h1v1h-1zM39 140h1v1h-1zM63 140h1v1h-1zM68 140h1v1h-1zM72 140h3v1h-3zM79 140h1v1h-1zM84 140h1v1h-1zM88 140h1v1h-1zM107 140h1v1h-1zM119 140h1v1h-1zM126 140h1v1h-1zM144 140h1v1h-1zM151 140h1v1h-1zM154 140h1v1h-1zM4 141h1v1h-1zM6 141h2v1h-2zM15 141h1v1h-1zM39 141h1v1h-1zM42 141h1v1h-1zM63 141h2v1h-2zM68 141h1v1h-1zM73 141h1v1h-1zM79 141h1v1h-1zM83 141h2v1h-2zM88 141h1v1h-1zM126 141h1v1h-1zM128 141h1v1h-1zM145 141h1v1h-1zM151 141h1v1h-1zM154 141h1v1h-1zM157 141h2v1h-2zM5 142h3v1h-3zM15 142h1v1h-1zM25 142h1v1h-1zM42 142h1v1h-1zM50 142h1v1h-1zM65 142h2v1h-2zM68 142h1v1h-1zM76 142h1v1h-1zM79 142h1v1h-1zM83 142h1v1h-1zM85 142h2v1h-2zM88 142h1v1h-1zM90 142h1v1h-1zM103 142h1v1h-1zM151 142h1v1h-1zM157 142h2v1h-2zM2 143h1v1h-1zM13 143h1v1h-1zM20 143h2v1h-2zM37 143h2v1h-2zM43 143h3v1h-3zM51 143h3v1h-3zM69 143h1v1h-1zM75 143h2v1h-2zM78 143h1v1h-1zM82 143h1v1h-1zM84 143h1v1h-1zM90 143h1v1h-1zM96 143h1v1h-1zM101 143h1v1h-1zM107 143h1v1h-1zM110 143h2v1h-2zM114 143h1v1h-1zM117 143h3v1h-3zM127 143h1v1h-1zM131 143h2v1h-2zM155 143h3v1h-3zM0 144h1v1h-1zM8 144h2v1h-2zM12 144h2v1h-2zM27 144h1v1h-1zM54 144h2v1h-2zM58 144h1v1h-1zM60 144h2v1h-2zM67 144h1v1h-1zM89 144h2v1h-2zM93 144h4v1h-4zM119 144h1v1h-1zM130 144h1v1h-1zM3 145h1v1h-1zM8 145h6v1h-6zM20 145h1v1h-1zM27 145h1v1h-1zM37 145h1v1h-1zM54 145h1v1h-1zM56 145h1v1h-1zM78 145h1v1h-1zM89 145h2v1h-2zM95 145h2v1h-2zM98 145h1v1h-1zM102 145h1v1h-1zM109 145h1v1h-1zM119 145h1v1h-1zM0 146h1v1h-1zM3 146h1v1h-1zM8 146h1v1h-1zM10 146h4v1h-4zM27 146h1v1h-1zM36 146h1v1h-1zM54 146h3v1h-3zM58 146h1v1h-1zM60 146h2v1h-2zM75 146h2v1h-2zM78 146h1v1h-1zM90 146h6v1h-6zM97 146h2v1h-2zM101 146h2v1h-2zM112 146h1v1h-1zM119 146h1v1h-1zM140 146h1v1h-1zM3 147h1v1h-1zM8 147h3v1h-3zM12 147h2v1h-2zM27 147h1v1h-1zM36 147h1v1h-1zM54 147h1v1h-1zM67 147h1v1h-1zM89 147h1v1h-1zM97 147h1v1h-1zM102 147h1v1h-1zM154 147h1v1h-1zM0 148h1v1h-1zM3 148h1v1h-1zM8 148h3v1h-3zM12 148h2v1h-2zM20 148h1v1h-1zM36 148h1v1h-1zM58 148h1v1h-1zM67 148h1v1h-1zM76 148h3v1h-3zM89 148h2v1h-2zM95 148h1v1h-1zM102 148h1v1h-1zM109 148h1v1h-1zM154 148h1v1h-1zM0 149h2v1h-2zM3 149h1v1h-1zM10 149h1v1h-1zM12 149h2v1h-2zM27 149h1v1h-1zM38 149h1v1h-1zM61 149h1v1h-1zM67 149h1v1h-1zM75 149h1v1h-1zM77 149h2v1h-2zM101 149h2v1h-2zM108 149h3v1h-3zM112 149h2v1h-2zM117 149h3v1h-3zM142 149h1v1h-1zM9 150h1v1h-1zM11 150h1v1h-1zM27 150h1v1h-1zM55 150h1v1h-1zM61 150h1v1h-1zM89 150h2v1h-2zM93 150h5v1h-5zM129 150h2v1h-2zM0 151h3v1h-3zM9 151h1v1h-1zM18 151h2v1h-2zM21 151h1v1h-1zM37 151h2v1h-2zM43 151h3v1h-3zM51 151h1v1h-1zM54 151h1v1h-1zM75 151h1v1h-1zM82 151h1v1h-1zM84 151h1v1h-1zM90 151h1v1h-1zM94 151h4v1h-4zM108 151h2v1h-2zM114 151h1v1h-1zM117 151h1v1h-1zM119 151h1v1h-1zM127 151h1v1h-1zM131 151h2v1h-2zM139 151h1v1h-1zM158 151h1v1h-1zM6 152h2v1h-2zM15 152h1v1h-1zM25 152h1v1h-1zM35 152h1v1h-1zM39 152h1v1h-1zM46 152h1v1h-1zM49 152h1v1h-1zM61 152h1v1h-1zM63 152h1v1h-1zM65 152h1v1h-1zM68 152h1v1h-1zM70 152h1v1h-1zM72 152h2v1h-2zM79 152h1v1h-1zM84 152h1v1h-1zM86 152h1v1h-1zM88 152h1v1h-1zM95 152h1v1h-1zM100 152h1v1h-1zM106 152h1v1h-1zM116 152h1v1h-1zM126 152h1v1h-1zM128 152h1v1h-1zM0 153h1v1h-1zM2 153h1v1h-1zM4 153h4v1h-4zM14 153h3v1h-3zM19 153h1v1h-1zM24 153h4v1h-4zM39 153h1v1h-1zM42 153h1v1h-1zM48 153h4v1h-4zM53 153h2v1h-2zM61 153h1v1h-1zM63 153h1v1h-1zM65 153h1v1h-1zM73 153h1v1h-1zM75 153h1v1h-1zM79 153h1v1h-1zM84 153h4v1h-4zM89 153h3v1h-3zM93 153h1v1h-1zM95 153h3v1h-3zM101 153h1v1h-1zM103 153h1v1h-1zM107 153h1v1h-1zM114 153h1v1h-1zM126 153h1v1h-1zM128 153h1v1h-1zM130 153h1v1h-1zM132 153h1v1h-1zM6 154h2v1h-2zM13 154h1v1h-1zM39 154h1v1h-1zM61 154h1v1h-1zM63 154h1v1h-1zM71 154h2v1h-2zM74 154h1v1h-1zM79 154h2v1h-2zM84 154h1v1h-1zM86 154h1v1h-1zM88 154h2v1h-2zM103 154h1v1h-1zM107 154h1v1h-1zM126 154h1v1h-1zM128 154h1v1h-1zM130 154h1v1h-1zM149 154h1v1h-1zM4 155h1v1h-1zM7 155h1v1h-1zM19 155h1v1h-1zM35 155h1v1h-1zM39 155h1v1h-1zM42 155h1v1h-1zM49 155h1v1h-1zM68 155h1v1h-1zM70 155h1v1h-1zM72 155h2v1h-2zM84 155h1v1h-1zM86 155h3v1h-3zM95 155h1v1h-1zM100 155h1v1h-1zM103 155h1v1h-1zM116 155h1v1h-1zM128 155h1v1h-1zM143 155h1v1h-1zM150 155h1v1h-1zM7 156h1v1h-1zM35 156h1v1h-1zM39 156h1v1h-1zM46 156h1v1h-1zM65 156h1v1h-1zM68 156h1v1h-1zM70 156h5v1h-5zM79 156h2v1h-2zM84 156h1v1h-1zM87 156h2v1h-2zM95 156h1v1h-1zM100 156h1v1h-1zM115 156h1v1h-1zM126 156h1v1h-1zM128 156h1v1h-1zM12 157h1v1h-1zM86 157h1v1h-1zM107 157h1v1h-1zM127 157h1v1h-1zM0 158h3v1h-3zM9 158h1v1h-1zM19 158h1v1h-1zM21 158h1v1h-1zM37 158h1v1h-1zM43 158h1v1h-1zM51 158h2v1h-2zM54 158h1v1h-1zM60 158h1v1h-1zM69 158h1v1h-1zM81 158h2v1h-2zM84 158h2v1h-2zM89 158h1v1h-1zM92 158h1v1h-1zM95 158h2v1h-2zM101 158h2v1h-2zM106 158h2v1h-2zM111 158h1v1h-1zM118 158h1v1h-1zM127 158h1v1h-1zM132 158h1v1h-1zM140 158h3v1h-3z"/>
<path fill="#c53c74" d="M11 0h1v1h-1zM36 0h1v1h-1zM59 0h1v1h-1zM82 0h1v1h-1zM127 0h1v1h-1zM139 0h1v1h-1zM11 1h1v1h-1zM24 1h1v1h-1zM36 1h1v1h-1zM59 1h1v1h-1zM66 1h1v1h-1zM77 1h2v1h-2zM101 1h1v1h-1zM112 1h1v1h-1zM127 1h1v1h-1zM139 1h3v1h-3zM155 1h2v1h-2zM21 2h2v1h-2zM36 2h1v1h-1zM38 2h1v1h-1zM44 2h2v1h-2zM59 2h1v1h-1zM67 2h1v1h-1zM76 2h2v1h-2zM91 2h1v1h-1zM102 2h1v1h-1zM139 2h2v1h-2zM142 2h1v1h-1zM155 2h2v1h-2zM82 3h1v1h-1zM156 3h1v1h-1zM28 4h2v1h-2zM33 4h1v1h-1zM39 4h1v1h-1zM42 4h1v1h-1zM82 4h1v1h-1zM115 4h2v1h-2zM123 4h1v1h-1zM128 4h1v1h-1zM146 4h1v1h-1zM28 5h1v1h-1zM34 5h1v1h-1zM39 5h1v1h-1zM42 5h1v1h-1zM82 5h1v1h-1zM116 5h1v1h-1zM126 5h1v1h-1zM11 6h2v1h-2zM14 6h1v1h-1zM17 6h1v1h-1zM23 6h3v1h-3zM34 6h2v1h-2zM39 6h1v1h-1zM49 6h1v1h-1zM52 6h1v1h-1zM57 6h1v1h-1zM63 6h2v1h-2zM66 6h2v1h-2zM77 6h2v1h-2zM91 6h2v1h-2zM94 6h1v1h-1zM103 6h1v1h-1zM109 6h1v1h-1zM115 6h1v1h-1zM126 6h1v1h-1zM128 6h1v1h-1zM157 6h2v1h-2zM3 7h1v1h-1zM11 7h1v1h-1zM14 7h4v1h-4zM20 7h7v1h-7zM46 7h2v1h-2zM50 7h1v1h-1zM52 7h1v1h-1zM54 7h4v1h-4zM59 7h1v1h-1zM61 7h1v1h-1zM63 7h5v1h-5zM77 7h2v1h-2zM85 7h1v1h-1zM89 7h1v1h-1zM91 7h4v1h-4zM97 7h1v1h-1zM101 7h3v1h-3zM108 7h2v1h-2zM115 7h1v1h-1zM129 7h1v1h-1zM133 7h1v1h-1zM151 7h3v1h-3zM157 7h2v1h-2zM1 8h1v1h-1zM3 8h1v1h-1zM13 8h1v1h-1zM21 8h1v1h-1zM25 8h1v1h-1zM36 8h1v1h-1zM38 8h1v1h-1zM43 8h2v1h-2zM46 8h3v1h-3zM50 8h1v1h-1zM55 8h3v1h-3zM63 8h1v1h-1zM67 8h1v1h-1zM76 8h3v1h-3zM92 8h1v1h-1zM96 8h1v1h-1zM98 8h1v1h-1zM101 8h3v1h-3zM108 8h4v1h-4zM113 8h2v1h-2zM117 8h1v1h-1zM127 8h1v1h-1zM132 8h1v1h-1zM139 8h4v1h-4zM152 8h1v1h-1zM155 8h2v1h-2zM20 9h1v1h-1zM38 9h1v1h-1zM43 9h1v1h-1zM49 9h1v1h-1zM78 9h1v1h-1zM89 9h1v1h-1zM92 9h3v1h-3zM101 9h1v1h-1zM106 9h1v1h-1zM113 9h1v1h-1zM117 9h2v1h-2zM131 9h1v1h-1zM139 9h4v1h-4zM156 9h1v1h-1zM3 10h1v1h-1zM58 10h1v1h-1zM76 10h3v1h-3zM102 10h1v1h-1zM131 10h1v1h-1zM139 10h1v1h-1zM141 10h2v1h-2zM155 10h1v1h-1zM3 11h1v1h-1zM22 11h1v1h-1zM24 11h1v1h-1zM57 11h1v1h-1zM59 11h1v1h-1zM76 11h3v1h-3zM89 11h1v1h-1zM91 11h3v1h-3zM97 11h1v1h-1zM132 11h1v1h-1zM139 11h2v1h-2zM142 11h1v1h-1zM152 11h1v1h-1zM155 11h2v1h-2zM17 12h1v1h-1zM66 12h1v1h-1zM85 12h1v1h-1zM92 12h1v1h-1zM127 12h1v1h-1zM132 12h1v1h-1zM139 12h2v1h-2zM142 12h1v1h-1zM155 12h1v1h-1zM0 13h1v1h-1zM22 13h1v1h-1zM28 13h1v1h-1zM41 13h1v1h-1zM44 13h1v1h-1zM55 13h2v1h-2zM59 13h1v1h-1zM63 13h1v1h-1zM65 13h1v1h-1zM77 13h2v1h-2zM91 13h2v1h-2zM94 13h1v1h-1zM102 13h1v1h-1zM108 13h1v1h-1zM112 13h2v1h-2zM115 13h1v1h-1zM120 13h2v1h-2zM134 13h2v1h-2zM138 13h1v1h-1zM149 13h2v1h-2zM41 14h1v1h-1zM77 14h1v1h-1zM82 14h1v1h-1zM93 14h1v1h-1zM115 14h1v1h-1zM23 15h1v1h-1zM56 15h1v1h-1zM67 15h1v1h-1zM102 15h1v1h-1zM11 16h1v1h-1zM59 16h1v1h-1zM66 16h1v1h-1zM77 16h2v1h-2zM120 16h1v1h-1zM125 16h1v1h-1zM136 16h1v1h-1zM153 16h1v1h-1zM57 17h1v1h-1zM82 17h1v1h-1zM1 18h1v1h-1zM12 18h1v1h-1zM46 18h1v1h-1zM57 18h1v1h-1zM59 18h1v1h-1zM66 18h1v1h-1zM76 18h2v1h-2zM91 18h3v1h-3zM102 18h1v1h-1zM112 18h2v1h-2zM127 18h1v1h-1zM129 18h1v1h-1zM139 18h2v1h-2zM155 18h1v1h-1zM37 19h1v1h-1zM77 19h2v1h-2zM113 19h1v1h-1zM127 19h1v1h-1zM132 19h1v1h-1zM139 19h1v1h-1zM82 20h1v1h-1zM140 20h1v1h-1zM155 20h1v1h-1zM11 21h1v1h-1zM36 21h1v1h-1zM43 21h1v1h-1zM53 21h1v1h-1zM76 21h2v1h-2zM82 21h1v1h-1zM132 21h1v1h-1zM139 21h2v1h-2zM142 21h1v1h-1zM155 21h2v1h-2zM3 22h2v1h-2zM6 22h1v1h-1zM11 22h2v1h-2zM14 22h2v1h-2zM17 22h1v1h-1zM28 22h1v1h-1zM30 22h4v1h-4zM36 22h1v1h-1zM40 22h3v1h-3zM46 22h5v1h-5zM57 22h1v1h-1zM59 22h1v1h-1zM63 22h5v1h-5zM78 22h1v1h-1zM82 22h1v1h-1zM85 22h1v1h-1zM89 22h1v1h-1zM91 22h3v1h-3zM96 22h3v1h-3zM102 22h2v1h-2zM106 22h1v1h-1zM108 22h1v1h-1zM111 22h2v1h-2zM115 22h1v1h-1zM119 22h5v1h-5zM125 22h1v1h-1zM129 22h1v1h-1zM135 22h2v1h-2zM139 22h1v1h-1zM144 22h1v1h-1zM146 22h5v1h-5zM152 22h2v1h-2zM11 23h1v1h-1zM17 23h1v1h-1zM55 23h1v1h-1zM63 23h2v1h-2zM67 23h1v1h-1zM77 23h2v1h-2zM85 23h1v1h-1zM91 23h1v1h-1zM94 23h1v1h-1zM102 23h2v1h-2zM113 23h1v1h-1zM115 23h1v1h-1zM120 23h1v1h-1zM125 23h1v1h-1zM134 23h2v1h-2zM138 23h2v1h-2zM144 23h2v1h-2zM147 23h1v1h-1zM149 23h1v1h-1zM153 23h1v1h-1zM1 24h1v1h-1zM3 24h1v1h-1zM16 24h1v1h-1zM28 24h1v1h-1zM31 24h1v1h-1zM40 24h2v1h-2zM47 24h1v1h-1zM55 24h1v1h-1zM59 24h1v1h-1zM63 24h1v1h-1zM76 24h3v1h-3zM82 24h1v1h-1zM92 24h3v1h-3zM101 24h1v1h-1zM108 24h1v1h-1zM120 24h2v1h-2zM135 24h2v1h-2zM145 24h1v1h-1zM147 24h4v1h-4zM82 25h1v1h-1zM5 26h1v1h-1zM16 26h2v1h-2zM31 26h2v1h-2zM40 26h2v1h-2zM56 26h2v1h-2zM63 26h1v1h-1zM66 26h2v1h-2zM76 26h1v1h-1zM78 26h1v1h-1zM91 26h2v1h-2zM94 26h1v1h-1zM103 26h1v1h-1zM109 26h1v1h-1zM112 26h2v1h-2zM115 26h1v1h-1zM120 26h2v1h-2zM124 26h2v1h-2zM134 26h2v1h-2zM144 26h2v1h-2zM149 26h2v1h-2zM158 26h1v1h-1zM3 27h1v1h-1zM22 27h1v1h-1zM59 27h1v1h-1zM66 27h1v1h-1zM76 27h1v1h-1zM82 27h1v1h-1zM113 27h1v1h-1zM127 27h1v1h-1zM139 27h1v1h-1zM156 27h1v1h-1zM47 28h1v1h-1zM50 28h1v1h-1zM65 28h2v1h-2zM79 28h1v1h-1zM83 28h1v1h-1zM103 28h1v1h-1zM130 28h1v1h-1zM143 28h1v1h-1zM152 28h2v1h-2zM66 29h1v1h-1zM83 29h1v1h-1zM103 29h1v1h-1zM151 29h1v1h-1zM50 30h1v1h-1zM64 30h2v1h-2zM79 30h1v1h-1zM83 30h1v1h-1zM85 30h1v1h-1zM151 30h2v1h-2zM157 30h1v1h-1zM47 31h2v1h-2zM64 31h1v1h-1zM66 31h1v1h-1zM83 31h3v1h-3zM151 31h3v1h-3zM64 32h3v1h-3zM85 32h1v1h-1zM152 32h1v1h-1zM48 33h1v1h-1zM64 33h3v1h-3zM83 33h1v1h-1zM85 33h1v1h-1zM151 33h3v1h-3zM46 34h4v1h-4zM59 34h1v1h-1zM64 34h3v1h-3zM83 34h1v1h-1zM103 34h1v1h-1zM143 34h1v1h-1zM151 34h3v1h-3zM14 35h4v1h-4zM22 35h5v1h-5zM46 35h1v1h-1zM48 35h1v1h-1zM59 35h1v1h-1zM64 35h3v1h-3zM79 35h1v1h-1zM83 35h1v1h-1zM85 35h1v1h-1zM92 35h1v1h-1zM103 35h1v1h-1zM151 35h3v1h-3zM158 35h1v1h-1zM1 36h1v1h-1zM3 36h1v1h-1zM46 36h1v1h-1zM69 36h1v1h-1zM111 36h1v1h-1zM127 36h1v1h-1zM139 36h1v1h-1zM142 36h1v1h-1zM156 36h1v1h-1zM1 37h1v1h-1zM156 37h1v1h-1zM3 38h1v1h-1zM43 38h1v1h-1zM127 38h1v1h-1zM132 38h1v1h-1zM140 38h1v1h-1zM156 38h1v1h-1zM0 39h1v1h-1zM3 39h1v1h-1zM10 39h2v1h-2zM13 39h1v1h-1zM22 39h1v1h-1zM43 39h2v1h-2zM48 39h1v1h-1zM53 39h1v1h-1zM56 39h2v1h-2zM59 39h1v1h-1zM66 39h1v1h-1zM69 39h1v1h-1zM93 39h1v1h-1zM96 39h1v1h-1zM108 39h1v1h-1zM111 39h1v1h-1zM113 39h1v1h-1zM127 39h1v1h-1zM133 39h1v1h-1zM139 39h2v1h-2zM142 39h1v1h-1zM155 39h2v1h-2zM14 40h4v1h-4zM22 40h4v1h-4zM35 40h1v1h-1zM79 40h1v1h-1zM83 40h1v1h-1zM151 40h2v1h-2zM157 40h1v1h-1zM14 41h3v1h-3zM22 41h2v1h-2zM26 41h1v1h-1zM83 41h1v1h-1zM85 41h1v1h-1zM103 41h1v1h-1zM153 41h1v1h-1zM14 42h4v1h-4zM23 42h1v1h-1zM25 42h2v1h-2zM79 42h1v1h-1zM83 42h1v1h-1zM85 42h1v1h-1zM151 42h3v1h-3zM157 42h1v1h-1zM38 43h1v1h-1zM55 43h1v1h-1zM127 43h1v1h-1zM3 44h1v1h-1zM36 44h1v1h-1zM59 44h1v1h-1zM61 44h1v1h-1zM65 44h1v1h-1zM142 44h1v1h-1zM57 45h1v1h-1zM59 45h1v1h-1zM82 45h1v1h-1zM91 45h1v1h-1zM118 45h1v1h-1zM141 45h1v1h-1zM155 45h1v1h-1zM4 46h1v1h-1zM6 46h1v1h-1zM14 46h1v1h-1zM16 46h2v1h-2zM22 46h1v1h-1zM24 46h2v1h-2zM35 46h1v1h-1zM59 46h1v1h-1zM72 46h1v1h-1zM79 46h1v1h-1zM81 46h1v1h-1zM83 46h1v1h-1zM103 46h1v1h-1zM126 46h1v1h-1zM153 46h1v1h-1zM157 46h2v1h-2zM5 47h1v1h-1zM14 47h5v1h-5zM26 47h1v1h-1zM36 47h1v1h-1zM52 47h2v1h-2zM55 47h1v1h-1zM72 47h1v1h-1zM79 47h1v1h-1zM83 47h1v1h-1zM85 47h1v1h-1zM92 47h1v1h-1zM97 47h2v1h-2zM103 47h1v1h-1zM133 47h1v1h-1zM151 47h3v1h-3zM158 47h1v1h-1zM4 48h3v1h-3zM22 48h1v1h-1zM25 48h1v1h-1zM35 48h1v1h-1zM39 48h1v1h-1zM56 48h2v1h-2zM71 48h4v1h-4zM79 48h3v1h-3zM83 48h1v1h-1zM126 48h1v1h-1zM128 48h1v1h-1zM158 48h1v1h-1zM8 49h1v1h-1zM13 49h2v1h-2zM17 49h1v1h-1zM21 49h1v1h-1zM28 49h1v1h-1zM39 49h1v1h-1zM59 49h1v1h-1zM73 49h1v1h-1zM83 49h1v1h-1zM91 49h2v1h-2zM99 49h2v1h-2zM105 49h1v1h-1zM110 49h1v1h-1zM113 49h1v1h-1zM118 49h1v1h-1zM120 49h2v1h-2zM123 49h1v1h-1zM125 49h1v1h-1zM135 49h1v1h-1zM138 49h2v1h-2zM143 49h1v1h-1zM148 49h3v1h-3zM152 49h2v1h-2zM158 49h1v1h-1zM33 50h1v1h-1zM57 50h1v1h-1zM0 51h1v1h-1zM3 51h1v1h-1zM8 51h1v1h-1zM11 51h1v1h-1zM16 51h2v1h-2zM24 51h1v1h-1zM36 51h2v1h-2zM59 51h2v1h-2zM69 51h1v1h-1zM78 51h1v1h-1zM93 51h2v1h-2zM98 51h1v1h-1zM102 51h1v1h-1zM106 51h1v1h-1zM109 51h6v1h-6zM119 51h1v1h-1zM127 51h1v1h-1zM129 51h2v1h-2zM133 51h1v1h-1zM139 51h2v1h-2zM142 51h1v1h-1zM153 51h1v1h-1zM155 51h2v1h-2zM2 52h2v1h-2zM8 52h4v1h-4zM78 52h1v1h-1zM101 52h1v1h-1zM110 52h1v1h-1zM112 52h1v1h-1zM117 52h1v1h-1zM127 52h1v1h-1zM140 52h1v1h-1zM142 52h1v1h-1zM155 52h2v1h-2zM3 53h1v1h-1zM11 53h1v1h-1zM21 53h1v1h-1zM38 53h1v1h-1zM43 53h1v1h-1zM45 53h1v1h-1zM69 53h1v1h-1zM82 53h1v1h-1zM102 53h1v1h-1zM109 53h1v1h-1zM113 53h1v1h-1zM127 53h1v1h-1zM139 53h2v1h-2zM155 53h1v1h-1zM1 54h1v1h-1zM11 54h1v1h-1zM113 54h1v1h-1zM127 54h1v1h-1zM139 54h2v1h-2zM142 54h1v1h-1zM155 54h1v1h-1zM11 55h1v1h-1zM36 55h1v1h-1zM44 55h1v1h-1zM49 55h1v1h-1zM127 55h1v1h-1zM139 55h1v1h-1zM11 56h1v1h-1zM20 56h1v1h-1zM44 56h1v1h-1zM48 56h1v1h-1zM61 56h1v1h-1zM69 56h1v1h-1zM127 56h1v1h-1zM139 56h1v1h-1zM141 56h1v1h-1zM143 56h1v1h-1zM156 56h1v1h-1zM3 57h1v1h-1zM11 57h1v1h-1zM50 57h1v1h-1zM77 57h1v1h-1zM92 57h1v1h-1zM110 57h1v1h-1zM127 57h1v1h-1zM139 57h2v1h-2zM0 58h2v1h-2zM9 58h5v1h-5zM16 58h3v1h-3zM20 58h1v1h-1zM22 58h4v1h-4zM27 58h1v1h-1zM36 58h3v1h-3zM43 58h5v1h-5zM49 58h1v1h-1zM66 58h1v1h-1zM69 58h1v1h-1zM76 58h3v1h-3zM82 58h1v1h-1zM92 58h2v1h-2zM98 58h1v1h-1zM101 58h2v1h-2zM106 58h9v1h-9zM118 58h2v1h-2zM129 58h1v1h-1zM131 58h3v1h-3zM139 58h1v1h-1zM141 58h3v1h-3zM152 58h1v1h-1zM156 58h1v1h-1zM69 59h1v1h-1zM127 59h1v1h-1zM3 60h1v1h-1zM9 60h1v1h-1zM69 60h1v1h-1zM91 60h1v1h-1zM127 60h1v1h-1zM140 60h1v1h-1zM153 60h1v1h-1zM3 61h1v1h-1zM65 61h1v1h-1zM69 61h1v1h-1zM92 61h1v1h-1zM127 61h1v1h-1zM155 61h2v1h-2zM11 62h1v1h-1zM14 62h4v1h-4zM22 62h2v1h-2zM44 62h1v1h-1zM79 62h1v1h-1zM83 62h1v1h-1zM85 62h1v1h-1zM103 62h1v1h-1zM143 62h1v1h-1zM151 62h3v1h-3zM157 62h2v1h-2zM5 63h1v1h-1zM7 63h1v1h-1zM14 63h1v1h-1zM24 63h1v1h-1zM29 63h1v1h-1zM39 63h1v1h-1zM42 63h1v1h-1zM57 63h1v1h-1zM59 63h1v1h-1zM73 63h1v1h-1zM100 63h1v1h-1zM116 63h1v1h-1zM126 63h1v1h-1zM1 64h1v1h-1zM11 64h1v1h-1zM58 64h1v1h-1zM127 64h1v1h-1zM139 64h1v1h-1zM1 65h1v1h-1zM3 65h1v1h-1zM11 65h1v1h-1zM17 65h2v1h-2zM20 65h2v1h-2zM23 65h1v1h-1zM36 65h1v1h-1zM38 65h1v1h-1zM52 65h2v1h-2zM92 65h1v1h-1zM97 65h1v1h-1zM102 65h1v1h-1zM112 65h2v1h-2zM122 65h1v1h-1zM127 65h1v1h-1zM131 65h2v1h-2zM140 65h1v1h-1zM142 65h1v1h-1zM155 65h1v1h-1zM3 66h1v1h-1zM11 66h2v1h-2zM23 66h1v1h-1zM55 66h1v1h-1zM69 66h1v1h-1zM82 66h1v1h-1zM102 66h1v1h-1zM108 66h2v1h-2zM118 66h1v1h-1zM132 66h2v1h-2zM139 66h4v1h-4zM155 66h2v1h-2zM4 67h2v1h-2zM11 67h1v1h-1zM17 67h1v1h-1zM22 67h4v1h-4zM28 67h3v1h-3zM33 67h1v1h-1zM39 67h1v1h-1zM42 67h1v1h-1zM56 67h1v1h-1zM61 67h1v1h-1zM74 67h1v1h-1zM79 67h1v1h-1zM83 67h1v1h-1zM99 67h2v1h-2zM104 67h2v1h-2zM123 67h1v1h-1zM129 67h1v1h-1zM146 67h1v1h-1zM153 67h1v1h-1zM5 68h1v1h-1zM17 68h1v1h-1zM22 68h1v1h-1zM30 68h3v1h-3zM40 68h2v1h-2zM49 68h1v1h-1zM62 68h1v1h-1zM77 68h1v1h-1zM87 68h1v1h-1zM115 68h1v1h-1zM120 68h6v1h-6zM136 68h2v1h-2zM144 68h7v1h-7zM1 69h1v1h-1zM3 69h1v1h-1zM11 69h1v1h-1zM21 69h1v1h-1zM75 69h1v1h-1zM77 69h1v1h-1zM102 69h1v1h-1zM108 69h1v1h-1zM113 69h1v1h-1zM127 69h1v1h-1zM139 69h1v1h-1zM155 69h2v1h-2zM3 70h1v1h-1zM22 70h1v1h-1zM55 70h1v1h-1zM59 70h1v1h-1zM113 70h1v1h-1zM127 70h1v1h-1zM139 70h1v1h-1zM5 71h1v1h-1zM7 71h1v1h-1zM22 71h1v1h-1zM24 71h1v1h-1zM28 71h2v1h-2zM32 71h2v1h-2zM62 71h1v1h-1zM65 71h1v1h-1zM94 71h1v1h-1zM98 71h1v1h-1zM116 71h1v1h-1zM121 71h1v1h-1zM123 71h1v1h-1zM14 72h2v1h-2zM17 72h1v1h-1zM22 72h1v1h-1zM24 72h3v1h-3zM64 72h2v1h-2zM91 72h4v1h-4zM98 72h1v1h-1zM151 72h1v1h-1zM15 73h1v1h-1zM22 73h2v1h-2zM26 73h1v1h-1zM50 73h1v1h-1zM65 73h2v1h-2zM85 73h1v1h-1zM93 73h1v1h-1zM98 73h1v1h-1zM151 73h2v1h-2zM157 73h1v1h-1zM14 74h4v1h-4zM22 74h2v1h-2zM25 74h1v1h-1zM82 74h1v1h-1zM84 74h1v1h-1zM92 74h1v1h-1zM95 74h2v1h-2zM151 74h3v1h-3zM158 74h1v1h-1zM1 75h3v1h-3zM11 75h3v1h-3zM17 75h1v1h-1zM21 75h1v1h-1zM37 75h2v1h-2zM43 75h1v1h-1zM56 75h1v1h-1zM58 75h1v1h-1zM61 75h1v1h-1zM81 75h1v1h-1zM87 75h2v1h-2zM108 75h1v1h-1zM112 75h1v1h-1zM129 75h1v1h-1zM131 75h2v1h-2zM139 75h4v1h-4zM153 75h1v1h-1zM155 75h2v1h-2zM0 76h1v1h-1zM2 76h1v1h-1zM8 76h7v1h-7zM17 76h7v1h-7zM27 76h1v1h-1zM36 76h3v1h-3zM45 76h4v1h-4zM51 76h10v1h-10zM64 76h1v1h-1zM66 76h1v1h-1zM85 76h1v1h-1zM88 76h2v1h-2zM91 76h2v1h-2zM98 76h1v1h-1zM101 76h2v1h-2zM106 76h2v1h-2zM109 76h3v1h-3zM113 76h2v1h-2zM117 76h1v1h-1zM129 76h5v1h-5zM143 76h1v1h-1zM152 76h3v1h-3zM1 77h1v1h-1zM3 77h1v1h-1zM11 77h1v1h-1zM13 77h1v1h-1zM36 77h1v1h-1zM38 77h1v1h-1zM43 77h2v1h-2zM57 77h1v1h-1zM59 77h1v1h-1zM87 77h1v1h-1zM102 77h1v1h-1zM110 77h1v1h-1zM112 77h2v1h-2zM131 77h1v1h-1zM133 77h1v1h-1zM139 77h5v1h-5zM152 77h1v1h-1zM1 78h3v1h-3zM11 78h2v1h-2zM43 78h2v1h-2zM53 78h1v1h-1zM85 78h1v1h-1zM91 78h1v1h-1zM98 78h1v1h-1zM113 78h1v1h-1zM139 78h4v1h-4zM155 78h2v1h-2zM5 79h1v1h-1zM7 79h1v1h-1zM14 79h1v1h-1zM16 79h1v1h-1zM24 79h1v1h-1zM28 79h2v1h-2zM32 79h2v1h-2zM39 79h1v1h-1zM42 79h1v1h-1zM62 79h1v1h-1zM93 79h2v1h-2zM98 79h1v1h-1zM115 79h2v1h-2zM128 79h1v1h-1zM136 79h1v1h-1zM144 79h1v1h-1zM146 79h1v1h-1zM4 80h3v1h-3zM16 80h2v1h-2zM22 80h2v1h-2zM25 80h1v1h-1zM34 80h2v1h-2zM39 80h1v1h-1zM47 80h1v1h-1zM55 80h2v1h-2zM63 80h1v1h-1zM65 80h2v1h-2zM94 80h1v1h-1zM98 80h1v1h-1zM126 80h1v1h-1zM133 80h1v1h-1zM151 80h1v1h-1zM157 80h2v1h-2zM4 81h3v1h-3zM22 81h1v1h-1zM24 81h1v1h-1zM34 81h2v1h-2zM42 81h1v1h-1zM63 81h1v1h-1zM74 81h2v1h-2zM86 81h1v1h-1zM91 81h2v1h-2zM94 81h1v1h-1zM116 81h1v1h-1zM126 81h1v1h-1zM128 81h1v1h-1zM158 81h1v1h-1zM4 82h1v1h-1zM6 82h1v1h-1zM11 82h1v1h-1zM15 82h2v1h-2zM22 82h1v1h-1zM24 82h1v1h-1zM34 82h2v1h-2zM39 82h1v1h-1zM42 82h1v1h-1zM63 82h1v1h-1zM65 82h1v1h-1zM76 82h1v1h-1zM91 82h4v1h-4zM126 82h1v1h-1zM128 82h1v1h-1zM152 82h1v1h-1zM158 82h1v1h-1zM11 83h1v1h-1zM40 83h1v1h-1zM48 83h1v1h-1zM74 83h1v1h-1zM91 83h4v1h-4zM120 83h1v1h-1zM11 84h1v1h-1zM40 84h2v1h-2zM55 84h1v1h-1zM57 84h1v1h-1zM92 84h3v1h-3zM98 84h1v1h-1zM102 84h1v1h-1zM125 84h1v1h-1zM133 84h2v1h-2zM148 84h1v1h-1zM3 85h1v1h-1zM8 85h1v1h-1zM19 85h2v1h-2zM38 85h1v1h-1zM44 85h1v1h-1zM73 85h1v1h-1zM78 85h2v1h-2zM92 85h1v1h-1zM108 85h2v1h-2zM113 85h1v1h-1zM127 85h1v1h-1zM139 85h2v1h-2zM142 85h1v1h-1zM1 86h1v1h-1zM11 86h1v1h-1zM20 86h1v1h-1zM45 86h1v1h-1zM89 86h1v1h-1zM118 86h1v1h-1zM127 86h1v1h-1zM155 86h2v1h-2zM1 87h1v1h-1zM3 87h1v1h-1zM21 87h1v1h-1zM23 87h1v1h-1zM44 87h1v1h-1zM57 87h1v1h-1zM75 87h1v1h-1zM108 87h1v1h-1zM110 87h1v1h-1zM113 87h1v1h-1zM127 87h1v1h-1zM129 87h1v1h-1zM140 87h1v1h-1zM142 87h1v1h-1zM153 87h1v1h-1zM155 87h1v1h-1zM1 88h1v1h-1zM3 88h1v1h-1zM11 88h1v1h-1zM21 88h2v1h-2zM38 88h1v1h-1zM44 88h1v1h-1zM48 88h1v1h-1zM57 88h1v1h-1zM59 88h1v1h-1zM75 88h2v1h-2zM84 88h2v1h-2zM102 88h1v1h-1zM108 88h2v1h-2zM111 88h4v1h-4zM118 88h1v1h-1zM127 88h1v1h-1zM132 88h2v1h-2zM139 88h3v1h-3zM153 88h1v1h-1zM155 88h2v1h-2zM3 89h1v1h-1zM12 89h1v1h-1zM20 89h1v1h-1zM38 89h1v1h-1zM59 89h2v1h-2zM66 89h1v1h-1zM73 89h1v1h-1zM78 89h1v1h-1zM83 89h1v1h-1zM113 89h1v1h-1zM127 89h1v1h-1zM141 89h1v1h-1zM155 89h1v1h-1zM0 90h1v1h-1zM3 90h1v1h-1zM9 90h1v1h-1zM11 90h1v1h-1zM14 90h1v1h-1zM19 90h5v1h-5zM43 90h2v1h-2zM53 90h1v1h-1zM55 90h1v1h-1zM57 90h1v1h-1zM59 90h1v1h-1zM78 90h1v1h-1zM97 90h1v1h-1zM103 90h1v1h-1zM106 90h1v1h-1zM110 90h1v1h-1zM113 90h1v1h-1zM118 90h2v1h-2zM127 90h1v1h-1zM129 90h1v1h-1zM131 90h1v1h-1zM139 90h1v1h-1zM141 90h2v1h-2zM155 90h2v1h-2zM3 91h1v1h-1zM8 91h1v1h-1zM20 91h1v1h-1zM38 91h1v1h-1zM43 91h2v1h-2zM53 91h1v1h-1zM72 91h2v1h-2zM79 91h2v1h-2zM82 91h1v1h-1zM84 91h1v1h-1zM98 91h1v1h-1zM103 91h1v1h-1zM110 91h1v1h-1zM112 91h2v1h-2zM119 91h1v1h-1zM127 91h1v1h-1zM132 91h1v1h-1zM139 91h1v1h-1zM141 91h1v1h-1zM155 91h2v1h-2zM71 92h3v1h-3zM79 92h1v1h-1zM82 92h2v1h-2zM98 92h1v1h-1zM100 92h1v1h-1zM103 92h1v1h-1zM105 92h1v1h-1zM140 92h1v1h-1zM11 93h1v1h-1zM43 93h1v1h-1zM55 93h2v1h-2zM72 93h2v1h-2zM78 93h3v1h-3zM82 93h2v1h-2zM100 93h1v1h-1zM103 93h1v1h-1zM127 93h1v1h-1zM139 93h1v1h-1zM3 94h1v1h-1zM9 94h1v1h-1zM11 94h2v1h-2zM17 94h1v1h-1zM22 94h3v1h-3zM38 94h1v1h-1zM42 94h4v1h-4zM47 94h1v1h-1zM49 94h2v1h-2zM53 94h1v1h-1zM55 94h3v1h-3zM59 94h2v1h-2zM66 94h1v1h-1zM69 94h1v1h-1zM71 94h1v1h-1zM80 94h2v1h-2zM84 94h1v1h-1zM103 94h6v1h-6zM110 94h1v1h-1zM113 94h2v1h-2zM118 94h2v1h-2zM127 94h1v1h-1zM131 94h1v1h-1zM133 94h1v1h-1zM139 94h1v1h-1zM142 94h1v1h-1zM152 94h2v1h-2zM156 94h1v1h-1zM0 95h1v1h-1zM3 95h1v1h-1zM18 95h1v1h-1zM23 95h2v1h-2zM28 95h2v1h-2zM31 95h1v1h-1zM33 95h1v1h-1zM40 95h2v1h-2zM48 95h1v1h-1zM62 95h1v1h-1zM74 95h1v1h-1zM102 95h1v1h-1zM115 95h1v1h-1zM120 95h2v1h-2zM123 95h3v1h-3zM134 95h5v1h-5zM144 95h2v1h-2zM147 95h4v1h-4zM1 96h1v1h-1zM3 96h1v1h-1zM11 96h1v1h-1zM17 96h1v1h-1zM22 96h2v1h-2zM30 96h4v1h-4zM36 96h1v1h-1zM41 96h2v1h-2zM50 96h1v1h-1zM55 96h1v1h-1zM57 96h3v1h-3zM65 96h1v1h-1zM74 96h1v1h-1zM113 96h1v1h-1zM115 96h2v1h-2zM120 96h3v1h-3zM124 96h2v1h-2zM134 96h3v1h-3zM138 96h1v1h-1zM144 96h7v1h-7zM1 97h1v1h-1zM17 97h1v1h-1zM24 97h1v1h-1zM28 97h4v1h-4zM33 97h1v1h-1zM37 97h1v1h-1zM40 97h3v1h-3zM54 97h4v1h-4zM74 97h1v1h-1zM115 97h1v1h-1zM120 97h6v1h-6zM134 97h4v1h-4zM144 97h4v1h-4zM149 97h2v1h-2zM3 98h1v1h-1zM44 98h1v1h-1zM52 98h1v1h-1zM59 98h1v1h-1zM73 98h1v1h-1zM78 98h2v1h-2zM82 98h2v1h-2zM91 98h2v1h-2zM104 98h1v1h-1zM127 98h1v1h-1zM139 98h1v1h-1zM141 98h1v1h-1zM155 98h2v1h-2zM15 99h2v1h-2zM22 99h2v1h-2zM25 99h2v1h-2zM66 99h1v1h-1zM70 99h1v1h-1zM92 99h1v1h-1zM152 99h1v1h-1zM157 99h1v1h-1zM40 100h1v1h-1zM93 100h1v1h-1zM57 101h1v1h-1zM108 101h1v1h-1zM127 101h1v1h-1zM155 101h1v1h-1zM95 102h1v1h-1zM109 102h1v1h-1zM113 102h1v1h-1zM127 102h1v1h-1zM139 102h2v1h-2zM74 103h1v1h-1zM91 103h2v1h-2zM94 103h1v1h-1zM106 103h1v1h-1zM109 103h1v1h-1zM138 103h1v1h-1zM14 104h1v1h-1zM16 104h2v1h-2zM22 104h4v1h-4zM56 104h1v1h-1zM59 104h1v1h-1zM66 104h1v1h-1zM70 104h1v1h-1zM91 104h1v1h-1zM93 104h2v1h-2zM110 104h1v1h-1zM152 104h1v1h-1zM158 104h1v1h-1zM11 105h1v1h-1zM14 105h4v1h-4zM22 105h2v1h-2zM48 105h1v1h-1zM57 105h1v1h-1zM59 105h1v1h-1zM65 105h2v1h-2zM70 105h1v1h-1zM93 105h2v1h-2zM98 105h1v1h-1zM143 105h1v1h-1zM151 105h2v1h-2zM158 105h1v1h-1zM1 106h1v1h-1zM3 106h1v1h-1zM11 106h1v1h-1zM22 106h1v1h-1zM24 106h1v1h-1zM43 106h1v1h-1zM45 106h1v1h-1zM69 106h1v1h-1zM73 106h1v1h-1zM76 106h2v1h-2zM79 106h1v1h-1zM82 106h1v1h-1zM92 106h1v1h-1zM103 106h1v1h-1zM127 106h1v1h-1zM140 106h1v1h-1zM155 106h1v1h-1zM3 107h1v1h-1zM11 107h1v1h-1zM21 107h1v1h-1zM38 107h1v1h-1zM59 107h1v1h-1zM111 107h1v1h-1zM114 107h1v1h-1zM127 107h1v1h-1zM139 107h1v1h-1zM1 108h1v1h-1zM3 108h1v1h-1zM11 108h1v1h-1zM24 108h1v1h-1zM38 108h1v1h-1zM78 108h1v1h-1zM92 108h1v1h-1zM101 108h1v1h-1zM113 108h1v1h-1zM118 108h1v1h-1zM127 108h1v1h-1zM139 108h1v1h-1zM156 108h1v1h-1zM158 108h1v1h-1zM1 109h1v1h-1zM3 109h1v1h-1zM11 109h1v1h-1zM16 109h1v1h-1zM19 109h1v1h-1zM53 109h1v1h-1zM59 109h1v1h-1zM66 109h1v1h-1zM91 109h1v1h-1zM102 109h1v1h-1zM114 109h1v1h-1zM127 109h1v1h-1zM133 109h1v1h-1zM139 109h3v1h-3zM155 109h1v1h-1zM127 110h1v1h-1zM132 110h1v1h-1zM3 111h1v1h-1zM59 111h1v1h-1zM107 111h1v1h-1zM118 111h1v1h-1zM127 111h1v1h-1zM3 112h1v1h-1zM8 112h1v1h-1zM10 112h2v1h-2zM13 112h1v1h-1zM16 112h3v1h-3zM20 112h2v1h-2zM24 112h2v1h-2zM27 112h1v1h-1zM38 112h1v1h-1zM43 112h3v1h-3zM47 112h1v1h-1zM55 112h1v1h-1zM57 112h1v1h-1zM59 112h1v1h-1zM69 112h1v1h-1zM78 112h1v1h-1zM82 112h2v1h-2zM85 112h1v1h-1zM90 112h5v1h-5zM96 112h1v1h-1zM98 112h1v1h-1zM101 112h2v1h-2zM119 112h1v1h-1zM127 112h1v1h-1zM139 112h5v1h-5zM152 112h2v1h-2zM155 112h2v1h-2zM2 113h2v1h-2zM11 113h1v1h-1zM19 113h1v1h-1zM21 113h1v1h-1zM24 113h1v1h-1zM27 113h1v1h-1zM38 113h1v1h-1zM47 113h1v1h-1zM53 113h1v1h-1zM59 113h1v1h-1zM102 113h1v1h-1zM108 113h1v1h-1zM119 113h1v1h-1zM127 113h1v1h-1zM140 113h1v1h-1zM142 113h1v1h-1zM11 114h1v1h-1zM14 114h1v1h-1zM16 114h1v1h-1zM18 114h1v1h-1zM26 114h1v1h-1zM43 114h1v1h-1zM52 114h1v1h-1zM57 114h1v1h-1zM59 114h1v1h-1zM107 114h1v1h-1zM109 114h1v1h-1zM14 115h2v1h-2zM22 115h2v1h-2zM25 115h2v1h-2zM47 115h2v1h-2zM64 115h3v1h-3zM83 115h1v1h-1zM103 115h1v1h-1zM151 115h3v1h-3zM157 115h1v1h-1zM16 116h1v1h-1zM22 116h4v1h-4zM34 116h2v1h-2zM42 116h1v1h-1zM63 116h1v1h-1zM72 116h1v1h-1zM74 116h1v1h-1zM79 116h3v1h-3zM121 116h1v1h-1zM126 116h1v1h-1zM128 116h1v1h-1zM158 116h1v1h-1zM11 117h1v1h-1zM14 117h4v1h-4zM23 117h1v1h-1zM25 117h2v1h-2zM46 117h3v1h-3zM50 117h1v1h-1zM57 117h1v1h-1zM64 117h1v1h-1zM66 117h1v1h-1zM83 117h1v1h-1zM85 117h1v1h-1zM92 117h1v1h-1zM103 117h1v1h-1zM151 117h1v1h-1zM153 117h2v1h-2zM157 117h1v1h-1zM6 118h1v1h-1zM14 118h1v1h-1zM16 118h2v1h-2zM22 118h5v1h-5zM48 118h1v1h-1zM65 118h1v1h-1zM79 118h1v1h-1zM83 118h1v1h-1zM103 118h1v1h-1zM124 118h1v1h-1zM11 119h1v1h-1zM92 119h1v1h-1zM112 119h2v1h-2zM127 119h1v1h-1zM139 119h1v1h-1zM141 119h1v1h-1zM0 120h2v1h-2zM3 120h1v1h-1zM10 120h1v1h-1zM17 120h1v1h-1zM23 120h1v1h-1zM45 120h1v1h-1zM57 120h1v1h-1zM106 120h1v1h-1zM113 120h1v1h-1zM127 120h1v1h-1zM132 120h1v1h-1zM141 120h1v1h-1zM155 120h2v1h-2zM14 121h4v1h-4zM22 121h4v1h-4zM83 121h1v1h-1zM126 121h1v1h-1zM157 121h2v1h-2zM15 122h3v1h-3zM22 122h2v1h-2zM26 122h1v1h-1zM79 122h1v1h-1zM83 122h1v1h-1zM103 122h1v1h-1zM151 122h1v1h-1zM14 123h4v1h-4zM22 123h2v1h-2zM25 123h2v1h-2zM64 123h3v1h-3zM79 123h1v1h-1zM83 123h1v1h-1zM103 123h1v1h-1zM149 123h1v1h-1zM151 123h2v1h-2zM11 124h1v1h-1zM18 124h1v1h-1zM23 124h1v1h-1zM26 124h1v1h-1zM46 124h5v1h-5zM59 124h1v1h-1zM64 124h3v1h-3zM84 124h2v1h-2zM143 124h1v1h-1zM152 124h3v1h-3zM23 125h1v1h-1zM46 125h1v1h-1zM48 125h1v1h-1zM64 125h3v1h-3zM83 125h3v1h-3zM151 125h3v1h-3zM1 126h3v1h-3zM8 126h1v1h-1zM11 126h1v1h-1zM23 126h2v1h-2zM43 126h2v1h-2zM53 126h1v1h-1zM69 126h1v1h-1zM108 126h3v1h-3zM112 126h1v1h-1zM131 126h1v1h-1zM139 126h4v1h-4zM155 126h2v1h-2zM2 127h2v1h-2zM8 127h1v1h-1zM11 127h1v1h-1zM20 127h1v1h-1zM36 127h1v1h-1zM43 127h3v1h-3zM52 127h2v1h-2zM56 127h1v1h-1zM59 127h1v1h-1zM69 127h1v1h-1zM91 127h3v1h-3zM109 127h1v1h-1zM112 127h1v1h-1zM131 127h1v1h-1zM133 127h1v1h-1zM139 127h4v1h-4zM156 127h1v1h-1zM1 128h3v1h-3zM8 128h1v1h-1zM11 128h1v1h-1zM20 128h3v1h-3zM43 128h2v1h-2zM48 128h1v1h-1zM52 128h1v1h-1zM57 128h1v1h-1zM59 128h1v1h-1zM69 128h1v1h-1zM77 128h2v1h-2zM82 128h1v1h-1zM91 128h2v1h-2zM97 128h1v1h-1zM108 128h1v1h-1zM112 128h2v1h-2zM118 128h1v1h-1zM139 128h1v1h-1zM141 128h3v1h-3zM152 128h1v1h-1zM155 128h2v1h-2zM36 129h1v1h-1zM44 129h1v1h-1zM113 129h1v1h-1zM139 129h1v1h-1zM141 129h1v1h-1zM155 129h2v1h-2zM0 130h4v1h-4zM9 130h1v1h-1zM11 130h2v1h-2zM18 130h1v1h-1zM20 130h2v1h-2zM38 130h1v1h-1zM43 130h3v1h-3zM47 130h1v1h-1zM52 130h1v1h-1zM56 130h2v1h-2zM59 130h1v1h-1zM69 130h1v1h-1zM77 130h1v1h-1zM82 130h1v1h-1zM91 130h2v1h-2zM94 130h1v1h-1zM102 130h1v1h-1zM109 130h2v1h-2zM112 130h3v1h-3zM117 130h1v1h-1zM119 130h1v1h-1zM139 130h4v1h-4zM155 130h2v1h-2zM11 131h1v1h-1zM43 131h1v1h-1zM56 131h1v1h-1zM69 131h1v1h-1zM77 131h1v1h-1zM93 131h1v1h-1zM106 131h1v1h-1zM108 131h1v1h-1zM113 131h2v1h-2zM139 131h1v1h-1zM156 131h1v1h-1zM1 132h1v1h-1zM3 132h1v1h-1zM11 132h1v1h-1zM59 132h1v1h-1zM69 132h1v1h-1zM92 132h1v1h-1zM113 132h1v1h-1zM139 132h3v1h-3zM155 132h2v1h-2zM15 133h3v1h-3zM22 133h5v1h-5zM83 133h1v1h-1zM85 133h1v1h-1zM103 133h1v1h-1zM151 133h1v1h-1zM11 134h1v1h-1zM15 134h1v1h-1zM23 134h1v1h-1zM46 134h3v1h-3zM57 134h1v1h-1zM59 134h2v1h-2zM64 134h3v1h-3zM83 134h3v1h-3zM91 134h2v1h-2zM143 134h1v1h-1zM152 134h2v1h-2zM15 135h1v1h-1zM23 135h1v1h-1zM26 135h1v1h-1zM46 135h1v1h-1zM48 135h1v1h-1zM56 135h1v1h-1zM65 135h2v1h-2zM92 135h1v1h-1zM103 135h1v1h-1zM129 135h1v1h-1zM153 135h1v1h-1zM23 136h1v1h-1zM46 136h4v1h-4zM56 136h2v1h-2zM64 136h3v1h-3zM84 136h2v1h-2zM129 136h1v1h-1zM132 136h2v1h-2zM151 136h4v1h-4zM14 137h1v1h-1zM16 137h2v1h-2zM22 137h1v1h-1zM24 137h3v1h-3zM83 137h1v1h-1zM85 137h1v1h-1zM157 137h1v1h-1zM14 138h2v1h-2zM22 138h2v1h-2zM25 138h2v1h-2zM66 138h1v1h-1zM79 138h1v1h-1zM83 138h1v1h-1zM85 138h1v1h-1zM103 138h1v1h-1zM143 138h1v1h-1zM151 138h3v1h-3zM157 138h1v1h-1zM1 139h1v1h-1zM3 139h1v1h-1zM11 139h1v1h-1zM57 139h1v1h-1zM112 139h1v1h-1zM127 139h1v1h-1zM143 139h1v1h-1zM156 139h1v1h-1zM1 140h1v1h-1zM3 140h1v1h-1zM11 140h1v1h-1zM21 140h1v1h-1zM27 140h1v1h-1zM36 140h1v1h-1zM44 140h1v1h-1zM47 140h1v1h-1zM52 140h1v1h-1zM56 140h2v1h-2zM59 140h1v1h-1zM69 140h1v1h-1zM108 140h2v1h-2zM113 140h1v1h-1zM127 140h1v1h-1zM131 140h1v1h-1zM133 140h1v1h-1zM155 140h2v1h-2zM1 141h1v1h-1zM3 141h1v1h-1zM10 141h2v1h-2zM21 141h1v1h-1zM36 141h1v1h-1zM38 141h1v1h-1zM43 141h2v1h-2zM48 141h1v1h-1zM53 141h1v1h-1zM56 141h2v1h-2zM59 141h1v1h-1zM69 141h1v1h-1zM91 141h2v1h-2zM97 141h1v1h-1zM106 141h2v1h-2zM109 141h1v1h-1zM112 141h2v1h-2zM153 141h1v1h-1zM155 141h2v1h-2zM3 142h1v1h-1zM11 142h1v1h-1zM20 142h1v1h-1zM43 142h3v1h-3zM57 142h1v1h-1zM69 142h1v1h-1zM82 142h1v1h-1zM91 142h2v1h-2zM102 142h1v1h-1zM109 142h1v1h-1zM113 142h1v1h-1zM155 142h2v1h-2zM5 143h3v1h-3zM16 143h2v1h-2zM29 143h1v1h-1zM33 143h1v1h-1zM39 143h1v1h-1zM42 143h1v1h-1zM62 143h2v1h-2zM70 143h2v1h-2zM83 143h1v1h-1zM99 143h2v1h-2zM115 143h1v1h-1zM128 143h1v1h-1zM139 143h1v1h-1zM65 144h2v1h-2zM85 144h1v1h-1zM153 144h1v1h-1zM47 145h2v1h-2zM50 145h1v1h-1zM64 145h3v1h-3zM83 145h3v1h-3zM103 145h1v1h-1zM140 145h1v1h-1zM151 145h1v1h-1zM153 145h1v1h-1zM65 146h1v1h-1zM83 146h1v1h-1zM85 146h1v1h-1zM153 146h1v1h-1zM48 147h2v1h-2zM64 147h2v1h-2zM83 147h3v1h-3zM18 148h1v1h-1zM46 148h5v1h-5zM59 148h1v1h-1zM64 148h1v1h-1zM66 148h1v1h-1zM84 148h1v1h-1zM93 148h1v1h-1zM130 148h1v1h-1zM46 149h5v1h-5zM59 149h1v1h-1zM65 149h2v1h-2zM84 149h2v1h-2zM92 149h1v1h-1zM129 149h1v1h-1zM133 149h1v1h-1zM143 149h1v1h-1zM83 150h1v1h-1zM85 150h1v1h-1zM157 150h1v1h-1zM4 151h1v1h-1zM17 151h1v1h-1zM22 151h2v1h-2zM28 151h2v1h-2zM31 151h3v1h-3zM40 151h1v1h-1zM59 151h1v1h-1zM62 151h1v1h-1zM66 151h1v1h-1zM73 151h1v1h-1zM99 151h2v1h-2zM104 151h2v1h-2zM115 151h2v1h-2zM123 151h2v1h-2zM134 151h1v1h-1zM137 151h1v1h-1zM145 151h1v1h-1zM3 152h1v1h-1zM21 152h1v1h-1zM36 152h1v1h-1zM69 152h1v1h-1zM91 152h1v1h-1zM112 152h1v1h-1zM127 152h1v1h-1zM139 152h1v1h-1zM156 152h2v1h-2zM127 153h1v1h-1zM158 153h1v1h-1zM1 154h1v1h-1zM3 154h1v1h-1zM69 154h1v1h-1zM109 154h1v1h-1zM113 154h1v1h-1zM117 154h1v1h-1zM119 154h1v1h-1zM127 154h1v1h-1zM139 154h2v1h-2zM1 155h1v1h-1zM3 155h1v1h-1zM11 155h1v1h-1zM18 155h1v1h-1zM20 155h1v1h-1zM24 155h1v1h-1zM43 155h1v1h-1zM57 155h1v1h-1zM108 155h1v1h-1zM112 155h2v1h-2zM118 155h1v1h-1zM127 155h1v1h-1zM147 155h1v1h-1zM0 156h2v1h-2zM11 156h1v1h-1zM20 156h1v1h-1zM22 156h1v1h-1zM36 156h1v1h-1zM44 156h1v1h-1zM52 156h1v1h-1zM56 156h2v1h-2zM59 156h1v1h-1zM75 156h1v1h-1zM82 156h1v1h-1zM92 156h1v1h-1zM111 156h1v1h-1zM113 156h1v1h-1zM118 156h1v1h-1zM127 156h1v1h-1zM133 156h1v1h-1zM143 156h1v1h-1zM151 156h2v1h-2zM3 157h3v1h-3zM9 157h1v1h-1zM11 157h1v1h-1zM14 157h1v1h-1zM16 157h2v1h-2zM24 157h1v1h-1zM28 157h2v1h-2zM32 157h1v1h-1zM40 157h1v1h-1zM42 157h1v1h-1zM53 157h1v1h-1zM55 157h1v1h-1zM58 157h1v1h-1zM62 157h2v1h-2zM70 157h1v1h-1zM73 157h1v1h-1zM79 157h2v1h-2zM99 157h2v1h-2zM104 157h2v1h-2zM110 157h1v1h-1zM116 157h1v1h-1zM122 157h3v1h-3zM128 157h1v1h-1zM146 157h2v1h-2zM153 157h1v1h-1zM3 158h1v1h-1zM22 158h1v1h-1zM29 158h3v1h-3zM33 158h2v1h-2zM41 158h1v1h-1zM62 158h1v1h-1zM71 158h1v1h-1zM73 158h1v1h-1zM99 158h2v1h-2zM104 158h2v1h-2zM115 158h1v1h-1zM121 158h1v1h-1zM123 158h2v1h-2zM134 158h1v1h-1zM136 158h2v1h-2zM145 158h6v1h-6z"/>
<path fill="#d0416f" d="M82 1h1v1h-1zM82 2h1v1h-1zM127 2h1v1h-1zM32 4h1v1h-1zM40 4h1v1h-1zM120 4h3v1h-3zM124 4h1v1h-1zM134 4h1v1h-1zM136 4h2v1h-2zM147 4h1v1h-1zM150 4h1v1h-1zM29 5h1v1h-1zM40 5h1v1h-1zM123 5h1v1h-1zM146 5h1v1h-1zM28 6h2v1h-2zM42 6h1v1h-1zM82 6h1v1h-1zM116 6h1v1h-1zM34 7h2v1h-2zM39 7h1v1h-1zM42 7h1v1h-1zM82 7h1v1h-1zM126 7h1v1h-1zM82 8h1v1h-1zM82 9h1v1h-1zM127 9h1v1h-1zM155 9h1v1h-1zM82 10h1v1h-1zM127 10h1v1h-1zM82 11h1v1h-1zM127 11h1v1h-1zM82 12h1v1h-1zM82 13h1v1h-1zM82 15h1v1h-1zM82 16h1v1h-1zM82 18h1v1h-1zM82 19h1v1h-1zM127 20h1v1h-1zM77 22h1v1h-1zM134 22h1v1h-1zM138 22h1v1h-1zM145 22h1v1h-1zM82 23h1v1h-1zM82 26h1v1h-1zM22 28h2v1h-2zM35 28h1v1h-1zM39 28h1v1h-1zM72 28h1v1h-1zM81 28h1v1h-1zM157 28h2v1h-2zM15 29h1v1h-1zM23 29h1v1h-1zM39 29h1v1h-1zM72 29h1v1h-1zM79 29h1v1h-1zM157 29h2v1h-2zM103 30h1v1h-1zM158 30h1v1h-1zM79 31h1v1h-1zM103 31h1v1h-1zM83 32h1v1h-1zM103 32h1v1h-1zM151 32h1v1h-1zM157 32h1v1h-1zM29 33h1v1h-1zM39 33h1v1h-1zM79 33h1v1h-1zM103 33h1v1h-1zM157 33h1v1h-1zM26 34h1v1h-1zM79 34h1v1h-1zM85 34h1v1h-1zM157 34h2v1h-2zM42 35h1v1h-1zM63 35h1v1h-1zM72 35h1v1h-1zM80 35h1v1h-1zM126 35h1v1h-1zM157 35h1v1h-1zM127 37h1v1h-1zM4 40h1v1h-1zM46 40h1v1h-1zM63 40h1v1h-1zM71 40h2v1h-2zM80 40h2v1h-2zM158 40h1v1h-1zM6 41h1v1h-1zM17 41h1v1h-1zM24 41h2v1h-2zM79 41h1v1h-1zM157 41h2v1h-2zM4 42h1v1h-1zM6 42h1v1h-1zM24 42h1v1h-1zM35 42h1v1h-1zM48 42h1v1h-1zM72 42h1v1h-1zM74 42h1v1h-1zM126 42h1v1h-1zM128 42h1v1h-1zM158 42h1v1h-1zM62 44h1v1h-1zM66 44h1v1h-1zM127 45h1v1h-1zM5 46h1v1h-1zM7 46h1v1h-1zM29 46h1v1h-1zM34 46h1v1h-1zM67 46h1v1h-1zM70 46h2v1h-2zM73 46h2v1h-2zM100 46h1v1h-1zM128 46h1v1h-1zM4 47h1v1h-1zM6 47h1v1h-1zM22 47h4v1h-4zM34 47h2v1h-2zM39 47h1v1h-1zM70 47h2v1h-2zM73 47h2v1h-2zM80 47h2v1h-2zM116 47h1v1h-1zM126 47h1v1h-1zM128 47h1v1h-1zM157 47h1v1h-1zM7 48h1v1h-1zM29 48h1v1h-1zM34 48h1v1h-1zM43 48h1v1h-1zM54 48h1v1h-1zM67 48h1v1h-1zM70 48h1v1h-1zM99 48h2v1h-2zM116 48h1v1h-1zM11 49h1v1h-1zM55 49h1v1h-1zM56 50h1v1h-1zM46 51h1v1h-1zM47 52h1v1h-1zM56 52h1v1h-1zM58 52h1v1h-1zM47 53h1v1h-1zM57 53h1v1h-1zM48 54h1v1h-1zM50 56h1v1h-1zM52 56h1v1h-1zM51 57h3v1h-3zM3 58h1v1h-1zM64 58h1v1h-1zM127 58h1v1h-1zM140 58h1v1h-1zM153 58h1v1h-1zM155 58h1v1h-1zM44 61h1v1h-1zM138 61h1v1h-1zM4 62h3v1h-3zM24 62h2v1h-2zM34 62h2v1h-2zM39 62h1v1h-1zM42 62h1v1h-1zM66 62h1v1h-1zM71 62h2v1h-2zM74 62h1v1h-1zM81 62h1v1h-1zM126 62h1v1h-1zM128 62h1v1h-1zM30 63h4v1h-4zM40 63h2v1h-2zM58 63h1v1h-1zM99 63h1v1h-1zM104 63h2v1h-2zM115 63h1v1h-1zM121 63h3v1h-3zM134 63h1v1h-1zM136 63h2v1h-2zM144 63h4v1h-4zM149 63h2v1h-2zM44 65h1v1h-1zM61 65h1v1h-1zM139 65h1v1h-1zM44 66h1v1h-1zM127 66h1v1h-1zM31 67h2v1h-2zM40 67h2v1h-2zM44 67h1v1h-1zM62 67h2v1h-2zM72 67h1v1h-1zM115 67h1v1h-1zM120 67h3v1h-3zM124 67h2v1h-2zM134 67h4v1h-4zM144 67h2v1h-2zM147 67h4v1h-4zM63 68h1v1h-1zM134 68h2v1h-2zM138 68h1v1h-1zM66 70h1v1h-1zM76 70h1v1h-1zM30 71h2v1h-2zM40 71h2v1h-2zM66 71h1v1h-1zM91 71h3v1h-3zM115 71h1v1h-1zM120 71h1v1h-1zM122 71h1v1h-1zM124 71h1v1h-1zM134 71h1v1h-1zM136 71h3v1h-3zM144 71h4v1h-4zM150 71h1v1h-1zM4 72h3v1h-3zM16 72h1v1h-1zM23 72h1v1h-1zM39 72h1v1h-1zM63 72h1v1h-1zM66 72h1v1h-1zM126 72h1v1h-1zM157 72h2v1h-2zM4 73h1v1h-1zM14 73h1v1h-1zM16 73h2v1h-2zM24 73h2v1h-2zM35 73h1v1h-1zM39 73h1v1h-1zM42 73h1v1h-1zM63 73h1v1h-1zM91 73h2v1h-2zM126 73h1v1h-1zM158 73h1v1h-1zM4 74h3v1h-3zM24 74h1v1h-1zM34 74h2v1h-2zM39 74h1v1h-1zM42 74h1v1h-1zM63 74h1v1h-1zM81 74h1v1h-1zM97 74h1v1h-1zM103 74h1v1h-1zM128 74h1v1h-1zM157 74h1v1h-1zM69 75h1v1h-1zM127 75h1v1h-1zM1 76h1v1h-1zM3 76h1v1h-1zM43 76h2v1h-2zM70 76h1v1h-1zM82 76h1v1h-1zM87 76h1v1h-1zM108 76h1v1h-1zM112 76h1v1h-1zM118 76h1v1h-1zM139 76h4v1h-4zM155 76h2v1h-2zM69 77h1v1h-1zM127 77h1v1h-1zM155 77h2v1h-2zM92 78h3v1h-3zM127 78h1v1h-1zM30 79h2v1h-2zM40 79h2v1h-2zM91 79h2v1h-2zM120 79h3v1h-3zM124 79h2v1h-2zM134 79h1v1h-1zM137 79h2v1h-2zM145 79h1v1h-1zM147 79h4v1h-4zM7 80h1v1h-1zM24 80h1v1h-1zM29 80h1v1h-1zM42 80h1v1h-1zM91 80h3v1h-3zM116 80h1v1h-1zM128 80h1v1h-1zM7 81h1v1h-1zM28 81h2v1h-2zM5 82h1v1h-1zM7 82h1v1h-1zM28 82h2v1h-2zM62 82h1v1h-1zM74 82h1v1h-1zM115 82h2v1h-2zM74 84h1v1h-1zM89 84h1v1h-1zM80 85h1v1h-1zM90 85h1v1h-1zM81 86h2v1h-2zM76 87h2v1h-2zM77 88h1v1h-1zM84 89h1v1h-1zM97 89h1v1h-1zM95 90h1v1h-1zM78 91h1v1h-1zM83 91h1v1h-1zM97 91h1v1h-1zM99 91h2v1h-2zM78 92h1v1h-1zM72 94h2v1h-2zM78 94h2v1h-2zM82 94h2v1h-2zM90 95h1v1h-1zM89 97h1v1h-1zM91 97h1v1h-1zM138 97h1v1h-1zM148 97h1v1h-1zM102 98h1v1h-1zM4 99h3v1h-3zM14 99h1v1h-1zM17 99h1v1h-1zM24 99h1v1h-1zM39 99h1v1h-1zM42 99h1v1h-1zM63 99h1v1h-1zM91 99h1v1h-1zM126 99h1v1h-1zM158 99h1v1h-1zM74 100h1v1h-1zM91 100h2v1h-2zM106 100h1v1h-1zM97 101h1v1h-1zM98 102h1v1h-1zM93 103h1v1h-1zM4 104h2v1h-2zM34 104h2v1h-2zM39 104h1v1h-1zM42 104h1v1h-1zM63 104h1v1h-1zM74 104h1v1h-1zM92 104h1v1h-1zM98 104h1v1h-1zM126 104h1v1h-1zM157 104h1v1h-1zM5 105h1v1h-1zM24 105h2v1h-2zM34 105h1v1h-1zM39 105h1v1h-1zM74 105h1v1h-1zM91 105h2v1h-2zM157 105h1v1h-1zM100 106h1v1h-1zM112 108h1v1h-1zM116 111h1v1h-1zM1 112h1v1h-1zM109 113h1v1h-1zM150 114h1v1h-1zM4 115h3v1h-3zM16 115h2v1h-2zM24 115h1v1h-1zM34 115h2v1h-2zM63 115h1v1h-1zM72 115h1v1h-1zM79 115h1v1h-1zM81 115h1v1h-1zM126 115h1v1h-1zM128 115h1v1h-1zM158 115h1v1h-1zM4 116h3v1h-3zM29 116h1v1h-1zM70 116h2v1h-2zM73 116h1v1h-1zM99 116h2v1h-2zM111 116h1v1h-1zM4 117h3v1h-3zM22 117h1v1h-1zM24 117h1v1h-1zM34 117h2v1h-2zM63 117h1v1h-1zM72 117h1v1h-1zM74 117h1v1h-1zM79 117h1v1h-1zM81 117h1v1h-1zM126 117h1v1h-1zM158 117h1v1h-1zM4 118h2v1h-2zM34 118h2v1h-2zM42 118h1v1h-1zM63 118h1v1h-1zM71 118h2v1h-2zM74 118h1v1h-1zM81 118h1v1h-1zM146 118h2v1h-2zM116 120h1v1h-1zM39 121h1v1h-1zM63 121h1v1h-1zM72 121h1v1h-1zM79 121h1v1h-1zM81 121h1v1h-1zM118 121h1v1h-1zM14 122h1v1h-1zM24 122h2v1h-2zM133 122h1v1h-1zM157 122h1v1h-1zM24 123h1v1h-1zM63 123h1v1h-1zM157 123h2v1h-2zM14 124h4v1h-4zM22 124h1v1h-1zM24 124h2v1h-2zM79 124h1v1h-1zM83 124h1v1h-1zM103 124h1v1h-1zM151 124h1v1h-1zM14 125h4v1h-4zM22 125h1v1h-1zM24 125h3v1h-3zM79 125h1v1h-1zM103 125h1v1h-1zM131 125h1v1h-1zM157 125h2v1h-2zM125 128h1v1h-1zM127 131h1v1h-1zM127 132h1v1h-1zM14 133h1v1h-1zM63 133h1v1h-1zM71 133h2v1h-2zM74 133h1v1h-1zM79 133h1v1h-1zM157 133h2v1h-2zM14 134h1v1h-1zM16 134h2v1h-2zM22 134h1v1h-1zM24 134h3v1h-3zM79 134h1v1h-1zM103 134h1v1h-1zM151 134h1v1h-1zM157 134h1v1h-1zM14 135h1v1h-1zM16 135h2v1h-2zM22 135h1v1h-1zM24 135h2v1h-2zM79 135h1v1h-1zM83 135h1v1h-1zM130 135h1v1h-1zM151 135h1v1h-1zM157 135h1v1h-1zM14 136h4v1h-4zM22 136h1v1h-1zM24 136h3v1h-3zM72 136h1v1h-1zM79 136h1v1h-1zM83 136h1v1h-1zM103 136h1v1h-1zM158 136h1v1h-1zM35 137h1v1h-1zM39 137h1v1h-1zM42 137h1v1h-1zM63 137h1v1h-1zM72 137h1v1h-1zM79 137h1v1h-1zM126 137h1v1h-1zM133 137h1v1h-1zM158 137h1v1h-1zM4 138h1v1h-1zM16 138h2v1h-2zM24 138h1v1h-1zM39 138h1v1h-1zM63 138h1v1h-1zM158 138h1v1h-1zM127 141h1v1h-1zM127 142h1v1h-1zM28 143h1v1h-1zM30 143h3v1h-3zM40 143h2v1h-2zM73 143h1v1h-1zM104 143h2v1h-2zM120 143h6v1h-6zM134 143h4v1h-4zM150 143h1v1h-1zM79 144h1v1h-1zM83 144h1v1h-1zM103 144h1v1h-1zM151 144h1v1h-1zM157 144h1v1h-1zM63 145h1v1h-1zM79 145h1v1h-1zM152 145h1v1h-1zM154 145h1v1h-1zM157 145h2v1h-2zM79 146h1v1h-1zM103 146h1v1h-1zM157 146h2v1h-2zM103 147h1v1h-1zM65 148h1v1h-1zM79 148h1v1h-1zM83 148h1v1h-1zM85 148h1v1h-1zM103 148h1v1h-1zM143 148h1v1h-1zM64 149h1v1h-1zM103 149h1v1h-1zM154 149h1v1h-1zM79 150h1v1h-1zM103 150h1v1h-1zM158 150h1v1h-1zM30 151h1v1h-1zM41 151h1v1h-1zM120 151h3v1h-3zM125 151h1v1h-1zM135 151h2v1h-2zM138 151h1v1h-1zM146 151h1v1h-1zM30 157h2v1h-2zM41 157h1v1h-1zM115 157h1v1h-1zM120 157h2v1h-2zM125 157h1v1h-1zM134 157h5v1h-5zM144 157h2v1h-2zM148 157h2v1h-2zM152 157h1v1h-1zM40 158h1v1h-1zM120 158h1v1h-1zM122 158h1v1h-1zM125 158h1v1h-1zM135 158h1v1h-1zM138 158h1v1h-1zM144 158h1v1h-1zM153 158h1v1h-1z"/>
<path fill="#d9466b" d="M30 4h2v1h-2zM41 4h1v1h-1zM125 4h1v1h-1zM138 4h1v1h-1zM144 4h2v1h-2zM148 4h2v1h-2zM32 5h2v1h-2zM41 5h1v1h-1zM120 5h3v1h-3zM124 5h1v1h-1zM147 5h1v1h-1zM32 6h2v1h-2zM40 6h1v1h-1zM123 6h1v1h-1zM146 6h1v1h-1zM116 7h1v1h-1zM128 7h1v1h-1zM127 21h1v1h-1zM4 28h1v1h-1zM14 28h4v1h-4zM24 28h1v1h-1zM34 28h1v1h-1zM42 28h1v1h-1zM63 28h1v1h-1zM70 28h2v1h-2zM73 28h2v1h-2zM126 28h1v1h-1zM128 28h1v1h-1zM14 29h1v1h-1zM16 29h2v1h-2zM22 29h1v1h-1zM24 29h2v1h-2zM34 29h2v1h-2zM42 29h1v1h-1zM63 29h1v1h-1zM71 29h1v1h-1zM74 29h1v1h-1zM126 29h1v1h-1zM14 30h2v1h-2zM22 30h2v1h-2zM25 30h2v1h-2zM34 30h2v1h-2zM39 30h1v1h-1zM42 30h1v1h-1zM63 30h1v1h-1zM71 30h2v1h-2zM74 30h1v1h-1zM80 30h1v1h-1zM126 30h1v1h-1zM128 30h1v1h-1zM23 31h1v1h-1zM157 31h2v1h-2zM22 32h2v1h-2zM28 32h1v1h-1zM79 32h1v1h-1zM158 32h1v1h-1zM15 33h1v1h-1zM22 33h2v1h-2zM26 33h1v1h-1zM63 33h1v1h-1zM72 33h1v1h-1zM158 33h1v1h-1zM15 34h1v1h-1zM22 34h2v1h-2zM42 34h1v1h-1zM63 34h1v1h-1zM70 34h1v1h-1zM72 34h1v1h-1zM126 34h1v1h-1zM4 35h4v1h-4zM70 35h2v1h-2zM73 35h2v1h-2zM81 35h1v1h-1zM128 35h1v1h-1zM34 38h1v1h-1zM5 40h2v1h-2zM70 40h1v1h-1zM73 40h2v1h-2zM126 40h1v1h-1zM128 40h1v1h-1zM4 41h2v1h-2zM35 41h1v1h-1zM63 41h1v1h-1zM70 41h5v1h-5zM80 41h2v1h-2zM126 41h1v1h-1zM128 41h1v1h-1zM5 42h1v1h-1zM34 42h1v1h-1zM63 42h1v1h-1zM70 42h2v1h-2zM73 42h1v1h-1zM80 42h2v1h-2zM100 42h1v1h-1zM50 44h1v1h-1zM67 45h1v1h-1zM28 46h1v1h-1zM80 46h1v1h-1zM99 46h1v1h-1zM116 46h1v1h-1zM7 47h1v1h-1zM28 47h2v1h-2zM67 47h1v1h-1zM99 47h2v1h-2zM115 47h1v1h-1zM28 48h1v1h-1zM33 48h1v1h-1zM40 48h1v1h-1zM42 48h1v1h-1zM104 48h2v1h-2zM115 48h1v1h-1zM123 48h1v1h-1zM67 50h1v1h-1zM57 51h1v1h-1zM67 51h1v1h-1zM57 52h1v1h-1zM49 53h1v1h-1zM52 58h1v1h-1zM63 58h1v1h-1zM64 59h2v1h-2zM7 62h1v1h-1zM29 62h1v1h-1zM70 62h1v1h-1zM73 62h1v1h-1zM80 62h1v1h-1zM49 63h1v1h-1zM120 63h1v1h-1zM124 63h2v1h-2zM135 63h1v1h-1zM138 63h1v1h-1zM148 63h1v1h-1zM49 64h1v1h-1zM59 64h1v1h-1zM62 65h1v1h-1zM138 67h1v1h-1zM125 71h1v1h-1zM135 71h1v1h-1zM148 71h2v1h-2zM7 72h1v1h-1zM34 72h2v1h-2zM42 72h1v1h-1zM128 72h1v1h-1zM5 73h2v1h-2zM34 73h1v1h-1zM81 73h1v1h-1zM128 73h1v1h-1zM7 74h1v1h-1zM100 74h1v1h-1zM104 74h2v1h-2zM116 74h1v1h-1zM126 74h1v1h-1zM127 76h1v1h-1zM83 78h1v1h-1zM135 79h1v1h-1zM28 80h1v1h-1zM62 80h1v1h-1zM85 80h1v1h-1zM115 80h1v1h-1zM146 80h1v1h-1zM32 81h2v1h-2zM40 81h1v1h-1zM73 81h1v1h-1zM95 81h3v1h-3zM115 81h1v1h-1zM123 81h1v1h-1zM146 81h1v1h-1zM32 82h2v1h-2zM123 82h1v1h-1zM78 83h1v1h-1zM91 84h1v1h-1zM85 90h1v1h-1zM101 97h1v1h-1zM103 98h1v1h-1zM7 99h1v1h-1zM34 99h2v1h-2zM74 99h1v1h-1zM128 99h1v1h-1zM96 101h1v1h-1zM107 102h1v1h-1zM81 103h1v1h-1zM98 103h1v1h-1zM108 103h1v1h-1zM6 104h2v1h-2zM128 104h1v1h-1zM4 105h1v1h-1zM6 105h1v1h-1zM35 105h1v1h-1zM42 105h1v1h-1zM63 105h1v1h-1zM126 105h1v1h-1zM128 105h1v1h-1zM102 107h1v1h-1zM103 108h1v1h-1zM113 109h1v1h-1zM117 111h1v1h-1zM108 112h1v1h-1zM7 115h1v1h-1zM42 115h1v1h-1zM70 115h2v1h-2zM73 115h2v1h-2zM80 115h1v1h-1zM7 116h1v1h-1zM28 116h1v1h-1zM33 116h1v1h-1zM62 116h1v1h-1zM104 116h1v1h-1zM123 116h1v1h-1zM7 117h1v1h-1zM42 117h1v1h-1zM70 117h2v1h-2zM80 117h1v1h-1zM100 117h1v1h-1zM111 117h1v1h-1zM123 117h1v1h-1zM128 117h1v1h-1zM7 118h1v1h-1zM70 118h1v1h-1zM73 118h1v1h-1zM80 118h1v1h-1zM100 118h1v1h-1zM112 118h1v1h-1zM125 118h1v1h-1zM134 118h1v1h-1zM136 118h2v1h-2zM144 118h2v1h-2zM149 118h1v1h-1zM124 119h1v1h-1zM4 121h3v1h-3zM34 121h2v1h-2zM42 121h1v1h-1zM70 121h2v1h-2zM73 121h2v1h-2zM80 121h1v1h-1zM128 121h1v1h-1zM133 121h1v1h-1zM4 122h3v1h-3zM35 122h1v1h-1zM39 122h1v1h-1zM42 122h1v1h-1zM63 122h1v1h-1zM71 122h2v1h-2zM81 122h1v1h-1zM158 122h1v1h-1zM4 123h3v1h-3zM34 123h2v1h-2zM39 123h1v1h-1zM42 123h1v1h-1zM71 123h2v1h-2zM133 123h1v1h-1zM5 124h1v1h-1zM72 124h1v1h-1zM128 124h1v1h-1zM133 124h1v1h-1zM157 124h2v1h-2zM35 125h1v1h-1zM39 125h1v1h-1zM63 125h1v1h-1zM71 125h2v1h-2zM81 125h1v1h-1zM133 125h1v1h-1zM130 127h1v1h-1zM133 129h1v1h-1zM4 133h3v1h-3zM34 133h2v1h-2zM39 133h1v1h-1zM42 133h1v1h-1zM70 133h1v1h-1zM73 133h1v1h-1zM80 133h2v1h-2zM100 133h1v1h-1zM126 133h1v1h-1zM128 133h1v1h-1zM4 134h2v1h-2zM63 134h1v1h-1zM72 134h1v1h-1zM128 134h1v1h-1zM158 134h1v1h-1zM4 135h3v1h-3zM35 135h1v1h-1zM39 135h1v1h-1zM42 135h1v1h-1zM63 135h1v1h-1zM71 135h2v1h-2zM126 135h1v1h-1zM158 135h1v1h-1zM4 136h3v1h-3zM34 136h2v1h-2zM39 136h1v1h-1zM42 136h1v1h-1zM63 136h1v1h-1zM71 136h1v1h-1zM74 136h1v1h-1zM81 136h1v1h-1zM126 136h1v1h-1zM157 136h1v1h-1zM4 137h3v1h-3zM34 137h1v1h-1zM71 137h1v1h-1zM73 137h2v1h-2zM80 137h2v1h-2zM128 137h1v1h-1zM5 138h2v1h-2zM34 138h2v1h-2zM42 138h1v1h-1zM70 138h3v1h-3zM74 138h1v1h-1zM81 138h1v1h-1zM126 138h1v1h-1zM128 138h1v1h-1zM138 143h1v1h-1zM149 143h1v1h-1zM22 144h2v1h-2zM26 144h1v1h-1zM63 144h1v1h-1zM72 144h1v1h-1zM126 144h1v1h-1zM158 144h1v1h-1zM22 145h2v1h-2zM26 145h1v1h-1zM35 145h1v1h-1zM72 145h1v1h-1zM74 145h1v1h-1zM23 146h1v1h-1zM26 146h1v1h-1zM35 146h1v1h-1zM39 146h1v1h-1zM42 146h1v1h-1zM63 146h1v1h-1zM72 146h1v1h-1zM126 146h1v1h-1zM151 146h1v1h-1zM154 146h1v1h-1zM23 147h1v1h-1zM63 147h1v1h-1zM79 147h1v1h-1zM132 147h1v1h-1zM152 147h1v1h-1zM157 147h2v1h-2zM153 148h1v1h-1zM157 148h2v1h-2zM79 149h1v1h-1zM83 149h1v1h-1zM157 149h2v1h-2zM22 150h2v1h-2zM26 150h1v1h-1zM63 150h1v1h-1zM144 151h1v1h-1z"/>
<path fill="#e24d66" d="M135 4h1v1h-1zM30 5h2v1h-2zM125 5h1v1h-1zM134 5h1v1h-1zM136 5h3v1h-3zM144 5h2v1h-2zM148 5h3v1h-3zM30 6h2v1h-2zM41 6h1v1h-1zM120 6h3v1h-3zM124 6h2v1h-2zM134 6h5v1h-5zM144 6h2v1h-2zM147 6h4v1h-4zM28 7h2v1h-2zM33 7h1v1h-1zM123 7h1v1h-1zM5 28h2v1h-2zM80 28h1v1h-1zM100 28h1v1h-1zM116 28h1v1h-1zM4 29h3v1h-3zM70 29h1v1h-1zM73 29h1v1h-1zM80 29h2v1h-2zM100 29h1v1h-1zM128 29h1v1h-1zM5 30h2v1h-2zM16 30h2v1h-2zM24 30h1v1h-1zM70 30h1v1h-1zM73 30h1v1h-1zM81 30h1v1h-1zM100 30h1v1h-1zM116 30h1v1h-1zM14 31h4v1h-4zM22 31h1v1h-1zM42 31h1v1h-1zM63 31h1v1h-1zM71 31h2v1h-2zM74 31h1v1h-1zM81 31h1v1h-1zM126 31h1v1h-1zM128 31h1v1h-1zM14 32h4v1h-4zM39 32h1v1h-1zM63 32h1v1h-1zM71 32h2v1h-2zM14 33h1v1h-1zM25 33h1v1h-1zM42 33h1v1h-1zM71 33h1v1h-1zM81 33h1v1h-1zM126 33h1v1h-1zM5 34h1v1h-1zM14 34h1v1h-1zM16 34h2v1h-2zM24 34h2v1h-2zM71 34h1v1h-1zM74 34h1v1h-1zM80 34h2v1h-2zM128 34h1v1h-1zM100 35h1v1h-1zM116 35h1v1h-1zM7 40h1v1h-1zM29 40h1v1h-1zM34 40h1v1h-1zM100 40h1v1h-1zM7 41h1v1h-1zM28 41h2v1h-2zM99 41h2v1h-2zM7 42h1v1h-1zM29 42h1v1h-1zM47 42h1v1h-1zM99 42h1v1h-1zM115 42h2v1h-2zM48 43h2v1h-2zM33 46h1v1h-1zM41 46h1v1h-1zM104 46h2v1h-2zM115 46h1v1h-1zM123 46h1v1h-1zM146 46h1v1h-1zM33 47h1v1h-1zM40 47h1v1h-1zM104 47h2v1h-2zM123 47h1v1h-1zM31 48h2v1h-2zM121 48h1v1h-1zM146 48h2v1h-2zM43 49h1v1h-1zM53 49h1v1h-1zM64 49h1v1h-1zM44 50h1v1h-1zM58 53h1v1h-1zM53 58h1v1h-1zM65 60h2v1h-2zM66 61h1v1h-1zM28 62h1v1h-1zM99 62h2v1h-2zM115 62h2v1h-2zM60 65h1v1h-1zM60 66h2v1h-2zM81 71h1v1h-1zM7 73h1v1h-1zM28 73h2v1h-2zM116 73h1v1h-1zM28 74h2v1h-2zM62 74h1v1h-1zM99 74h1v1h-1zM115 74h1v1h-1zM104 78h2v1h-2zM32 80h2v1h-2zM40 80h1v1h-1zM123 80h1v1h-1zM30 81h1v1h-1zM41 81h1v1h-1zM72 81h1v1h-1zM103 81h2v1h-2zM120 81h3v1h-3zM124 81h1v1h-1zM134 81h1v1h-1zM137 81h2v1h-2zM144 81h2v1h-2zM147 81h3v1h-3zM40 82h2v1h-2zM95 82h1v1h-1zM103 82h1v1h-1zM120 82h3v1h-3zM124 82h1v1h-1zM134 82h1v1h-1zM136 82h1v1h-1zM144 82h4v1h-4zM96 83h1v1h-1zM104 83h1v1h-1zM89 85h1v1h-1zM95 89h1v1h-1zM96 90h1v1h-1zM96 91h1v1h-1zM81 95h1v1h-1zM89 95h1v1h-1zM81 96h1v1h-1zM84 96h1v1h-1zM90 96h2v1h-2zM101 96h1v1h-1zM81 97h1v1h-1zM84 97h1v1h-1zM102 97h2v1h-2zM29 99h1v1h-1zM116 99h1v1h-1zM95 100h1v1h-1zM97 102h1v1h-1zM82 103h1v1h-1zM84 103h1v1h-1zM95 103h1v1h-1zM97 103h1v1h-1zM28 104h2v1h-2zM62 104h1v1h-1zM81 104h1v1h-1zM84 104h1v1h-1zM95 104h2v1h-2zM116 104h1v1h-1zM7 105h1v1h-1zM28 105h2v1h-2zM84 105h1v1h-1zM115 105h2v1h-2zM114 110h1v1h-1zM110 114h1v1h-1zM28 115h2v1h-2zM62 115h1v1h-1zM99 115h2v1h-2zM32 116h1v1h-1zM105 116h1v1h-1zM122 116h1v1h-1zM124 116h1v1h-1zM134 116h1v1h-1zM136 116h1v1h-1zM146 116h2v1h-2zM28 117h2v1h-2zM62 117h1v1h-1zM73 117h1v1h-1zM99 117h1v1h-1zM122 117h1v1h-1zM28 118h2v1h-2zM99 118h1v1h-1zM135 118h1v1h-1zM138 118h1v1h-1zM148 118h1v1h-1zM150 118h1v1h-1zM7 121h1v1h-1zM100 121h1v1h-1zM7 122h1v1h-1zM34 122h1v1h-1zM70 122h1v1h-1zM74 122h1v1h-1zM80 122h1v1h-1zM128 122h1v1h-1zM70 123h1v1h-1zM73 123h2v1h-2zM80 123h2v1h-2zM4 124h1v1h-1zM6 124h1v1h-1zM34 124h2v1h-2zM39 124h1v1h-1zM42 124h1v1h-1zM63 124h1v1h-1zM4 125h3v1h-3zM34 125h1v1h-1zM42 125h1v1h-1zM70 125h1v1h-1zM73 125h2v1h-2zM80 125h1v1h-1zM127 130h1v1h-1zM29 133h1v1h-1zM116 133h1v1h-1zM129 133h1v1h-1zM6 134h1v1h-1zM34 134h2v1h-2zM39 134h1v1h-1zM42 134h1v1h-1zM71 134h1v1h-1zM74 134h1v1h-1zM81 134h1v1h-1zM126 134h1v1h-1zM7 135h1v1h-1zM34 135h1v1h-1zM70 135h1v1h-1zM73 135h2v1h-2zM80 135h2v1h-2zM100 135h1v1h-1zM128 135h1v1h-1zM70 136h1v1h-1zM73 136h1v1h-1zM80 136h1v1h-1zM128 136h1v1h-1zM7 137h1v1h-1zM29 137h1v1h-1zM70 137h1v1h-1zM99 137h2v1h-2zM116 137h1v1h-1zM7 138h1v1h-1zM29 138h1v1h-1zM73 138h1v1h-1zM80 138h1v1h-1zM100 138h1v1h-1zM142 139h1v1h-1zM139 142h1v1h-1zM148 143h1v1h-1zM14 144h4v1h-4zM35 144h1v1h-1zM39 144h1v1h-1zM42 144h1v1h-1zM71 144h1v1h-1zM74 144h1v1h-1zM80 144h2v1h-2zM128 144h1v1h-1zM15 145h3v1h-3zM39 145h1v1h-1zM42 145h1v1h-1zM70 145h2v1h-2zM81 145h1v1h-1zM126 145h1v1h-1zM128 145h1v1h-1zM14 146h4v1h-4zM22 146h1v1h-1zM24 146h2v1h-2zM70 146h2v1h-2zM74 146h1v1h-1zM80 146h2v1h-2zM128 146h1v1h-1zM14 147h3v1h-3zM22 147h1v1h-1zM26 147h1v1h-1zM35 147h1v1h-1zM39 147h1v1h-1zM71 147h2v1h-2zM126 147h1v1h-1zM14 148h2v1h-2zM17 148h1v1h-1zM22 148h2v1h-2zM26 148h1v1h-1zM39 148h1v1h-1zM63 148h1v1h-1zM72 148h1v1h-1zM15 149h2v1h-2zM22 149h2v1h-2zM26 149h1v1h-1zM35 149h1v1h-1zM39 149h1v1h-1zM63 149h1v1h-1zM71 149h2v1h-2zM126 149h1v1h-1zM14 150h3v1h-3zM24 150h1v1h-1zM35 150h1v1h-1zM39 150h1v1h-1zM42 150h1v1h-1zM71 150h2v1h-2zM74 150h1v1h-1zM126 150h1v1h-1zM128 150h1v1h-1zM158 154h1v1h-1z"/>
<path fill="#ea5661" d="M135 5h1v1h-1zM32 7h1v1h-1zM40 7h1v1h-1zM146 7h1v1h-1zM99 28h1v1h-1zM115 28h1v1h-1zM99 29h1v1h-1zM116 29h1v1h-1zM4 30h1v1h-1zM115 30h1v1h-1zM6 31h1v1h-1zM24 31h1v1h-1zM26 31h1v1h-1zM70 31h1v1h-1zM73 31h1v1h-1zM80 31h1v1h-1zM116 31h1v1h-1zM24 32h3v1h-3zM42 32h1v1h-1zM73 32h2v1h-2zM80 32h2v1h-2zM126 32h1v1h-1zM128 32h1v1h-1zM4 33h3v1h-3zM16 33h2v1h-2zM24 33h1v1h-1zM70 33h1v1h-1zM73 33h2v1h-2zM80 33h1v1h-1zM128 33h1v1h-1zM4 34h1v1h-1zM6 34h1v1h-1zM38 34h1v1h-1zM73 34h1v1h-1zM100 34h1v1h-1zM116 34h1v1h-1zM28 35h2v1h-2zM62 35h1v1h-1zM99 35h1v1h-1zM115 35h1v1h-1zM35 39h1v1h-1zM28 40h1v1h-1zM62 40h1v1h-1zM99 40h1v1h-1zM47 41h1v1h-1zM62 41h1v1h-1zM28 42h1v1h-1zM49 42h1v1h-1zM62 42h1v1h-1zM62 45h1v1h-1zM65 45h2v1h-2zM32 46h1v1h-1zM65 46h1v1h-1zM120 46h3v1h-3zM134 46h1v1h-1zM145 46h1v1h-1zM147 46h1v1h-1zM31 47h2v1h-2zM65 47h1v1h-1zM120 47h3v1h-3zM124 47h1v1h-1zM145 47h3v1h-3zM30 48h1v1h-1zM41 48h1v1h-1zM65 48h2v1h-2zM120 48h1v1h-1zM122 48h1v1h-1zM124 48h2v1h-2zM134 48h1v1h-1zM136 48h2v1h-2zM144 48h2v1h-2zM149 48h2v1h-2zM42 49h1v1h-1zM63 49h1v1h-1zM33 62h1v1h-1zM105 62h1v1h-1zM123 62h1v1h-1zM46 65h3v1h-3zM50 65h2v1h-2zM59 65h1v1h-1zM45 66h1v1h-1zM47 66h2v1h-2zM51 66h1v1h-1zM45 67h2v1h-2zM48 67h1v1h-1zM50 67h2v1h-2zM82 71h1v1h-1zM84 71h1v1h-1zM95 71h1v1h-1zM97 71h1v1h-1zM28 72h2v1h-2zM62 72h1v1h-1zM81 72h2v1h-2zM84 72h1v1h-1zM95 72h2v1h-2zM115 72h2v1h-2zM33 73h1v1h-1zM62 73h1v1h-1zM82 73h1v1h-1zM84 73h1v1h-1zM95 73h2v1h-2zM115 73h1v1h-1zM33 74h1v1h-1zM30 80h2v1h-2zM41 80h1v1h-1zM120 80h3v1h-3zM124 80h1v1h-1zM134 80h1v1h-1zM136 80h2v1h-2zM144 80h2v1h-2zM147 80h4v1h-4zM31 81h1v1h-1zM71 81h1v1h-1zM105 81h1v1h-1zM125 81h1v1h-1zM135 81h2v1h-2zM150 81h1v1h-1zM30 82h2v1h-2zM72 82h1v1h-1zM96 82h2v1h-2zM125 82h1v1h-1zM137 82h2v1h-2zM148 82h3v1h-3zM71 83h3v1h-3zM95 83h1v1h-1zM97 83h1v1h-1zM103 83h1v1h-1zM105 83h1v1h-1zM71 84h2v1h-2zM95 84h3v1h-3zM103 84h3v1h-3zM85 89h1v1h-1zM82 95h3v1h-3zM100 95h1v1h-1zM105 95h1v1h-1zM72 96h1v1h-1zM82 96h2v1h-2zM104 96h1v1h-1zM82 97h2v1h-2zM105 97h1v1h-1zM28 99h1v1h-1zM62 99h1v1h-1zM84 99h1v1h-1zM115 99h1v1h-1zM105 100h1v1h-1zM105 101h1v1h-1zM71 103h2v1h-2zM83 103h1v1h-1zM33 104h1v1h-1zM82 104h2v1h-2zM115 104h1v1h-1zM123 104h1v1h-1zM146 104h1v1h-1zM62 105h1v1h-1zM81 105h2v1h-2zM95 105h3v1h-3zM102 108h1v1h-1zM118 112h1v1h-1zM104 115h1v1h-1zM30 116h2v1h-2zM125 116h1v1h-1zM137 116h2v1h-2zM144 116h2v1h-2zM148 116h3v1h-3zM33 117h1v1h-1zM33 118h1v1h-1zM62 118h1v1h-1zM104 118h2v1h-2zM28 121h2v1h-2zM99 121h1v1h-1zM115 121h1v1h-1zM28 122h2v1h-2zM73 122h1v1h-1zM99 122h2v1h-2zM116 122h1v1h-1zM126 122h1v1h-1zM7 123h1v1h-1zM29 123h1v1h-1zM100 123h1v1h-1zM116 123h1v1h-1zM118 123h1v1h-1zM7 124h1v1h-1zM70 124h2v1h-2zM73 124h2v1h-2zM80 124h2v1h-2zM29 125h1v1h-1zM100 125h1v1h-1zM116 125h1v1h-1zM7 133h1v1h-1zM28 133h1v1h-1zM62 133h1v1h-1zM99 133h1v1h-1zM115 133h1v1h-1zM7 134h1v1h-1zM70 134h1v1h-1zM73 134h1v1h-1zM80 134h1v1h-1zM100 134h1v1h-1zM29 135h1v1h-1zM116 135h1v1h-1zM7 136h1v1h-1zM29 136h1v1h-1zM99 136h2v1h-2zM115 136h2v1h-2zM28 137h1v1h-1zM62 137h1v1h-1zM115 137h1v1h-1zM28 138h1v1h-1zM99 138h1v1h-1zM115 138h2v1h-2zM5 144h2v1h-2zM24 144h2v1h-2zM70 144h1v1h-1zM73 144h1v1h-1zM100 144h1v1h-1zM116 144h1v1h-1zM4 145h3v1h-3zM14 145h1v1h-1zM24 145h2v1h-2zM73 145h1v1h-1zM80 145h1v1h-1zM100 145h1v1h-1zM116 145h1v1h-1zM6 146h1v1h-1zM34 146h1v1h-1zM73 146h1v1h-1zM100 146h1v1h-1zM116 146h1v1h-1zM5 147h1v1h-1zM17 147h1v1h-1zM24 147h2v1h-2zM42 147h1v1h-1zM70 147h1v1h-1zM74 147h1v1h-1zM81 147h1v1h-1zM128 147h1v1h-1zM16 148h1v1h-1zM24 148h2v1h-2zM35 148h1v1h-1zM42 148h1v1h-1zM74 148h1v1h-1zM81 148h1v1h-1zM128 148h1v1h-1zM14 149h1v1h-1zM17 149h1v1h-1zM24 149h2v1h-2zM42 149h1v1h-1zM70 149h1v1h-1zM74 149h1v1h-1zM80 149h2v1h-2zM4 150h3v1h-3zM17 150h1v1h-1zM25 150h1v1h-1zM70 150h1v1h-1zM73 150h1v1h-1zM80 150h2v1h-2zM154 158h1v1h-1z"/>
<path fill="#f05f5e" d="M31 7h1v1h-1zM41 7h1v1h-1zM121 7h2v1h-2zM124 7h1v1h-1zM134 7h1v1h-1zM136 7h1v1h-1zM144 7h2v1h-2zM147 7h1v1h-1zM149 7h1v1h-1zM7 28h1v1h-1zM33 28h1v1h-1zM62 28h1v1h-1zM104 28h1v1h-1zM123 28h1v1h-1zM7 29h1v1h-1zM62 29h1v1h-1zM115 29h1v1h-1zM7 30h1v1h-1zM62 30h1v1h-1zM99 30h1v1h-1zM104 30h1v1h-1zM4 31h2v1h-2zM39 31h1v1h-1zM100 31h1v1h-1zM4 32h3v1h-3zM70 32h1v1h-1zM100 32h1v1h-1zM100 33h1v1h-1zM116 33h1v1h-1zM7 34h1v1h-1zM99 34h1v1h-1zM115 34h1v1h-1zM40 35h1v1h-1zM104 35h2v1h-2zM123 35h1v1h-1zM104 40h2v1h-2zM123 40h1v1h-1zM33 41h2v1h-2zM105 41h1v1h-1zM33 42h1v1h-1zM104 42h2v1h-2zM123 42h1v1h-1zM50 43h1v1h-1zM51 44h1v1h-1zM61 45h1v1h-1zM30 46h2v1h-2zM61 46h1v1h-1zM66 46h1v1h-1zM124 46h2v1h-2zM136 46h3v1h-3zM144 46h1v1h-1zM148 46h2v1h-2zM30 47h1v1h-1zM42 47h1v1h-1zM66 47h1v1h-1zM125 47h1v1h-1zM134 47h1v1h-1zM136 47h3v1h-3zM144 47h1v1h-1zM148 47h3v1h-3zM61 48h1v1h-1zM68 48h1v1h-1zM135 48h1v1h-1zM148 48h1v1h-1zM43 50h1v1h-1zM65 50h2v1h-2zM62 51h1v1h-1zM65 51h1v1h-1zM64 60h1v1h-1zM105 60h1v1h-1zM46 61h2v1h-2zM32 62h1v1h-1zM40 62h1v1h-1zM45 62h2v1h-2zM65 62h1v1h-1zM146 62h2v1h-2zM60 64h1v1h-1zM45 65h1v1h-1zM46 66h1v1h-1zM50 66h1v1h-1zM47 67h1v1h-1zM83 71h1v1h-1zM96 71h1v1h-1zM103 71h3v1h-3zM33 72h1v1h-1zM83 72h1v1h-1zM97 72h1v1h-1zM103 72h1v1h-1zM40 73h1v1h-1zM83 73h1v1h-1zM97 73h1v1h-1zM123 73h1v1h-1zM146 73h1v1h-1zM32 74h1v1h-1zM40 74h2v1h-2zM80 74h1v1h-1zM121 74h1v1h-1zM123 74h2v1h-2zM146 74h2v1h-2zM95 75h1v1h-1zM95 78h1v1h-1zM103 78h1v1h-1zM84 79h1v1h-1zM95 79h2v1h-2zM74 80h1v1h-1zM96 80h1v1h-1zM125 80h1v1h-1zM135 80h1v1h-1zM138 80h1v1h-1zM129 81h1v1h-1zM71 82h1v1h-1zM73 82h1v1h-1zM104 82h2v1h-2zM135 82h1v1h-1zM100 83h1v1h-1zM73 84h1v1h-1zM100 84h1v1h-1zM71 95h3v1h-3zM80 95h1v1h-1zM103 95h2v1h-2zM71 96h1v1h-1zM73 96h1v1h-1zM103 96h1v1h-1zM105 96h1v1h-1zM71 97h3v1h-3zM78 97h3v1h-3zM104 97h1v1h-1zM33 99h1v1h-1zM82 99h1v1h-1zM123 99h1v1h-1zM82 100h1v1h-1zM84 100h1v1h-1zM96 100h1v1h-1zM73 103h1v1h-1zM78 103h3v1h-3zM96 103h1v1h-1zM32 104h1v1h-1zM40 104h2v1h-2zM71 104h2v1h-2zM78 104h1v1h-1zM97 104h1v1h-1zM121 104h1v1h-1zM124 104h1v1h-1zM147 104h1v1h-1zM33 105h1v1h-1zM71 105h2v1h-2zM78 105h1v1h-1zM83 105h1v1h-1zM101 105h1v1h-1zM123 105h1v1h-1zM146 105h1v1h-1zM32 115h2v1h-2zM105 115h1v1h-1zM121 115h1v1h-1zM146 115h2v1h-2zM39 116h1v1h-1zM135 116h1v1h-1zM44 117h1v1h-1zM104 117h2v1h-2zM121 117h1v1h-1zM146 117h1v1h-1zM32 118h1v1h-1zM62 121h1v1h-1zM62 122h1v1h-1zM76 122h1v1h-1zM115 122h1v1h-1zM28 123h1v1h-1zM62 123h1v1h-1zM99 123h1v1h-1zM100 124h1v1h-1zM116 124h1v1h-1zM119 124h1v1h-1zM7 125h1v1h-1zM28 125h1v1h-1zM62 125h1v1h-1zM99 125h1v1h-1zM115 125h1v1h-1zM33 133h1v1h-1zM40 133h1v1h-1zM104 133h2v1h-2zM29 134h1v1h-1zM115 134h2v1h-2zM28 135h1v1h-1zM62 135h1v1h-1zM99 135h1v1h-1zM115 135h1v1h-1zM28 136h1v1h-1zM62 136h1v1h-1zM33 137h1v1h-1zM104 137h2v1h-2zM62 138h1v1h-1zM134 138h1v1h-1zM4 144h1v1h-1zM34 144h1v1h-1zM47 144h1v1h-1zM99 144h1v1h-1zM152 144h1v1h-1zM34 145h1v1h-1zM99 145h1v1h-1zM115 145h1v1h-1zM4 146h2v1h-2zM99 146h1v1h-1zM115 146h1v1h-1zM4 147h1v1h-1zM6 147h1v1h-1zM34 147h1v1h-1zM73 147h1v1h-1zM80 147h1v1h-1zM109 147h1v1h-1zM4 148h3v1h-3zM70 148h2v1h-2zM73 148h1v1h-1zM4 149h3v1h-3zM73 149h1v1h-1zM128 149h1v1h-1zM34 150h1v1h-1zM100 150h1v1h-1zM115 150h2v1h-2z"/>
<path fill="#f56b5c" d="M30 7h1v1h-1zM120 7h1v1h-1zM125 7h1v1h-1zM137 7h2v1h-2zM148 7h1v1h-1zM150 7h1v1h-1zM32 28h1v1h-1zM40 28h2v1h-2zM105 28h1v1h-1zM121 28h1v1h-1zM33 29h1v1h-1zM104 29h1v1h-1zM123 29h1v1h-1zM105 30h1v1h-1zM123 30h1v1h-1zM25 31h1v1h-1zM99 31h1v1h-1zM115 31h1v1h-1zM99 32h1v1h-1zM116 32h1v1h-1zM62 33h1v1h-1zM99 33h1v1h-1zM115 33h1v1h-1zM28 34h1v1h-1zM30 34h1v1h-1zM62 34h1v1h-1zM41 35h1v1h-1zM121 35h1v1h-1zM145 35h3v1h-3zM117 39h1v1h-1zM32 40h1v1h-1zM116 40h3v1h-3zM146 40h2v1h-2zM32 41h1v1h-1zM104 41h1v1h-1zM116 41h2v1h-2zM123 41h1v1h-1zM146 41h1v1h-1zM31 42h2v1h-2zM124 42h1v1h-1zM134 42h1v1h-1zM146 42h2v1h-2zM40 46h1v1h-1zM62 46h1v1h-1zM135 46h1v1h-1zM150 46h1v1h-1zM61 47h1v1h-1zM135 47h1v1h-1zM62 48h1v1h-1zM61 50h2v1h-2zM44 51h1v1h-1zM61 51h1v1h-1zM82 55h1v1h-1zM45 61h1v1h-1zM48 61h1v1h-1zM50 61h2v1h-2zM30 62h2v1h-2zM41 62h1v1h-1zM47 62h2v1h-2zM50 62h2v1h-2zM120 62h3v1h-3zM124 62h1v1h-1zM134 62h1v1h-1zM136 62h3v1h-3zM144 62h2v1h-2zM149 62h1v1h-1zM32 72h1v1h-1zM40 72h1v1h-1zM104 72h2v1h-2zM123 72h1v1h-1zM146 72h1v1h-1zM30 73h3v1h-3zM41 73h1v1h-1zM103 73h3v1h-3zM120 73h3v1h-3zM124 73h1v1h-1zM134 73h1v1h-1zM144 73h2v1h-2zM30 74h2v1h-2zM120 74h1v1h-1zM122 74h1v1h-1zM134 74h1v1h-1zM136 74h3v1h-3zM144 74h2v1h-2zM149 74h1v1h-1zM84 78h1v1h-1zM96 78h2v1h-2zM153 78h1v1h-1zM97 79h1v1h-1zM103 79h3v1h-3zM133 79h1v1h-1zM84 80h1v1h-1zM95 80h1v1h-1zM97 80h1v1h-1zM103 80h1v1h-1zM99 82h2v1h-2zM79 83h1v1h-1zM99 83h1v1h-1zM79 84h2v1h-2zM99 84h1v1h-1zM50 95h1v1h-1zM78 95h2v1h-2zM78 96h3v1h-3zM100 96h1v1h-1zM32 99h1v1h-1zM40 99h1v1h-1zM83 99h1v1h-1zM95 99h1v1h-1zM146 99h1v1h-1zM71 100h2v1h-2zM83 100h1v1h-1zM30 104h2v1h-2zM73 104h1v1h-1zM79 104h2v1h-2zM120 104h1v1h-1zM122 104h1v1h-1zM134 104h1v1h-1zM136 104h1v1h-1zM144 104h2v1h-2zM148 104h2v1h-2zM32 105h1v1h-1zM40 105h2v1h-2zM73 105h1v1h-1zM79 105h2v1h-2zM100 105h1v1h-1zM121 105h2v1h-2zM134 105h1v1h-1zM145 105h1v1h-1zM147 105h1v1h-1zM66 112h1v1h-1zM30 115h2v1h-2zM122 115h1v1h-1zM124 115h2v1h-2zM136 115h2v1h-2zM144 115h2v1h-2zM149 115h1v1h-1zM40 116h2v1h-2zM32 117h1v1h-1zM39 117h1v1h-1zM124 117h1v1h-1zM134 117h1v1h-1zM145 117h1v1h-1zM147 117h1v1h-1zM30 118h2v1h-2zM39 118h3v1h-3zM121 118h1v1h-1zM69 119h1v1h-1zM32 121h2v1h-2zM40 121h1v1h-1zM104 121h2v1h-2zM146 121h1v1h-1zM33 122h1v1h-1zM104 122h1v1h-1zM33 123h1v1h-1zM128 123h1v1h-1zM28 124h2v1h-2zM99 124h1v1h-1zM115 124h1v1h-1zM33 125h1v1h-1zM109 128h1v1h-1zM77 132h1v1h-1zM32 133h1v1h-1zM41 133h1v1h-1zM146 133h1v1h-1zM28 134h1v1h-1zM62 134h1v1h-1zM99 134h1v1h-1zM33 135h1v1h-1zM104 135h1v1h-1zM32 136h2v1h-2zM104 136h2v1h-2zM32 137h1v1h-1zM40 137h1v1h-1zM146 137h1v1h-1zM33 138h1v1h-1zM104 138h2v1h-2zM146 138h1v1h-1zM28 144h2v1h-2zM62 144h1v1h-1zM115 144h1v1h-1zM150 144h1v1h-1zM29 145h1v1h-1zM62 145h1v1h-1zM28 146h2v1h-2zM62 146h1v1h-1zM105 146h1v1h-1zM123 146h1v1h-1zM99 147h2v1h-2zM116 147h1v1h-1zM34 148h1v1h-1zM100 148h1v1h-1zM116 148h1v1h-1zM34 149h1v1h-1zM100 149h1v1h-1zM115 149h2v1h-2zM7 150h1v1h-1zM29 150h1v1h-1zM62 150h1v1h-1zM99 150h1v1h-1zM144 150h1v1h-1z"/>
<path fill="#f8765c" d="M135 7h1v1h-1zM120 28h1v1h-1zM122 28h1v1h-1zM124 28h2v1h-2zM134 28h1v1h-1zM136 28h1v1h-1zM138 28h1v1h-1zM32 29h1v1h-1zM40 29h1v1h-1zM105 29h1v1h-1zM40 30h1v1h-1zM120 30h2v1h-2zM134 30h1v1h-1zM7 31h1v1h-1zM62 31h1v1h-1zM104 31h1v1h-1zM123 31h1v1h-1zM7 32h1v1h-1zM62 32h1v1h-1zM115 32h1v1h-1zM7 33h1v1h-1zM29 34h1v1h-1zM104 34h2v1h-2zM123 34h1v1h-1zM39 35h1v1h-1zM120 35h1v1h-1zM122 35h1v1h-1zM124 35h1v1h-1zM134 35h1v1h-1zM136 35h1v1h-1zM138 35h1v1h-1zM144 35h1v1h-1zM149 35h2v1h-2zM115 39h2v1h-2zM118 39h1v1h-1zM31 40h1v1h-1zM33 40h1v1h-1zM115 40h1v1h-1zM121 40h2v1h-2zM124 40h1v1h-1zM134 40h1v1h-1zM144 40h2v1h-2zM149 40h1v1h-1zM115 41h1v1h-1zM118 41h1v1h-1zM120 41h2v1h-2zM124 41h1v1h-1zM134 41h1v1h-1zM147 41h1v1h-1zM149 41h1v1h-1zM30 42h1v1h-1zM120 42h3v1h-3zM125 42h1v1h-1zM136 42h2v1h-2zM144 42h2v1h-2zM148 42h2v1h-2zM62 47h1v1h-1zM45 52h1v1h-1zM125 62h1v1h-1zM135 62h1v1h-1zM148 62h1v1h-1zM150 62h1v1h-1zM67 63h1v1h-1zM78 71h1v1h-1zM99 71h2v1h-2zM30 72h2v1h-2zM41 72h1v1h-1zM80 72h1v1h-1zM118 72h1v1h-1zM120 72h3v1h-3zM124 72h1v1h-1zM134 72h1v1h-1zM136 72h1v1h-1zM138 72h1v1h-1zM145 72h1v1h-1zM147 72h1v1h-1zM78 73h2v1h-2zM125 73h1v1h-1zM136 73h3v1h-3zM147 73h4v1h-4zM83 74h1v1h-1zM125 74h1v1h-1zM135 74h1v1h-1zM148 74h1v1h-1zM150 74h1v1h-1zM73 78h1v1h-1zM82 78h1v1h-1zM72 79h2v1h-2zM83 79h1v1h-1zM72 80h1v1h-1zM104 80h2v1h-2zM62 81h1v1h-1zM78 82h1v1h-1zM78 84h1v1h-1zM108 89h1v1h-1zM135 94h1v1h-1zM30 99h2v1h-2zM41 99h1v1h-1zM71 99h2v1h-2zM120 99h3v1h-3zM125 99h1v1h-1zM134 99h1v1h-1zM144 99h2v1h-2zM149 99h1v1h-1zM73 100h1v1h-1zM147 103h1v1h-1zM137 104h2v1h-2zM150 104h1v1h-1zM30 105h2v1h-2zM120 105h1v1h-1zM124 105h2v1h-2zM136 105h3v1h-3zM144 105h1v1h-1zM148 105h3v1h-3zM124 113h1v1h-1zM39 115h3v1h-3zM134 115h1v1h-1zM138 115h1v1h-1zM148 115h1v1h-1zM150 115h1v1h-1zM30 117h2v1h-2zM40 117h2v1h-2zM136 117h3v1h-3zM144 117h1v1h-1zM148 117h3v1h-3zM123 118h1v1h-1zM31 121h1v1h-1zM41 121h1v1h-1zM144 121h2v1h-2zM147 121h1v1h-1zM149 121h1v1h-1zM32 122h1v1h-1zM40 122h2v1h-2zM105 122h1v1h-1zM146 122h1v1h-1zM32 123h1v1h-1zM104 123h2v1h-2zM146 123h1v1h-1zM62 124h1v1h-1zM32 125h1v1h-1zM40 125h1v1h-1zM104 125h2v1h-2zM146 125h1v1h-1zM30 133h2v1h-2zM138 133h1v1h-1zM144 133h2v1h-2zM147 133h1v1h-1zM149 133h1v1h-1zM32 134h2v1h-2zM104 134h2v1h-2zM146 134h1v1h-1zM32 135h1v1h-1zM40 135h1v1h-1zM105 135h1v1h-1zM146 135h1v1h-1zM40 136h1v1h-1zM146 136h2v1h-2zM30 137h2v1h-2zM41 137h1v1h-1zM144 137h2v1h-2zM147 137h1v1h-1zM32 138h1v1h-1zM40 138h2v1h-2zM147 138h1v1h-1zM7 144h1v1h-1zM104 144h2v1h-2zM123 144h1v1h-1zM7 145h1v1h-1zM28 145h1v1h-1zM104 145h2v1h-2zM7 146h1v1h-1zM104 146h1v1h-1zM7 147h1v1h-1zM29 147h1v1h-1zM62 147h1v1h-1zM110 147h1v1h-1zM115 147h1v1h-1zM29 148h1v1h-1zM99 148h1v1h-1zM115 148h1v1h-1zM28 149h2v1h-2zM62 149h1v1h-1zM99 149h1v1h-1zM28 150h1v1h-1zM104 150h1v1h-1zM151 158h1v1h-1z"/>
<path fill="#fa815f" d="M31 28h1v1h-1zM137 28h1v1h-1zM145 28h3v1h-3zM149 28h1v1h-1zM41 29h1v1h-1zM120 29h2v1h-2zM124 29h1v1h-1zM134 29h1v1h-1zM136 29h1v1h-1zM41 30h1v1h-1zM122 30h1v1h-1zM124 30h1v1h-1zM136 30h3v1h-3zM146 30h1v1h-1zM28 31h1v1h-1zM105 31h1v1h-1zM104 32h1v1h-1zM123 32h1v1h-1zM28 33h1v1h-1zM104 33h2v1h-2zM121 34h1v1h-1zM124 34h1v1h-1zM125 35h1v1h-1zM137 35h1v1h-1zM148 35h1v1h-1zM30 40h1v1h-1zM125 40h1v1h-1zM135 40h4v1h-4zM148 40h1v1h-1zM150 40h1v1h-1zM30 41h2v1h-2zM122 41h1v1h-1zM136 41h3v1h-3zM144 41h1v1h-1zM148 41h1v1h-1zM135 42h1v1h-1zM138 42h1v1h-1zM57 68h1v1h-1zM78 72h2v1h-2zM99 72h2v1h-2zM125 72h1v1h-1zM137 72h1v1h-1zM144 72h1v1h-1zM148 72h3v1h-3zM99 73h2v1h-2zM135 73h1v1h-1zM71 78h1v1h-1zM147 83h1v1h-1zM149 92h1v1h-1zM99 95h1v1h-1zM73 99h1v1h-1zM124 99h1v1h-1zM136 99h3v1h-3zM147 99h2v1h-2zM150 99h1v1h-1zM104 100h1v1h-1zM99 103h1v1h-1zM135 104h1v1h-1zM99 105h1v1h-1zM135 105h1v1h-1zM135 115h1v1h-1zM120 116h1v1h-1zM125 117h1v1h-1zM135 117h1v1h-1zM30 121h1v1h-1zM148 121h1v1h-1zM150 121h1v1h-1zM144 122h2v1h-2zM147 122h1v1h-1zM149 122h1v1h-1zM40 123h2v1h-2zM147 123h1v1h-1zM33 124h1v1h-1zM104 124h2v1h-2zM41 125h1v1h-1zM145 125h1v1h-1zM147 125h1v1h-1zM123 133h1v1h-1zM136 133h1v1h-1zM148 133h1v1h-1zM150 133h1v1h-1zM40 134h1v1h-1zM145 134h1v1h-1zM31 135h1v1h-1zM41 135h1v1h-1zM123 135h1v1h-1zM145 135h1v1h-1zM147 135h1v1h-1zM31 136h1v1h-1zM41 136h1v1h-1zM123 136h1v1h-1zM134 136h1v1h-1zM144 136h2v1h-2zM149 136h1v1h-1zM123 137h1v1h-1zM134 137h1v1h-1zM148 137h3v1h-3zM31 138h1v1h-1zM144 138h2v1h-2zM149 138h1v1h-1zM33 144h1v1h-1zM40 144h1v1h-1zM33 145h1v1h-1zM40 145h1v1h-1zM123 145h1v1h-1zM32 146h2v1h-2zM40 146h2v1h-2zM120 146h2v1h-2zM124 146h1v1h-1zM134 146h1v1h-1zM28 147h1v1h-1zM104 147h1v1h-1zM123 147h1v1h-1zM7 148h1v1h-1zM28 148h1v1h-1zM62 148h1v1h-1zM7 149h1v1h-1zM104 149h1v1h-1zM105 150h1v1h-1zM123 150h1v1h-1zM47 155h1v1h-1z"/>
<path fill="#fc8e64" d="M135 28h1v1h-1zM144 28h1v1h-1zM150 28h1v1h-1zM122 29h1v1h-1zM125 29h1v1h-1zM137 29h2v1h-2zM145 29h3v1h-3zM149 29h1v1h-1zM125 30h1v1h-1zM135 30h1v1h-1zM144 30h2v1h-2zM147 30h1v1h-1zM149 30h1v1h-1zM40 31h2v1h-2zM121 31h1v1h-1zM124 31h1v1h-1zM134 31h1v1h-1zM146 31h1v1h-1zM40 32h1v1h-1zM105 32h1v1h-1zM123 33h1v1h-1zM40 34h1v1h-1zM120 34h1v1h-1zM122 34h1v1h-1zM134 34h1v1h-1zM136 34h3v1h-3zM145 34h2v1h-2zM135 35h1v1h-1zM45 39h1v1h-1zM125 41h1v1h-1zM135 41h1v1h-1zM150 41h1v1h-1zM90 42h1v1h-1zM59 50h1v1h-1zM82 63h1v1h-1zM79 71h2v1h-2zM37 72h1v1h-1zM135 72h1v1h-1zM80 73h1v1h-1zM72 78h1v1h-1zM71 80h1v1h-1zM80 99h2v1h-2zM103 99h1v1h-1zM105 99h1v1h-1zM135 99h1v1h-1zM100 104h1v1h-1zM157 112h1v1h-1zM125 121h1v1h-1zM30 122h2v1h-2zM150 122h1v1h-1zM30 123h2v1h-2zM120 123h1v1h-1zM144 123h2v1h-2zM148 123h1v1h-1zM32 124h1v1h-1zM40 124h1v1h-1zM120 124h1v1h-1zM146 124h1v1h-1zM30 125h2v1h-2zM120 125h2v1h-2zM144 125h1v1h-1zM149 125h2v1h-2zM121 133h1v1h-1zM124 133h1v1h-1zM41 134h1v1h-1zM136 134h1v1h-1zM138 134h1v1h-1zM147 134h1v1h-1zM149 134h1v1h-1zM30 135h1v1h-1zM144 135h1v1h-1zM148 135h3v1h-3zM30 136h1v1h-1zM148 136h1v1h-1zM150 136h1v1h-1zM121 137h2v1h-2zM124 137h1v1h-1zM30 138h1v1h-1zM123 138h1v1h-1zM148 138h1v1h-1zM150 138h1v1h-1zM32 144h1v1h-1zM41 144h1v1h-1zM120 144h2v1h-2zM124 144h1v1h-1zM134 144h1v1h-1zM138 144h1v1h-1zM32 145h1v1h-1zM41 145h1v1h-1zM120 145h1v1h-1zM122 145h1v1h-1zM124 145h1v1h-1zM134 145h1v1h-1zM122 146h1v1h-1zM136 146h2v1h-2zM33 147h1v1h-1zM40 147h1v1h-1zM105 147h1v1h-1zM33 148h1v1h-1zM104 148h2v1h-2zM123 148h1v1h-1zM33 149h1v1h-1zM105 149h1v1h-1zM123 149h1v1h-1zM32 150h2v1h-2zM40 150h1v1h-1zM121 150h1v1h-1zM50 151h1v1h-1z"/>
<path fill="#fd9a6a" d="M148 28h1v1h-1zM135 29h1v1h-1zM144 29h1v1h-1zM148 29h1v1h-1zM148 30h1v1h-1zM150 30h1v1h-1zM120 31h1v1h-1zM122 31h1v1h-1zM125 31h1v1h-1zM136 31h3v1h-3zM147 31h1v1h-1zM41 32h1v1h-1zM121 32h2v1h-2zM124 32h1v1h-1zM134 32h1v1h-1zM41 33h1v1h-1zM120 33h2v1h-2zM124 33h1v1h-1zM134 33h1v1h-1zM136 33h3v1h-3zM146 33h1v1h-1zM125 34h1v1h-1zM135 34h1v1h-1zM144 34h1v1h-1zM147 34h1v1h-1zM149 34h1v1h-1zM30 35h1v1h-1zM41 47h1v1h-1zM138 48h1v1h-1zM132 56h1v1h-1zM83 57h1v1h-1zM82 65h1v1h-1zM94 73h1v1h-1zM99 78h2v1h-2zM71 79h1v1h-1zM99 79h2v1h-2zM49 80h1v1h-1zM73 80h1v1h-1zM99 80h2v1h-2zM99 81h2v1h-2zM79 89h1v1h-1zM78 99h2v1h-2zM104 99h1v1h-1zM78 100h4v1h-4zM99 104h1v1h-1zM134 121h1v1h-1zM136 121h2v1h-2zM134 122h1v1h-1zM136 122h1v1h-1zM148 122h1v1h-1zM134 123h1v1h-1zM150 123h1v1h-1zM30 124h1v1h-1zM41 124h1v1h-1zM144 124h2v1h-2zM147 124h1v1h-1zM150 124h1v1h-1zM134 125h1v1h-1zM137 125h1v1h-1zM148 125h1v1h-1zM120 133h1v1h-1zM122 133h1v1h-1zM125 133h1v1h-1zM30 134h2v1h-2zM123 134h2v1h-2zM144 134h1v1h-1zM148 134h1v1h-1zM150 134h1v1h-1zM121 135h1v1h-1zM124 135h1v1h-1zM121 136h1v1h-1zM124 136h1v1h-1zM120 137h1v1h-1zM125 137h1v1h-1zM120 138h3v1h-3zM124 138h1v1h-1zM122 144h1v1h-1zM125 144h1v1h-1zM136 144h2v1h-2zM149 144h1v1h-1zM30 145h2v1h-2zM125 145h1v1h-1zM136 145h3v1h-3zM30 146h2v1h-2zM125 146h1v1h-1zM138 146h1v1h-1zM32 147h1v1h-1zM41 147h1v1h-1zM121 147h1v1h-1zM124 147h1v1h-1zM136 147h1v1h-1zM40 148h1v1h-1zM32 149h1v1h-1zM40 149h2v1h-2zM120 149h1v1h-1zM124 149h1v1h-1zM134 149h1v1h-1zM41 150h1v1h-1zM120 150h1v1h-1zM122 150h1v1h-1zM124 150h2v1h-2zM134 150h1v1h-1zM136 150h3v1h-3zM145 150h1v1h-1z"/>
<path fill="#fea772" d="M150 29h1v1h-1zM135 31h1v1h-1zM144 31h2v1h-2zM149 31h1v1h-1zM29 32h1v1h-1zM120 32h1v1h-1zM125 32h1v1h-1zM136 32h3v1h-3zM145 32h3v1h-3zM122 33h1v1h-1zM125 33h1v1h-1zM144 33h2v1h-2zM149 33h2v1h-2zM41 34h1v1h-1zM148 34h1v1h-1zM150 34h1v1h-1zM135 121h1v1h-1zM138 121h1v1h-1zM137 122h2v1h-2zM136 123h3v1h-3zM31 124h1v1h-1zM148 124h2v1h-2zM128 125h1v1h-1zM135 125h2v1h-2zM137 133h1v1h-1zM120 134h3v1h-3zM137 134h1v1h-1zM120 135h1v1h-1zM122 135h1v1h-1zM125 135h1v1h-1zM120 136h1v1h-1zM122 136h1v1h-1zM125 136h1v1h-1zM125 138h1v1h-1zM152 139h1v1h-1zM30 144h2v1h-2zM135 144h1v1h-1zM135 145h1v1h-1zM150 145h1v1h-1zM135 146h1v1h-1zM30 147h2v1h-2zM120 147h1v1h-1zM122 147h1v1h-1zM134 147h1v1h-1zM137 147h2v1h-2zM31 148h2v1h-2zM41 148h1v1h-1zM120 148h3v1h-3zM124 148h1v1h-1zM134 148h1v1h-1zM136 148h2v1h-2zM30 149h2v1h-2zM121 149h2v1h-2zM136 149h3v1h-3zM30 150h2v1h-2z"/>
<path fill="#feb27a" d="M148 31h1v1h-1zM150 31h1v1h-1zM135 32h1v1h-1zM144 32h1v1h-1zM148 32h3v1h-3zM40 33h1v1h-1zM135 33h1v1h-1zM147 33h2v1h-2zM135 122h1v1h-1zM135 123h1v1h-1zM134 124h1v1h-1zM136 124h1v1h-1zM138 124h1v1h-1zM138 125h1v1h-1zM125 134h1v1h-1zM125 147h1v1h-1zM135 147h1v1h-1zM30 148h1v1h-1zM125 148h2v1h-2zM135 148h1v1h-1zM138 148h1v1h-1zM125 149h1v1h-1zM135 149h1v1h-1zM144 149h1v1h-1zM135 150h1v1h-1z"/>
<path fill="#febd82" d="M120 40h1v1h-1zM135 124h1v1h-1zM137 124h1v1h-1zM138 135h1v1h-1zM135 138h1v1h-1z"/>
<path fill="#feca8d" d="M104 62h1v1h-1z"/>
<path fill="#fed597" d="M123 115h1v1h-1z"/>
<path fill="#fcecae" d="M120 115h1v1h-1z"/>
<path fill="#fcf7b9" d="M145 41h1v1h-1zM150 42h1v1h-1zM125 104h1v1h-1zM121 145h1v1h-1z"/>
<path fill="#fff" d="M0 0h4v1h-4zM0 1h5v1h-5zM0 2h6v1h-6zM0 3h7v1h-7zM1 4h7v1h-7zM2 5h7v1h-7zM3 6h7v1h-7zM4 7h7v1h-7zM5 8h8v1h-8zM6 9h8v1h-8zM7 10h8v1h-8zM8 11h8v1h-8zM8 12h9v1h-9zM9 13h9v1h-9zM10 14h9v1h-9zM11 15h9v1h-9zM12 16h9v1h-9zM13 17h9v1h-9zM14 18h9v1h-9zM15 19h9v1h-9zM16 20h9v1h-9zM17 21h9v1h-9zM18 22h9v1h-9zM19 23h9v1h-9zM20 24h8v1h-8zM21 25h8v1h-8zM22 26h8v1h-8zM23 27h7v1h-7zM25 28h6v1h-6zM26 29h6v1h-6zM28 30h6v1h-6zM29 31h7v1h-7zM30 32h7v1h-7zM30 33h8v1h-8zM31 34h7v1h-7zM31 35h8v1h-8zM32 36h8v1h-8zM33 37h7v1h-7zM35 38h7v1h-7zM36 39h6v1h-6zM38 40h6v1h-6zM38 41h7v1h-7zM40 42h7v1h-7zM40 43h8v1h-8zM41 44h8v1h-8zM42 45h8v1h-8zM42 46h9v1h-9zM43 47h9v1h-9zM44 48h9v1h-9zM45 49h8v1h-8zM46 50h8v1h-8zM47 51h8v1h-8zM48 52h8v1h-8zM50 53h7v1h-7zM51 54h7v1h-7zM52 55h7v1h-7zM53 56h7v1h-7zM54 57h8v1h-8zM55 58h8v1h-8zM56 59h7v1h-7zM57 60h7v1h-7zM57 61h8v1h-8zM58 62h7v1h-7zM60 63h7v1h-7zM61 64h7v1h-7zM63 65h6v1h-6zM63 66h6v1h-6zM64 67h6v1h-6zM65 68h7v1h-7zM67 69h7v1h-7zM68 70h7v1h-7zM68 71h8v1h-8zM69 72h8v1h-8zM69 73h9v1h-9zM70 74h9v1h-9zM71 75h9v1h-9zM72 76h8v1h-8zM73 77h8v1h-8zM74 78h8v1h-8zM75 79h8v1h-8zM77 80h7v1h-7zM78 81h7v1h-7zM79 82h7v1h-7zM80 83h7v1h-7zM81 84h7v1h-7zM82 85h6v1h-6zM83 86h6v1h-6zM84 87h7v1h-7zM86 88h7v1h-7zM87 89h7v1h-7zM87 90h8v1h-8zM88 91h8v1h-8zM88 92h9v1h-9zM89 93h9v1h-9zM90 94h9v1h-9zM91 95h8v1h-8zM92 96h8v1h-8zM93 97h8v1h-8zM94 98h7v1h-7zM96 99h7v1h-7zM97 100h7v1h-7zM99 101h6v1h-6zM99 102h7v1h-7zM100 103h6v1h-6zM101 104h7v1h-7zM102 105h7v1h-7zM104 106h7v1h-7zM104 107h7v1h-7zM105 108h7v1h-7zM106 109h7v1h-7zM106 110h8v1h-8zM108 111h8v1h-8zM109 112h8v1h-8zM110 113h8v1h-8zM111 114h8v1h-8zM111 115h9v1h-9zM112 116h8v1h-8zM113 117h8v1h-8zM114 118h7v1h-7zM115 119h7v1h-7zM117 120h6v1h-6zM119 121h6v1h-6zM120 122h6v1h-6zM121 123h6v1h-6zM121 124h7v1h-7zM122 125h6v1h-6zM123 126h6v1h-6zM124 127h6v1h-6zM126 128h6v1h-6zM127 129h6v1h-6zM128 130h6v1h-6zM128 131h7v1h-7zM129 132h6v1h-6zM130 133h6v1h-6zM131 134h5v1h-5zM133 135h5v1h-5zM135 136h5v1h-5zM135 137h5v1h-5zM136 138h6v1h-6zM136 139h6v1h-6zM138 140h6v1h-6zM138 141h6v1h-6zM140 142h6v1h-6zM140 143h7v1h-7zM142 144h7v1h-7zM142 145h8v1h-8zM143 146h8v1h-8zM144 147h8v1h-8zM144 148h9v1h-9zM145 149h9v1h-9zM146 150h9v1h-9zM147 151h9v1h-9zM148 152h8v1h-8zM149 153h8v1h-8zM150 154h8v1h-8zM151 155h8v1h-8zM153 156h6v1h-6zM154 157h5v1h-5zM155 158h4v1h-4z"/>
</svg>
<svg style="position:absolute;left:0;top:0" width="1004" height="1100" viewBox="0 0 1004 1100" fill="none" stroke="#fdf7fc" stroke-width="3.5"><rect x="914.8" y="269.8" width="44.5" height="33.1"/><rect x="755.0" y="330.8" width="27.2" height="16.0"/><rect x="455.8" y="352.8" width="44.3" height="49.5"/><rect x="361.8" y="446.2" width="50.2" height="44.3"/><rect x="627.5" y="502.4" width="77.2" height="87.0"/><rect x="511.8" y="618.4" width="87.7" height="75.7"/><rect x="339.8" y="745.1" width="16.9" height="28.1"/><rect x="865.5" y="778.4" width="27.8" height="33.5"/><rect x="787.1" y="855.5" width="34.1" height="28.5"/><rect x="278.4" y="905.8" width="34.1" height="44.2"/></svg>
<div style="position:absolute;left:122.0px;top:990px;width:155.2px;height:68.5px;background:#000"></div>
<div style="position:absolute;left:277.2px;top:990px;width:38.8px;height:68.5px;background:#a80000"></div>
<div style="position:absolute;left:316.0px;top:990px;width:22.0px;height:68.5px;background:#000"></div>
<div style="position:absolute;left:338.0px;top:990px;width:22.0px;height:68.5px;background:#800080"></div>
<div style="position:absolute;left:360.0px;top:990px;width:56.0px;height:68.5px;background:#ff8208"></div>
<div style="position:absolute;left:416.0px;top:990px;width:37.7px;height:68.5px;background:#000"></div>
<div style="position:absolute;left:453.7px;top:990px;width:50.6px;height:68.5px;background:#ff8208"></div>
<div style="position:absolute;left:504.3px;top:990px;width:4.7px;height:68.5px;background:#000"></div>
<div style="position:absolute;left:509.0px;top:990px;width:94.0px;height:68.5px;background:#008000"></div>
<div style="position:absolute;left:603.0px;top:990px;width:22.0px;height:68.5px;background:#000"></div>
<div style="position:absolute;left:625.0px;top:990px;width:83.2px;height:68.5px;background:#008000"></div>
<div style="position:absolute;left:708.2px;top:990px;width:44.0px;height:68.5px;background:#000"></div>
<div style="position:absolute;left:752.2px;top:990px;width:33.0px;height:68.5px;background:#800080"></div>
<div style="position:absolute;left:785.2px;top:990px;width:39.6px;height:68.5px;background:#0a6cff"></div>
<div style="position:absolute;left:824.8px;top:990px;width:37.9px;height:68.5px;background:#000"></div>
<div style="position:absolute;left:862.7px;top:990px;width:33.0px;height:68.5px;background:#0a6cff"></div>
<div style="position:absolute;left:895.7px;top:990px;width:16.3px;height:68.5px;background:#000"></div>
<div style="position:absolute;left:912.0px;top:990px;width:50.6px;height:68.5px;background:#a80000"></div>
<div style="position:absolute;left:962.6px;top:990px;width:38.4px;height:68.5px;background:#000"></div>
<div style="position:absolute;left:139.8px;top:990px;width:0.7px;height:68.5px;background:#555"></div>
<div style="position:absolute;left:194.0px;top:990px;width:0.7px;height:68.5px;background:#555"></div>
<div style="position:absolute;left:255.6px;top:990px;width:0.7px;height:68.5px;background:#555"></div>
<div style="position:absolute;left:377.5px;top:990px;width:0.7px;height:68.5px;background:#ffb060"></div>
<div style="position:absolute;left:430.8px;top:990px;width:0.7px;height:68.5px;background:#555"></div>
<div style="position:absolute;left:491.0px;top:990px;width:0.7px;height:68.5px;background:#ffb060"></div>
<div style="position:absolute;left:548.0px;top:990px;width:0.7px;height:68.5px;background:#4a4"></div>
<div style="position:absolute;left:614.0px;top:990px;width:0.7px;height:68.5px;background:#555"></div>
<div style="position:absolute;left:669.0px;top:990px;width:0.7px;height:68.5px;background:#4a4"></div>
<div style="position:absolute;left:730.0px;top:990px;width:0.7px;height:68.5px;background:#555"></div>
<div style="position:absolute;left:840.0px;top:990px;width:0.7px;height:68.5px;background:#555"></div>
<div style="position:absolute;left:901.0px;top:990px;width:0.7px;height:68.5px;background:#555"></div>
<div style="position:absolute;left:956.0px;top:990px;width:0.7px;height:68.5px;background:#d44"></div>
<div class="tk" style="left:120.3px;top:112px;width:3.6px;height:878.5px;background:#0d0d0d"></div>
<div class="tk" style="left:112.6px;top:135.2px;width:9px;height:3.2px"></div>
<div class="yl" style="top:124.0px">195</div>
<div class="tk" style="left:112.6px;top:240.2px;width:9px;height:3.2px"></div>
<div class="yl" style="top:229.0px">215</div>
<div class="tk" style="left:112.6px;top:466.7px;width:9px;height:3.2px"></div>
<div class="yl" style="top:455.5px">265</div>
<div class="tk" style="left:112.6px;top:687.7px;width:9px;height:3.2px"></div>
<div class="yl" style="top:676.5px">315</div>
<div class="tk" style="left:112.6px;top:759.7px;width:9px;height:3.2px"></div>
<div class="yl" style="top:748.5px">330</div>
<div class="tk" style="left:112.6px;top:885.7px;width:9px;height:3.2px"></div>
<div class="yl" style="top:874.5px">365</div>
<div class="tk" style="left:112.6px;top:979.7px;width:9px;height:3.2px"></div>
<div class="yl" style="top:968.5px">385</div>
<div class="xl" style="left:133.9px;top:1137px">195A</div>
<div class="xl" style="left:239.2px;top:1137px">215C</div>
<div class="xl" style="left:465.1px;top:1137px">265A</div>
<div class="xl" style="left:686.5px;top:1137px">315T</div>
<div class="xl" style="left:758.1px;top:1137px">330T</div>
<div class="xl" style="left:884.3px;top:1137px">365C</div>
<div class="xl" style="left:978.5px;top:1137px">385T</div>
<div class="t" style="left:393.7px;top:1142.6px;font-size:37.3px">Nucleotide positions</div>
<div class="t" style="left:7.4px;top:717.5px;font-size:37.3px;transform-origin:0 0;transform:rotate(-90deg)">Nucleotide positions</div>
<svg style="position:absolute;left:0;top:0" width="1004" height="1904" viewBox="0 0 1004 1904" font-family="'DejaVu Sans','Liberation Sans',sans-serif" text-anchor="middle">
<path d="M82.5 1479.4L71.7 1465.8M71.7 1465.8L61.8 1449.9M61.8 1449.9L57.0 1434.3M57.0 1434.3L53.0 1417.2M53.0 1417.2L52.2 1400.5M52.2 1400.5L54.6 1383.3M54.6 1383.3L56.6 1366.6M56.6 1366.6L62.5 1349.9M62.5 1349.9L71.7 1335.5M71.7 1335.5L81.7 1322.0M81.7 1322.0L93.2 1309.6M93.2 1309.6L107.2 1299.3M107.2 1299.3L122.7 1290.9M122.7 1290.9L138.6 1284.5M138.6 1284.5L155.4 1281.0M155.4 1281.0L172.5 1279.8M172.5 1279.8L189.6 1281.0M189.6 1281.0L206.0 1284.5M206.0 1284.5L221.5 1290.9M221.5 1290.9L237.1 1299.3M237.1 1299.3L251.0 1310.4M251.0 1310.4L263.7 1322.8M263.7 1322.8L274.1 1336.3M274.1 1336.3L282.1 1351.5M282.1 1351.5L287.6 1368.2M287.6 1368.2L291.2 1384.9M291.2 1384.9L292.0 1402.1M292.0 1402.1L290.8 1418.8M290.8 1418.8L286.5 1435.5M286.5 1435.5L279.8 1451.0M279.8 1451.0L296.1 1461.8M296.1 1461.8L312.9 1472.9M312.9 1472.9L329.2 1483.7M329.2 1483.7L345.5 1494.4M345.5 1494.4L362.3 1505.2M362.3 1505.2L378.6 1516.3M378.6 1516.3L394.9 1527.1M394.9 1527.1L411.7 1537.8M411.7 1537.8L428.0 1549.0M428.0 1549.0L443.5 1539.4M443.5 1539.4L460.3 1537.5M460.3 1537.5L477.0 1539.8M477.0 1539.8L492.5 1546.6M492.5 1546.6L505.3 1559.0M505.3 1559.0L513.6 1573.8M513.6 1573.8L533.1 1573.8M533.1 1573.8L553.1 1573.8M553.1 1573.8L572.6 1573.8M572.6 1573.8L592.1 1573.8M592.1 1573.8L612.0 1573.8M612.0 1573.8L623.2 1556.3M623.2 1556.3L613.6 1538.8M613.6 1538.8L603.7 1521.2M603.7 1521.2L594.1 1504.1M594.1 1504.1L584.1 1487.4M584.1 1487.4L567.4 1483.4M567.4 1483.4L556.3 1470.2M556.3 1470.2L549.9 1454.7M549.9 1454.7L533.1 1444.7M533.1 1444.7L516.8 1434.8M516.8 1434.8L499.7 1425.2M499.7 1425.2L482.9 1428.4M482.9 1428.4L467.0 1423.6M467.0 1423.6L455.9 1409.7M455.9 1409.7L453.9 1391.8M453.9 1391.8L463.8 1377.0M463.8 1377.0L479.8 1369.8M479.8 1369.8L496.5 1371.0M496.5 1371.0L510.8 1381.0M510.8 1381.0L515.6 1397.7M515.6 1397.7L532.0 1407.7M532.0 1407.7L548.7 1417.3M548.7 1417.3L565.8 1426.8M565.8 1426.8L582.5 1422.8M582.5 1422.8L599.3 1427.2M599.3 1427.2L612.0 1438.8M612.0 1438.8L615.2 1455.9M615.2 1455.9L611.2 1471.4M611.2 1471.4L621.2 1489.0M621.2 1489.0L631.2 1505.7M631.2 1505.7L640.7 1522.8M640.7 1522.8L650.3 1540.0M650.3 1540.0L667.8 1540.0M667.8 1540.0L682.9 1545.1M682.9 1545.1L697.7 1532.0M697.7 1532.0L712.0 1517.3M712.0 1517.3L726.0 1502.5M726.0 1502.5L739.3 1489.6M739.3 1489.6L740.5 1471.4M740.5 1471.4L751.2 1458.2M751.2 1458.2L767.3 1452.8M767.3 1452.8L784.1 1456.7M784.1 1456.7L801.1 1447.5M801.1 1447.5L818.1 1437.9M818.1 1437.9L835.5 1428.0M835.5 1428.0L846.8 1415.5M846.8 1415.5L863.9 1412.5M863.9 1412.5L881.2 1403.5M881.2 1403.5L898.2 1394.0M898.2 1394.0L908.1 1378.7M908.1 1378.7L925.1 1375.2M925.1 1375.2L940.1 1360.8M940.1 1360.8L952.9 1346.2M952.9 1346.2L962.8 1332.4M962.8 1332.4L978.9 1330.3M978.9 1330.3L991.7 1342.9M991.7 1342.9L990.0 1359.6M990.0 1359.6L976.5 1369.2M976.5 1369.2L961.6 1383.5M961.6 1383.5L947.5 1396.1M947.5 1396.1L943.9 1412.5M943.9 1412.5L930.2 1423.6M930.2 1423.6L913.8 1422.1M913.8 1422.1L896.7 1431.9M896.7 1431.9L879.7 1441.5M879.7 1441.5L868.6 1454.3M868.6 1454.3L851.0 1456.4M851.0 1456.4L834.0 1466.3M834.0 1466.3L816.6 1475.9M816.6 1475.9L799.6 1484.8M799.6 1484.8L793.6 1500.7M793.6 1500.7L779.3 1511.1M779.3 1511.1L762.3 1511.7M762.3 1511.7L748.2 1526.1M748.2 1526.1L734.5 1539.5M734.5 1539.5L720.4 1553.5M720.4 1553.5L707.0 1567.9M707.0 1567.9L712.0 1583.0M712.0 1583.0L712.0 1600.1M712.0 1600.1L706.1 1616.1M706.1 1616.1L694.9 1628.0M694.9 1628.0L681.0 1636.8M681.0 1636.8L663.8 1641.6M663.8 1641.6L647.1 1640.8M647.1 1640.8L632.0 1633.6M632.0 1633.6L619.2 1620.8M619.2 1620.8L612.0 1605.7M612.0 1605.7L592.1 1605.7M592.1 1605.7L572.6 1605.7M572.6 1605.7L553.1 1605.7M553.1 1605.7L533.1 1605.7M533.1 1605.7L513.6 1605.7M513.6 1605.7L507.0 1621.0M507.0 1621.0L495.6 1633.0M495.6 1633.0L503.1 1651.2M503.1 1651.2L510.0 1669.7M510.0 1669.7L517.1 1688.3M517.1 1688.3L524.0 1706.5M524.0 1706.5L531.5 1725.0M531.5 1725.0L538.3 1742.9M538.3 1742.9L545.5 1761.5M545.5 1761.5L553.0 1779.7M553.0 1779.7L559.9 1798.2M559.9 1798.2L575.4 1803.6M575.4 1803.6L587.6 1816.2M587.6 1816.2L592.7 1832.9M592.7 1832.9L588.2 1849.6M588.2 1849.6L576.9 1861.6M576.9 1861.6L560.8 1868.4M560.8 1868.4L544.0 1866.9M544.0 1866.9L529.4 1857.4M529.4 1857.4L521.0 1842.1M521.0 1842.1L521.0 1824.5M521.0 1824.5L530.0 1809.6M530.0 1809.6L523.1 1791.4M523.1 1791.4L515.9 1772.8M515.9 1772.8L508.5 1754.3M508.5 1754.3L501.6 1736.1M501.6 1736.1L494.4 1717.8M494.4 1717.8L487.3 1699.6M487.3 1699.6L480.1 1681.1M480.1 1681.1L472.6 1662.9M472.6 1662.9L465.7 1644.3M465.7 1644.3L448.7 1642.2M448.7 1642.2L434.4 1635.9M434.4 1635.9L422.4 1623.9M422.4 1623.9L413.3 1609.2M413.3 1609.2L408.1 1592.8M408.1 1592.8L410.5 1575.3M410.5 1575.3L394.1 1564.5M394.1 1564.5L377.8 1554.2M377.8 1554.2L361.5 1543.0M361.5 1543.0L344.7 1532.3M344.7 1532.3L328.4 1521.5M328.4 1521.5L312.1 1510.4M312.1 1510.4L295.7 1499.6M295.7 1499.6L279.0 1488.4M279.0 1488.4L262.7 1477.7M262.7 1477.7L249.8 1490.9M249.8 1490.9L236.3 1501.3M236.3 1501.3L221.5 1509.2M221.5 1509.2L205.6 1514.4M205.6 1514.4L188.8 1518.0M188.8 1518.0L171.7 1519.2M171.7 1519.2L154.6 1518.0M154.6 1518.0L137.5 1515.2" stroke="#222" stroke-width="1" fill="none"/>
<path d="M279.8 1451.0L262.7 1477.7M296.1 1461.8L279.0 1488.4M312.9 1472.9L295.7 1499.6M329.2 1483.7L312.1 1510.4M345.5 1494.4L328.4 1521.5M362.3 1505.2L344.7 1532.3M378.6 1516.3L361.5 1543.0M394.9 1527.1L377.8 1554.2M411.7 1537.8L394.1 1564.5M428.0 1549.0L410.5 1575.3M513.6 1573.8L513.6 1605.7M533.1 1573.8L533.1 1605.7M553.1 1573.8L553.1 1605.7M572.6 1573.8L572.6 1605.7M592.1 1573.8L592.1 1605.7M612.0 1573.8L612.0 1605.7M623.2 1556.3L650.3 1540.0M613.6 1538.8L640.7 1522.8M603.7 1521.2L631.2 1505.7M594.1 1504.1L621.2 1489.0M584.1 1487.4L611.2 1471.4M549.9 1454.7L565.8 1426.8M533.1 1444.7L548.7 1417.3M516.8 1434.8L532.0 1407.7M499.7 1425.2L515.6 1397.7M682.9 1545.1L707.0 1567.9M697.7 1532.0L720.4 1553.5M712.0 1517.3L734.5 1539.5M726.0 1502.5L748.2 1526.1M739.3 1489.6L762.3 1511.7M784.1 1456.7L799.6 1484.8M801.1 1447.5L816.6 1475.9M818.1 1437.9L834.0 1466.3M835.5 1428.0L851.0 1456.4M863.9 1412.5L879.7 1441.5M881.2 1403.5L896.7 1431.9M898.2 1394.0L913.8 1422.1M925.1 1375.2L947.5 1396.1M940.1 1360.8L961.6 1383.5M952.9 1346.2L976.5 1369.2M495.6 1633.0L465.7 1644.3M503.1 1651.2L472.6 1662.9M510.0 1669.7L480.1 1681.1M517.1 1688.3L487.3 1699.6M524.0 1706.5L494.4 1717.8M531.5 1725.0L501.6 1736.1M538.3 1742.9L508.5 1754.3M545.5 1761.5L515.9 1772.8M553.0 1779.7L523.1 1791.4M559.9 1798.2L530.0 1809.6" stroke="#111" stroke-width="1.75" fill="none"/>
<path d="M244.2 1280.6L241.4 1286.5M63.7 1310.8L69.7 1314.0M261.0 1441.5L268.1 1443.9M68.5 1491.3L73.7 1486.5M131.9 1532.4L133.9 1526.0M251.0 1515.6L246.2 1509.6M379.3 1577.0L385.7 1573.8M442.7 1520.4L441.9 1526.0M633.1 1580.2L626.4 1577.8M508.4 1451.5L511.6 1446.7M529.6 1383.8L524.4 1387.8M649.1 1497.3L643.1 1500.5M724.8 1622.0L718.0 1620.0M554.7 1625.6L554.7 1618.8M729.4 1446.3L736.3 1448.7M894.3 1364.7L898.2 1370.1M964.0 1407.4L958.9 1402.9M812.5 1499.2L809.5 1493.8M544.0 1886.4L543.4 1880.4M556.3 1732.5L550.3 1734.9M467.2 1707.1L473.2 1705.0" stroke="#444" stroke-width="1.5" fill="none"/>
<path d="M308.8 1357.5L299.6 1363.8M754.2 1554.4L746.7 1546.4M450.8 1662.3L457.7 1655.7M516.5 1642.8L509.1 1636.0" stroke="#444" stroke-width="2.2" fill="none"/>
<circle cx="82.5" cy="1479.4" r="7.45" fill="#fff" stroke="#555" stroke-width="1.5"/><text x="82.5" y="1483.7" font-size="12" fill="#111" stroke="#111" stroke-width=".3">A</text>
<circle cx="71.7" cy="1465.8" r="7.45" fill="#fff" stroke="#555" stroke-width="1.5"/><text x="71.7" y="1470.2" font-size="12" fill="#111" stroke="#111" stroke-width=".3">A</text>
<circle cx="61.8" cy="1449.9" r="7.45" fill="#fff" stroke="#555" stroke-width="1.5"/><text x="61.8" y="1454.2" font-size="12" fill="#111" stroke="#111" stroke-width=".3">C</text>
<circle cx="57.0" cy="1434.3" r="7.45" fill="#fff" stroke="#555" stroke-width="1.5"/><text x="57.0" y="1438.7" font-size="12" fill="#111" stroke="#111" stroke-width=".3">A</text>
<circle cx="53.0" cy="1417.2" r="7.45" fill="#fff" stroke="#555" stroke-width="1.5"/><text x="53.0" y="1421.6" font-size="12" fill="#111" stroke="#111" stroke-width=".3">G</text>
<circle cx="52.2" cy="1400.5" r="7.45" fill="#fff" stroke="#555" stroke-width="1.5"/><text x="52.2" y="1404.8" font-size="12" fill="#111" stroke="#111" stroke-width=".3">A</text>
<circle cx="54.6" cy="1383.3" r="7.45" fill="#fff" stroke="#555" stroke-width="1.5"/><text x="54.6" y="1387.7" font-size="12" fill="#111" stroke="#111" stroke-width=".3">C</text>
<circle cx="56.6" cy="1366.6" r="7.45" fill="#fff" stroke="#555" stroke-width="1.5"/><text x="56.6" y="1371.0" font-size="12" fill="#111" stroke="#111" stroke-width=".3">C</text>
<circle cx="62.5" cy="1349.9" r="7.45" fill="#fff" stroke="#555" stroke-width="1.5"/><text x="62.5" y="1354.2" font-size="12" fill="#111" stroke="#111" stroke-width=".3">C</text>
<circle cx="71.7" cy="1335.5" r="7.45" fill="#fff" stroke="#555" stroke-width="1.5"/><text x="71.7" y="1339.9" font-size="12" fill="#111" stroke="#111" stroke-width=".3">G</text>
<circle cx="81.7" cy="1322.0" r="7.45" fill="#fff" stroke="#555" stroke-width="1.5"/><text x="81.7" y="1326.3" font-size="12" fill="#111" stroke="#111" stroke-width=".3">C</text>
<circle cx="93.2" cy="1309.6" r="7.45" fill="#fff" stroke="#555" stroke-width="1.5"/><text x="93.2" y="1314.0" font-size="12" fill="#111" stroke="#111" stroke-width=".3">A</text>
<circle cx="107.2" cy="1299.3" r="7.45" fill="#fff" stroke="#555" stroke-width="1.5"/><text x="107.2" y="1303.6" font-size="12" fill="#111" stroke="#111" stroke-width=".3">A</text>
<circle cx="122.7" cy="1290.9" r="7.45" fill="#fff" stroke="#555" stroke-width="1.5"/><text x="122.7" y="1295.3" font-size="12" fill="#111" stroke="#111" stroke-width=".3">C</text>
<circle cx="138.6" cy="1284.5" r="7.45" fill="#fff" stroke="#555" stroke-width="1.5"/><text x="138.6" y="1288.9" font-size="12" fill="#111" stroke="#111" stroke-width=".3">A</text>
<circle cx="155.4" cy="1281.0" r="7.45" fill="#fff" stroke="#555" stroke-width="1.5"/><text x="155.4" y="1285.3" font-size="12" fill="#111" stroke="#111" stroke-width=".3">A</text>
<circle cx="172.5" cy="1279.8" r="7.45" fill="#fff" stroke="#555" stroke-width="1.5"/><text x="172.5" y="1284.1" font-size="12" fill="#111" stroke="#111" stroke-width=".3">C</text>
<circle cx="189.6" cy="1281.0" r="7.45" fill="#fff" stroke="#555" stroke-width="1.5"/><text x="189.6" y="1285.3" font-size="12" fill="#111" stroke="#111" stroke-width=".3">C</text>
<circle cx="206.0" cy="1284.5" r="7.45" fill="#fff" stroke="#555" stroke-width="1.5"/><text x="206.0" y="1288.9" font-size="12" fill="#111" stroke="#111" stroke-width=".3">A</text>
<circle cx="221.5" cy="1290.9" r="7.45" fill="#fff" stroke="#555" stroke-width="1.5"/><text x="221.5" y="1295.3" font-size="12" fill="#111" stroke="#111" stroke-width=".3">A</text>
<circle cx="237.1" cy="1299.3" r="7.45" fill="#fff" stroke="#555" stroke-width="1.5"/><text x="237.1" y="1303.6" font-size="12" fill="#111" stroke="#111" stroke-width=".3">C</text>
<circle cx="251.0" cy="1310.4" r="7.45" fill="#fff" stroke="#555" stroke-width="1.5"/><text x="251.0" y="1314.8" font-size="12" fill="#111" stroke="#111" stroke-width=".3">A</text>
<circle cx="263.7" cy="1322.8" r="7.45" fill="#fff" stroke="#555" stroke-width="1.5"/><text x="263.7" y="1327.1" font-size="12" fill="#111" stroke="#111" stroke-width=".3">A</text>
<circle cx="274.1" cy="1336.3" r="7.45" fill="#fff" stroke="#555" stroke-width="1.5"/><text x="274.1" y="1340.7" font-size="12" fill="#111" stroke="#111" stroke-width=".3">C</text>
<circle cx="282.1" cy="1351.5" r="7.45" fill="#fff" stroke="#555" stroke-width="1.5"/><text x="282.1" y="1355.8" font-size="12" fill="#111" stroke="#111" stroke-width=".3">A</text>
<circle cx="287.6" cy="1368.2" r="7.45" fill="#fff" stroke="#555" stroke-width="1.5"/><text x="287.6" y="1372.6" font-size="12" fill="#111" stroke="#111" stroke-width=".3">C</text>
<circle cx="291.2" cy="1384.9" r="7.45" fill="#fff" stroke="#555" stroke-width="1.5"/><text x="291.2" y="1389.3" font-size="12" fill="#111" stroke="#111" stroke-width=".3">C</text>
<circle cx="292.0" cy="1402.1" r="7.45" fill="#fff" stroke="#555" stroke-width="1.5"/><text x="292.0" y="1406.4" font-size="12" fill="#111" stroke="#111" stroke-width=".3">A</text>
<circle cx="290.8" cy="1418.8" r="7.45" fill="#fff" stroke="#555" stroke-width="1.5"/><text x="290.8" y="1423.2" font-size="12" fill="#111" stroke="#111" stroke-width=".3">A</text>
<circle cx="286.5" cy="1435.5" r="7.45" fill="#fff" stroke="#555" stroke-width="1.5"/><text x="286.5" y="1439.9" font-size="12" fill="#111" stroke="#111" stroke-width=".3">A</text>
<circle cx="279.8" cy="1451.0" r="7.7" fill="#a01414" stroke="#5e0c0c" stroke-width="1.5"/><text x="279.8" y="1455.4" font-size="12" font-weight="bold" fill="#fff">G</text>
<circle cx="296.1" cy="1461.8" r="7.7" fill="#a01414" stroke="#5e0c0c" stroke-width="1.5"/><text x="296.1" y="1466.2" font-size="12" font-weight="bold" fill="#fff">A</text>
<circle cx="312.9" cy="1472.9" r="7.7" fill="#a01414" stroke="#5e0c0c" stroke-width="1.5"/><text x="312.9" y="1477.3" font-size="12" font-weight="bold" fill="#fff">A</text>
<circle cx="329.2" cy="1483.7" r="7.7" fill="#a01414" stroke="#5e0c0c" stroke-width="1.5"/><text x="329.2" y="1488.1" font-size="12" font-weight="bold" fill="#fff">G</text>
<circle cx="345.5" cy="1494.4" r="7.7" fill="#a01414" stroke="#5e0c0c" stroke-width="1.5"/><text x="345.5" y="1498.8" font-size="12" font-weight="bold" fill="#fff">A</text>
<circle cx="362.3" cy="1505.2" r="7.7" fill="#a01414" stroke="#5e0c0c" stroke-width="1.5"/><text x="362.3" y="1509.6" font-size="12" font-weight="bold" fill="#fff">G</text>
<circle cx="378.6" cy="1516.3" r="7.7" fill="#a01414" stroke="#5e0c0c" stroke-width="1.5"/><text x="378.6" y="1520.7" font-size="12" font-weight="bold" fill="#fff">U</text>
<circle cx="394.9" cy="1527.1" r="7.7" fill="#a01414" stroke="#5e0c0c" stroke-width="1.5"/><text x="394.9" y="1531.5" font-size="12" font-weight="bold" fill="#fff">A</text>
<circle cx="411.7" cy="1537.8" r="7.7" fill="#a01414" stroke="#5e0c0c" stroke-width="1.5"/><text x="411.7" y="1542.2" font-size="12" font-weight="bold" fill="#fff">C</text>
<circle cx="428.0" cy="1549.0" r="7.7" fill="#a01414" stroke="#5e0c0c" stroke-width="1.5"/><text x="428.0" y="1553.4" font-size="12" font-weight="bold" fill="#fff">A</text>
<circle cx="443.5" cy="1539.4" r="7.45" fill="#fff" stroke="#555" stroke-width="1.5"/><text x="443.5" y="1543.8" font-size="12" fill="#111" stroke="#111" stroke-width=".3">C</text>
<circle cx="460.3" cy="1537.5" r="7.45" fill="#fff" stroke="#555" stroke-width="1.5"/><text x="460.3" y="1541.8" font-size="12" fill="#111" stroke="#111" stroke-width=".3">A</text>
<circle cx="477.0" cy="1539.8" r="7.45" fill="#fff" stroke="#555" stroke-width="1.5"/><text x="477.0" y="1544.2" font-size="12" fill="#111" stroke="#111" stroke-width=".3">A</text>
<circle cx="492.5" cy="1546.6" r="7.45" fill="#fff" stroke="#555" stroke-width="1.5"/><text x="492.5" y="1551.0" font-size="12" fill="#111" stroke="#111" stroke-width=".3">G</text>
<circle cx="505.3" cy="1559.0" r="7.45" fill="#fff" stroke="#555" stroke-width="1.5"/><text x="505.3" y="1563.3" font-size="12" fill="#111" stroke="#111" stroke-width=".3">U</text>
<circle cx="513.6" cy="1573.8" r="7.7" fill="#7e1a86" stroke="#4a0f50" stroke-width="1.5"/><text x="513.6" y="1578.2" font-size="12" font-weight="bold" fill="#fff">U</text>
<circle cx="533.1" cy="1573.8" r="7.7" fill="#7e1a86" stroke="#4a0f50" stroke-width="1.5"/><text x="533.1" y="1578.2" font-size="12" font-weight="bold" fill="#fff">G</text>
<circle cx="553.1" cy="1573.8" r="7.7" fill="#7e1a86" stroke="#4a0f50" stroke-width="1.5"/><text x="553.1" y="1578.2" font-size="12" font-weight="bold" fill="#fff">A</text>
<circle cx="572.6" cy="1573.8" r="7.7" fill="#7e1a86" stroke="#4a0f50" stroke-width="1.5"/><text x="572.6" y="1578.2" font-size="12" font-weight="bold" fill="#fff">A</text>
<circle cx="592.1" cy="1573.8" r="7.7" fill="#7e1a86" stroke="#4a0f50" stroke-width="1.5"/><text x="592.1" y="1578.2" font-size="12" font-weight="bold" fill="#fff">G</text>
<circle cx="612.0" cy="1573.8" r="7.7" fill="#7e1a86" stroke="#4a0f50" stroke-width="1.5"/><text x="612.0" y="1578.2" font-size="12" font-weight="bold" fill="#fff">A</text>
<circle cx="623.2" cy="1556.3" r="7.7" fill="#e8801e" stroke="#7a4414" stroke-width="1.5"/><text x="623.2" y="1560.7" font-size="12" font-weight="bold" fill="#4a1606">C</text>
<circle cx="613.6" cy="1538.8" r="7.7" fill="#e8801e" stroke="#7a4414" stroke-width="1.5"/><text x="613.6" y="1543.2" font-size="12" font-weight="bold" fill="#4a1606">A</text>
<circle cx="603.7" cy="1521.2" r="7.7" fill="#e8801e" stroke="#7a4414" stroke-width="1.5"/><text x="603.7" y="1525.6" font-size="12" font-weight="bold" fill="#4a1606">C</text>
<circle cx="594.1" cy="1504.1" r="7.7" fill="#e8801e" stroke="#7a4414" stroke-width="1.5"/><text x="594.1" y="1508.5" font-size="12" font-weight="bold" fill="#4a1606">A</text>
<circle cx="584.1" cy="1487.4" r="7.7" fill="#e8801e" stroke="#7a4414" stroke-width="1.5"/><text x="584.1" y="1491.8" font-size="12" font-weight="bold" fill="#4a1606">A</text>
<circle cx="567.4" cy="1483.4" r="7.45" fill="#fff" stroke="#555" stroke-width="1.5"/><text x="567.4" y="1487.7" font-size="12" fill="#111" stroke="#111" stroke-width=".3">C</text>
<circle cx="556.3" cy="1470.2" r="7.45" fill="#fff" stroke="#555" stroke-width="1.5"/><text x="556.3" y="1474.6" font-size="12" fill="#111" stroke="#111" stroke-width=".3">A</text>
<circle cx="549.9" cy="1454.7" r="7.7" fill="#e8801e" stroke="#7a4414" stroke-width="1.5"/><text x="549.9" y="1459.1" font-size="12" font-weight="bold" fill="#4a1606">C</text>
<circle cx="533.1" cy="1444.7" r="7.7" fill="#e8801e" stroke="#7a4414" stroke-width="1.5"/><text x="533.1" y="1449.1" font-size="12" font-weight="bold" fill="#4a1606">U</text>
<circle cx="516.8" cy="1434.8" r="7.7" fill="#e8801e" stroke="#7a4414" stroke-width="1.5"/><text x="516.8" y="1439.2" font-size="12" font-weight="bold" fill="#4a1606">U</text>
<circle cx="499.7" cy="1425.2" r="7.7" fill="#e8801e" stroke="#7a4414" stroke-width="1.5"/><text x="499.7" y="1429.6" font-size="12" font-weight="bold" fill="#4a1606">G</text>
<circle cx="482.9" cy="1428.4" r="7.45" fill="#fff" stroke="#555" stroke-width="1.5"/><text x="482.9" y="1432.8" font-size="12" fill="#111" stroke="#111" stroke-width=".3">A</text>
<circle cx="467.0" cy="1423.6" r="7.45" fill="#fff" stroke="#555" stroke-width="1.5"/><text x="467.0" y="1428.0" font-size="12" fill="#111" stroke="#111" stroke-width=".3">U</text>
<circle cx="455.9" cy="1409.7" r="7.45" fill="#fff" stroke="#555" stroke-width="1.5"/><text x="455.9" y="1414.0" font-size="12" fill="#111" stroke="#111" stroke-width=".3">C</text>
<circle cx="453.9" cy="1391.8" r="7.45" fill="#fff" stroke="#555" stroke-width="1.5"/><text x="453.9" y="1396.1" font-size="12" fill="#111" stroke="#111" stroke-width=".3">U</text>
<circle cx="463.8" cy="1377.0" r="7.45" fill="#fff" stroke="#555" stroke-width="1.5"/><text x="463.8" y="1381.4" font-size="12" fill="#111" stroke="#111" stroke-width=".3">G</text>
<circle cx="479.8" cy="1369.8" r="7.45" fill="#fff" stroke="#555" stroke-width="1.5"/><text x="479.8" y="1374.2" font-size="12" fill="#111" stroke="#111" stroke-width=".3">A</text>
<circle cx="496.5" cy="1371.0" r="7.45" fill="#fff" stroke="#555" stroke-width="1.5"/><text x="496.5" y="1375.4" font-size="12" fill="#111" stroke="#111" stroke-width=".3">A</text>
<circle cx="510.8" cy="1381.0" r="7.45" fill="#fff" stroke="#555" stroke-width="1.5"/><text x="510.8" y="1385.3" font-size="12" fill="#111" stroke="#111" stroke-width=".3">A</text>
<circle cx="515.6" cy="1397.7" r="7.7" fill="#e8801e" stroke="#7a4414" stroke-width="1.5"/><text x="515.6" y="1402.1" font-size="12" font-weight="bold" fill="#4a1606">C</text>
<circle cx="532.0" cy="1407.7" r="7.7" fill="#e8801e" stroke="#7a4414" stroke-width="1.5"/><text x="532.0" y="1412.1" font-size="12" font-weight="bold" fill="#4a1606">A</text>
<circle cx="548.7" cy="1417.3" r="7.7" fill="#e8801e" stroke="#7a4414" stroke-width="1.5"/><text x="548.7" y="1421.7" font-size="12" font-weight="bold" fill="#4a1606">A</text>
<circle cx="565.8" cy="1426.8" r="7.7" fill="#e8801e" stroke="#7a4414" stroke-width="1.5"/><text x="565.8" y="1431.2" font-size="12" font-weight="bold" fill="#4a1606">G</text>
<circle cx="582.5" cy="1422.8" r="7.45" fill="#fff" stroke="#555" stroke-width="1.5"/><text x="582.5" y="1427.2" font-size="12" fill="#111" stroke="#111" stroke-width=".3">A</text>
<circle cx="599.3" cy="1427.2" r="7.45" fill="#fff" stroke="#555" stroke-width="1.5"/><text x="599.3" y="1431.6" font-size="12" fill="#111" stroke="#111" stroke-width=".3">A</text>
<circle cx="612.0" cy="1438.8" r="7.45" fill="#fff" stroke="#555" stroke-width="1.5"/><text x="612.0" y="1443.1" font-size="12" fill="#111" stroke="#111" stroke-width=".3">G</text>
<circle cx="615.2" cy="1455.9" r="7.45" fill="#fff" stroke="#555" stroke-width="1.5"/><text x="615.2" y="1460.2" font-size="12" fill="#111" stroke="#111" stroke-width=".3">U</text>
<circle cx="611.2" cy="1471.4" r="7.7" fill="#e8801e" stroke="#7a4414" stroke-width="1.5"/><text x="611.2" y="1475.8" font-size="12" font-weight="bold" fill="#4a1606">U</text>
<circle cx="621.2" cy="1489.0" r="7.7" fill="#e8801e" stroke="#7a4414" stroke-width="1.5"/><text x="621.2" y="1493.4" font-size="12" font-weight="bold" fill="#4a1606">U</text>
<circle cx="631.2" cy="1505.7" r="7.7" fill="#e8801e" stroke="#7a4414" stroke-width="1.5"/><text x="631.2" y="1510.1" font-size="12" font-weight="bold" fill="#4a1606">G</text>
<circle cx="640.7" cy="1522.8" r="7.7" fill="#e8801e" stroke="#7a4414" stroke-width="1.5"/><text x="640.7" y="1527.2" font-size="12" font-weight="bold" fill="#4a1606">U</text>
<circle cx="650.3" cy="1540.0" r="7.7" fill="#e8801e" stroke="#7a4414" stroke-width="1.5"/><text x="650.3" y="1544.4" font-size="12" font-weight="bold" fill="#4a1606">G</text>
<circle cx="667.8" cy="1540.0" r="7.45" fill="#fff" stroke="#555" stroke-width="1.5"/><text x="667.8" y="1544.3" font-size="12" fill="#111" stroke="#111" stroke-width=".3">C</text>
<circle cx="682.9" cy="1545.1" r="7.7" fill="#2a8020" stroke="#184c12" stroke-width="1.5"/><text x="682.9" y="1549.5" font-size="12" font-weight="bold" fill="#fff">C</text>
<circle cx="697.7" cy="1532.0" r="7.7" fill="#2a8020" stroke="#184c12" stroke-width="1.5"/><text x="697.7" y="1536.4" font-size="12" font-weight="bold" fill="#fff">U</text>
<circle cx="712.0" cy="1517.3" r="7.7" fill="#2a8020" stroke="#184c12" stroke-width="1.5"/><text x="712.0" y="1521.7" font-size="12" font-weight="bold" fill="#fff">A</text>
<circle cx="726.0" cy="1502.5" r="7.7" fill="#2a8020" stroke="#184c12" stroke-width="1.5"/><text x="726.0" y="1506.9" font-size="12" font-weight="bold" fill="#fff">C</text>
<circle cx="739.3" cy="1489.6" r="7.7" fill="#2a8020" stroke="#184c12" stroke-width="1.5"/><text x="739.3" y="1494.0" font-size="12" font-weight="bold" fill="#fff">U</text>
<circle cx="740.5" cy="1471.4" r="7.45" fill="#fff" stroke="#555" stroke-width="1.5"/><text x="740.5" y="1475.7" font-size="12" fill="#111" stroke="#111" stroke-width=".3">C</text>
<circle cx="751.2" cy="1458.2" r="7.45" fill="#fff" stroke="#555" stroke-width="1.5"/><text x="751.2" y="1462.6" font-size="12" fill="#111" stroke="#111" stroke-width=".3">A</text>
<circle cx="767.3" cy="1452.8" r="7.45" fill="#fff" stroke="#555" stroke-width="1.5"/><text x="767.3" y="1457.2" font-size="12" fill="#111" stroke="#111" stroke-width=".3">A</text>
<circle cx="784.1" cy="1456.7" r="7.7" fill="#2a8020" stroke="#184c12" stroke-width="1.5"/><text x="784.1" y="1461.1" font-size="12" font-weight="bold" fill="#fff">C</text>
<circle cx="801.1" cy="1447.5" r="7.7" fill="#2a8020" stroke="#184c12" stroke-width="1.5"/><text x="801.1" y="1451.9" font-size="12" font-weight="bold" fill="#fff">A</text>
<circle cx="818.1" cy="1437.9" r="7.7" fill="#2a8020" stroke="#184c12" stroke-width="1.5"/><text x="818.1" y="1442.3" font-size="12" font-weight="bold" fill="#fff">G</text>
<circle cx="835.5" cy="1428.0" r="7.7" fill="#2a8020" stroke="#184c12" stroke-width="1.5"/><text x="835.5" y="1432.4" font-size="12" font-weight="bold" fill="#fff">C</text>
<circle cx="846.8" cy="1415.5" r="7.45" fill="#fff" stroke="#555" stroke-width="1.5"/><text x="846.8" y="1419.8" font-size="12" fill="#111" stroke="#111" stroke-width=".3">U</text>
<circle cx="863.9" cy="1412.5" r="7.7" fill="#2a8020" stroke="#184c12" stroke-width="1.5"/><text x="863.9" y="1416.9" font-size="12" font-weight="bold" fill="#fff">U</text>
<circle cx="881.2" cy="1403.5" r="7.7" fill="#2a8020" stroke="#184c12" stroke-width="1.5"/><text x="881.2" y="1407.9" font-size="12" font-weight="bold" fill="#fff">U</text>
<circle cx="898.2" cy="1394.0" r="7.7" fill="#2a8020" stroke="#184c12" stroke-width="1.5"/><text x="898.2" y="1398.4" font-size="12" font-weight="bold" fill="#fff">G</text>
<circle cx="908.1" cy="1378.7" r="7.45" fill="#fff" stroke="#555" stroke-width="1.5"/><text x="908.1" y="1383.1" font-size="12" fill="#111" stroke="#111" stroke-width=".3">A</text>
<circle cx="925.1" cy="1375.2" r="7.7" fill="#2a8020" stroke="#184c12" stroke-width="1.5"/><text x="925.1" y="1379.6" font-size="12" font-weight="bold" fill="#fff">A</text>
<circle cx="940.1" cy="1360.8" r="7.7" fill="#2a8020" stroke="#184c12" stroke-width="1.5"/><text x="940.1" y="1365.2" font-size="12" font-weight="bold" fill="#fff">A</text>
<circle cx="952.9" cy="1346.2" r="7.7" fill="#2a8020" stroke="#184c12" stroke-width="1.5"/><text x="952.9" y="1350.6" font-size="12" font-weight="bold" fill="#fff">G</text>
<circle cx="962.8" cy="1332.4" r="7.45" fill="#fff" stroke="#555" stroke-width="1.5"/><text x="962.8" y="1336.8" font-size="12" fill="#111" stroke="#111" stroke-width=".3">A</text>
<circle cx="978.9" cy="1330.3" r="7.45" fill="#fff" stroke="#555" stroke-width="1.5"/><text x="978.9" y="1334.7" font-size="12" fill="#111" stroke="#111" stroke-width=".3">G</text>
<circle cx="991.7" cy="1342.9" r="7.45" fill="#fff" stroke="#555" stroke-width="1.5"/><text x="991.7" y="1347.2" font-size="12" fill="#111" stroke="#111" stroke-width=".3">C</text>
<circle cx="990.0" cy="1359.6" r="7.45" fill="#fff" stroke="#555" stroke-width="1.5"/><text x="990.0" y="1364.0" font-size="12" fill="#111" stroke="#111" stroke-width=".3">A</text>
<circle cx="976.5" cy="1369.2" r="7.7" fill="#2a8020" stroke="#184c12" stroke-width="1.5"/><text x="976.5" y="1373.6" font-size="12" font-weight="bold" fill="#fff">C</text>
<circle cx="961.6" cy="1383.5" r="7.7" fill="#2a8020" stroke="#184c12" stroke-width="1.5"/><text x="961.6" y="1387.9" font-size="12" font-weight="bold" fill="#fff">U</text>
<circle cx="947.5" cy="1396.1" r="7.7" fill="#2a8020" stroke="#184c12" stroke-width="1.5"/><text x="947.5" y="1400.5" font-size="12" font-weight="bold" fill="#fff">U</text>
<circle cx="943.9" cy="1412.5" r="7.45" fill="#fff" stroke="#555" stroke-width="1.5"/><text x="943.9" y="1416.9" font-size="12" fill="#111" stroke="#111" stroke-width=".3">C</text>
<circle cx="930.2" cy="1423.6" r="7.45" fill="#fff" stroke="#555" stroke-width="1.5"/><text x="930.2" y="1427.9" font-size="12" fill="#111" stroke="#111" stroke-width=".3">C</text>
<circle cx="913.8" cy="1422.1" r="7.7" fill="#2a8020" stroke="#184c12" stroke-width="1.5"/><text x="913.8" y="1426.5" font-size="12" font-weight="bold" fill="#fff">C</text>
<circle cx="896.7" cy="1431.9" r="7.7" fill="#2a8020" stroke="#184c12" stroke-width="1.5"/><text x="896.7" y="1436.3" font-size="12" font-weight="bold" fill="#fff">A</text>
<circle cx="879.7" cy="1441.5" r="7.7" fill="#2a8020" stroke="#184c12" stroke-width="1.5"/><text x="879.7" y="1445.9" font-size="12" font-weight="bold" fill="#fff">A</text>
<circle cx="868.6" cy="1454.3" r="7.45" fill="#fff" stroke="#555" stroke-width="1.5"/><text x="868.6" y="1458.7" font-size="12" fill="#111" stroke="#111" stroke-width=".3">C</text>
<circle cx="851.0" cy="1456.4" r="7.7" fill="#2a8020" stroke="#184c12" stroke-width="1.5"/><text x="851.0" y="1460.8" font-size="12" font-weight="bold" fill="#fff">G</text>
<circle cx="834.0" cy="1466.3" r="7.7" fill="#2a8020" stroke="#184c12" stroke-width="1.5"/><text x="834.0" y="1470.7" font-size="12" font-weight="bold" fill="#fff">C</text>
<circle cx="816.6" cy="1475.9" r="7.7" fill="#2a8020" stroke="#184c12" stroke-width="1.5"/><text x="816.6" y="1480.3" font-size="12" font-weight="bold" fill="#fff">U</text>
<circle cx="799.6" cy="1484.8" r="7.7" fill="#2a8020" stroke="#184c12" stroke-width="1.5"/><text x="799.6" y="1489.2" font-size="12" font-weight="bold" fill="#fff">G</text>
<circle cx="793.6" cy="1500.7" r="7.45" fill="#fff" stroke="#555" stroke-width="1.5"/><text x="793.6" y="1505.0" font-size="12" fill="#111" stroke="#111" stroke-width=".3">C</text>
<circle cx="779.3" cy="1511.1" r="7.45" fill="#fff" stroke="#555" stroke-width="1.5"/><text x="779.3" y="1515.5" font-size="12" fill="#111" stroke="#111" stroke-width=".3">U</text>
<circle cx="762.3" cy="1511.7" r="7.7" fill="#2a8020" stroke="#184c12" stroke-width="1.5"/><text x="762.3" y="1516.1" font-size="12" font-weight="bold" fill="#fff">A</text>
<circle cx="748.2" cy="1526.1" r="7.7" fill="#2a8020" stroke="#184c12" stroke-width="1.5"/><text x="748.2" y="1530.5" font-size="12" font-weight="bold" fill="#fff">G</text>
<circle cx="734.5" cy="1539.5" r="7.7" fill="#2a8020" stroke="#184c12" stroke-width="1.5"/><text x="734.5" y="1543.9" font-size="12" font-weight="bold" fill="#fff">U</text>
<circle cx="720.4" cy="1553.5" r="7.7" fill="#2a8020" stroke="#184c12" stroke-width="1.5"/><text x="720.4" y="1557.9" font-size="12" font-weight="bold" fill="#fff">A</text>
<circle cx="707.0" cy="1567.9" r="7.7" fill="#2a8020" stroke="#184c12" stroke-width="1.5"/><text x="707.0" y="1572.3" font-size="12" font-weight="bold" fill="#fff">G</text>
<circle cx="712.0" cy="1583.0" r="7.45" fill="#fff" stroke="#555" stroke-width="1.5"/><text x="712.0" y="1587.3" font-size="12" fill="#111" stroke="#111" stroke-width=".3">U</text>
<circle cx="712.0" cy="1600.1" r="7.45" fill="#fff" stroke="#555" stroke-width="1.5"/><text x="712.0" y="1604.5" font-size="12" fill="#111" stroke="#111" stroke-width=".3">C</text>
<circle cx="706.1" cy="1616.1" r="7.45" fill="#fff" stroke="#555" stroke-width="1.5"/><text x="706.1" y="1620.4" font-size="12" fill="#111" stroke="#111" stroke-width=".3">U</text>
<circle cx="694.9" cy="1628.0" r="7.45" fill="#fff" stroke="#555" stroke-width="1.5"/><text x="694.9" y="1632.4" font-size="12" fill="#111" stroke="#111" stroke-width=".3">U</text>
<circle cx="681.0" cy="1636.8" r="7.45" fill="#fff" stroke="#555" stroke-width="1.5"/><text x="681.0" y="1641.1" font-size="12" fill="#111" stroke="#111" stroke-width=".3">U</text>
<circle cx="663.8" cy="1641.6" r="7.45" fill="#fff" stroke="#555" stroke-width="1.5"/><text x="663.8" y="1645.9" font-size="12" fill="#111" stroke="#111" stroke-width=".3">G</text>
<circle cx="647.1" cy="1640.8" r="7.45" fill="#fff" stroke="#555" stroke-width="1.5"/><text x="647.1" y="1645.1" font-size="12" fill="#111" stroke="#111" stroke-width=".3">U</text>
<circle cx="632.0" cy="1633.6" r="7.45" fill="#fff" stroke="#555" stroke-width="1.5"/><text x="632.0" y="1637.9" font-size="12" fill="#111" stroke="#111" stroke-width=".3">U</text>
<circle cx="619.2" cy="1620.8" r="7.45" fill="#fff" stroke="#555" stroke-width="1.5"/><text x="619.2" y="1625.2" font-size="12" fill="#111" stroke="#111" stroke-width=".3">U</text>
<circle cx="612.0" cy="1605.7" r="7.7" fill="#7e1a86" stroke="#4a0f50" stroke-width="1.5"/><text x="612.0" y="1610.1" font-size="12" font-weight="bold" fill="#fff">U</text>
<circle cx="592.1" cy="1605.7" r="7.7" fill="#7e1a86" stroke="#4a0f50" stroke-width="1.5"/><text x="592.1" y="1610.1" font-size="12" font-weight="bold" fill="#fff">C</text>
<circle cx="572.6" cy="1605.7" r="7.7" fill="#7e1a86" stroke="#4a0f50" stroke-width="1.5"/><text x="572.6" y="1610.1" font-size="12" font-weight="bold" fill="#fff">U</text>
<circle cx="553.1" cy="1605.7" r="7.7" fill="#7e1a86" stroke="#4a0f50" stroke-width="1.5"/><text x="553.1" y="1610.1" font-size="12" font-weight="bold" fill="#fff">U</text>
<circle cx="533.1" cy="1605.7" r="7.7" fill="#7e1a86" stroke="#4a0f50" stroke-width="1.5"/><text x="533.1" y="1610.1" font-size="12" font-weight="bold" fill="#fff">C</text>
<circle cx="513.6" cy="1605.7" r="7.7" fill="#7e1a86" stroke="#4a0f50" stroke-width="1.5"/><text x="513.6" y="1610.1" font-size="12" font-weight="bold" fill="#fff">A</text>
<circle cx="507.0" cy="1621.0" r="7.45" fill="#fff" stroke="#555" stroke-width="1.5"/><text x="507.0" y="1625.4" font-size="12" fill="#111" stroke="#111" stroke-width=".3">G</text>
<circle cx="495.6" cy="1633.0" r="7.7" fill="#1f6fd8" stroke="#12427f" stroke-width="1.5"/><text x="495.6" y="1637.4" font-size="12" font-weight="bold" fill="#fff">U</text>
<circle cx="503.1" cy="1651.2" r="7.7" fill="#1f6fd8" stroke="#12427f" stroke-width="1.5"/><text x="503.1" y="1655.6" font-size="12" font-weight="bold" fill="#fff">G</text>
<circle cx="510.0" cy="1669.7" r="7.7" fill="#1f6fd8" stroke="#12427f" stroke-width="1.5"/><text x="510.0" y="1674.1" font-size="12" font-weight="bold" fill="#fff">C</text>
<circle cx="517.1" cy="1688.3" r="7.7" fill="#1f6fd8" stroke="#12427f" stroke-width="1.5"/><text x="517.1" y="1692.7" font-size="12" font-weight="bold" fill="#fff">U</text>
<circle cx="524.0" cy="1706.5" r="7.7" fill="#1f6fd8" stroke="#12427f" stroke-width="1.5"/><text x="524.0" y="1710.9" font-size="12" font-weight="bold" fill="#fff">G</text>
<circle cx="531.5" cy="1725.0" r="7.7" fill="#1f6fd8" stroke="#12427f" stroke-width="1.5"/><text x="531.5" y="1729.4" font-size="12" font-weight="bold" fill="#fff">U</text>
<circle cx="538.3" cy="1742.9" r="7.7" fill="#1f6fd8" stroke="#12427f" stroke-width="1.5"/><text x="538.3" y="1747.3" font-size="12" font-weight="bold" fill="#fff">A</text>
<circle cx="545.5" cy="1761.5" r="7.7" fill="#1f6fd8" stroke="#12427f" stroke-width="1.5"/><text x="545.5" y="1765.9" font-size="12" font-weight="bold" fill="#fff">C</text>
<circle cx="553.0" cy="1779.7" r="7.7" fill="#1f6fd8" stroke="#12427f" stroke-width="1.5"/><text x="553.0" y="1784.1" font-size="12" font-weight="bold" fill="#fff">U</text>
<circle cx="559.9" cy="1798.2" r="7.7" fill="#1f6fd8" stroke="#12427f" stroke-width="1.5"/><text x="559.9" y="1802.6" font-size="12" font-weight="bold" fill="#fff">G</text>
<circle cx="575.4" cy="1803.6" r="7.45" fill="#fff" stroke="#555" stroke-width="1.5"/><text x="575.4" y="1808.0" font-size="12" fill="#111" stroke="#111" stroke-width=".3">U</text>
<circle cx="587.6" cy="1816.2" r="7.45" fill="#fff" stroke="#555" stroke-width="1.5"/><text x="587.6" y="1820.5" font-size="12" fill="#111" stroke="#111" stroke-width=".3">G</text>
<circle cx="592.7" cy="1832.9" r="7.45" fill="#fff" stroke="#555" stroke-width="1.5"/><text x="592.7" y="1837.2" font-size="12" fill="#111" stroke="#111" stroke-width=".3">A</text>
<circle cx="588.2" cy="1849.6" r="7.45" fill="#fff" stroke="#555" stroke-width="1.5"/><text x="588.2" y="1854.0" font-size="12" fill="#111" stroke="#111" stroke-width=".3">G</text>
<circle cx="576.9" cy="1861.6" r="7.45" fill="#fff" stroke="#555" stroke-width="1.5"/><text x="576.9" y="1865.9" font-size="12" fill="#111" stroke="#111" stroke-width=".3">A</text>
<circle cx="560.8" cy="1868.4" r="7.45" fill="#fff" stroke="#555" stroke-width="1.5"/><text x="560.8" y="1872.8" font-size="12" fill="#111" stroke="#111" stroke-width=".3">U</text>
<circle cx="544.0" cy="1866.9" r="7.45" fill="#fff" stroke="#555" stroke-width="1.5"/><text x="544.0" y="1871.3" font-size="12" fill="#111" stroke="#111" stroke-width=".3">U</text>
<circle cx="529.4" cy="1857.4" r="7.45" fill="#fff" stroke="#555" stroke-width="1.5"/><text x="529.4" y="1861.7" font-size="12" fill="#111" stroke="#111" stroke-width=".3">G</text>
<circle cx="521.0" cy="1842.1" r="7.45" fill="#fff" stroke="#555" stroke-width="1.5"/><text x="521.0" y="1846.5" font-size="12" fill="#111" stroke="#111" stroke-width=".3">C</text>
<circle cx="521.0" cy="1824.5" r="7.45" fill="#fff" stroke="#555" stroke-width="1.5"/><text x="521.0" y="1828.9" font-size="12" fill="#111" stroke="#111" stroke-width=".3">C</text>
<circle cx="530.0" cy="1809.6" r="7.7" fill="#1f6fd8" stroke="#12427f" stroke-width="1.5"/><text x="530.0" y="1814.0" font-size="12" font-weight="bold" fill="#fff">C</text>
<circle cx="523.1" cy="1791.4" r="7.7" fill="#1f6fd8" stroke="#12427f" stroke-width="1.5"/><text x="523.1" y="1795.8" font-size="12" font-weight="bold" fill="#fff">G</text>
<circle cx="515.9" cy="1772.8" r="7.7" fill="#1f6fd8" stroke="#12427f" stroke-width="1.5"/><text x="515.9" y="1777.2" font-size="12" font-weight="bold" fill="#fff">G</text>
<circle cx="508.5" cy="1754.3" r="7.7" fill="#1f6fd8" stroke="#12427f" stroke-width="1.5"/><text x="508.5" y="1758.7" font-size="12" font-weight="bold" fill="#fff">U</text>
<circle cx="501.6" cy="1736.1" r="7.7" fill="#1f6fd8" stroke="#12427f" stroke-width="1.5"/><text x="501.6" y="1740.5" font-size="12" font-weight="bold" fill="#fff">G</text>
<circle cx="494.4" cy="1717.8" r="7.7" fill="#1f6fd8" stroke="#12427f" stroke-width="1.5"/><text x="494.4" y="1722.2" font-size="12" font-weight="bold" fill="#fff">C</text>
<circle cx="487.3" cy="1699.6" r="7.7" fill="#1f6fd8" stroke="#12427f" stroke-width="1.5"/><text x="487.3" y="1704.0" font-size="12" font-weight="bold" fill="#fff">A</text>
<circle cx="480.1" cy="1681.1" r="7.7" fill="#1f6fd8" stroke="#12427f" stroke-width="1.5"/><text x="480.1" y="1685.5" font-size="12" font-weight="bold" fill="#fff">G</text>
<circle cx="472.6" cy="1662.9" r="7.7" fill="#1f6fd8" stroke="#12427f" stroke-width="1.5"/><text x="472.6" y="1667.3" font-size="12" font-weight="bold" fill="#fff">C</text>
<circle cx="465.7" cy="1644.3" r="7.7" fill="#1f6fd8" stroke="#12427f" stroke-width="1.5"/><text x="465.7" y="1648.7" font-size="12" font-weight="bold" fill="#fff">A</text>
<circle cx="448.7" cy="1642.2" r="7.45" fill="#fff" stroke="#555" stroke-width="1.5"/><text x="448.7" y="1646.6" font-size="12" fill="#111" stroke="#111" stroke-width=".3">G</text>
<circle cx="434.4" cy="1635.9" r="7.45" fill="#fff" stroke="#555" stroke-width="1.5"/><text x="434.4" y="1640.2" font-size="12" fill="#111" stroke="#111" stroke-width=".3">C</text>
<circle cx="422.4" cy="1623.9" r="7.45" fill="#fff" stroke="#555" stroke-width="1.5"/><text x="422.4" y="1628.3" font-size="12" fill="#111" stroke="#111" stroke-width=".3">A</text>
<circle cx="413.3" cy="1609.2" r="7.45" fill="#fff" stroke="#555" stroke-width="1.5"/><text x="413.3" y="1613.5" font-size="12" fill="#111" stroke="#111" stroke-width=".3">G</text>
<circle cx="408.1" cy="1592.8" r="7.45" fill="#fff" stroke="#555" stroke-width="1.5"/><text x="408.1" y="1597.2" font-size="12" fill="#111" stroke="#111" stroke-width=".3">U</text>
<circle cx="410.5" cy="1575.3" r="7.7" fill="#a01414" stroke="#5e0c0c" stroke-width="1.5"/><text x="410.5" y="1579.7" font-size="12" font-weight="bold" fill="#fff">U</text>
<circle cx="394.1" cy="1564.5" r="7.7" fill="#a01414" stroke="#5e0c0c" stroke-width="1.5"/><text x="394.1" y="1568.9" font-size="12" font-weight="bold" fill="#fff">G</text>
<circle cx="377.8" cy="1554.2" r="7.7" fill="#a01414" stroke="#5e0c0c" stroke-width="1.5"/><text x="377.8" y="1558.6" font-size="12" font-weight="bold" fill="#fff">U</text>
<circle cx="361.5" cy="1543.0" r="7.7" fill="#a01414" stroke="#5e0c0c" stroke-width="1.5"/><text x="361.5" y="1547.4" font-size="12" font-weight="bold" fill="#fff">A</text>
<circle cx="344.7" cy="1532.3" r="7.7" fill="#a01414" stroke="#5e0c0c" stroke-width="1.5"/><text x="344.7" y="1536.7" font-size="12" font-weight="bold" fill="#fff">U</text>
<circle cx="328.4" cy="1521.5" r="7.7" fill="#a01414" stroke="#5e0c0c" stroke-width="1.5"/><text x="328.4" y="1525.9" font-size="12" font-weight="bold" fill="#fff">U</text>
<circle cx="312.1" cy="1510.4" r="7.7" fill="#a01414" stroke="#5e0c0c" stroke-width="1.5"/><text x="312.1" y="1514.8" font-size="12" font-weight="bold" fill="#fff">C</text>
<circle cx="295.7" cy="1499.6" r="7.7" fill="#a01414" stroke="#5e0c0c" stroke-width="1.5"/><text x="295.7" y="1504.0" font-size="12" font-weight="bold" fill="#fff">U</text>
<circle cx="279.0" cy="1488.4" r="7.7" fill="#a01414" stroke="#5e0c0c" stroke-width="1.5"/><text x="279.0" y="1492.8" font-size="12" font-weight="bold" fill="#fff">U</text>
<circle cx="262.7" cy="1477.7" r="7.7" fill="#a01414" stroke="#5e0c0c" stroke-width="1.5"/><text x="262.7" y="1482.1" font-size="12" font-weight="bold" fill="#fff">U</text>
<circle cx="249.8" cy="1490.9" r="7.45" fill="#fff" stroke="#555" stroke-width="1.5"/><text x="249.8" y="1495.3" font-size="12" fill="#111" stroke="#111" stroke-width=".3">A</text>
<circle cx="236.3" cy="1501.3" r="7.45" fill="#fff" stroke="#555" stroke-width="1.5"/><text x="236.3" y="1505.6" font-size="12" fill="#111" stroke="#111" stroke-width=".3">U</text>
<circle cx="221.5" cy="1509.2" r="7.45" fill="#fff" stroke="#555" stroke-width="1.5"/><text x="221.5" y="1513.6" font-size="12" fill="#111" stroke="#111" stroke-width=".3">U</text>
<circle cx="205.6" cy="1514.4" r="7.45" fill="#fff" stroke="#555" stroke-width="1.5"/><text x="205.6" y="1518.8" font-size="12" fill="#111" stroke="#111" stroke-width=".3">A</text>
<circle cx="188.8" cy="1518.0" r="7.45" fill="#fff" stroke="#555" stroke-width="1.5"/><text x="188.8" y="1522.4" font-size="12" fill="#111" stroke="#111" stroke-width=".3">G</text>
<circle cx="171.7" cy="1519.2" r="7.45" fill="#fff" stroke="#555" stroke-width="1.5"/><text x="171.7" y="1523.6" font-size="12" fill="#111" stroke="#111" stroke-width=".3">C</text>
<circle cx="154.6" cy="1518.0" r="7.45" fill="#fff" stroke="#555" stroke-width="1.5"/><text x="154.6" y="1522.4" font-size="12" fill="#111" stroke="#111" stroke-width=".3">U</text>
<circle cx="137.5" cy="1515.2" r="7.45" fill="#fff" stroke="#555" stroke-width="1.5"/><text x="137.5" y="1519.6" font-size="12" fill="#111" stroke="#111" stroke-width=".3">U</text>
<text x="249.8" y="1276.1" font-size="14.2" fill="#444" stroke="#444" stroke-width=".25">210</text>
<text x="48.6" y="1312.0" font-size="14.2" fill="#444" stroke="#444" stroke-width=".25">200</text>
<text x="330.7" y="1354.8" font-size="14.5" font-weight="bold" fill="#444">215</text>
<text x="247.0" y="1446.2" font-size="14.2" fill="#444" stroke="#444" stroke-width=".25">220</text>
<text x="59.8" y="1505.2" font-size="14.2" fill="#444" stroke="#444" stroke-width=".25">190</text>
<text x="128.3" y="1549.8" font-size="14.2" fill="#444" stroke="#444" stroke-width=".25">386</text>
<text x="258.2" y="1530.3" font-size="14.2" fill="#444" stroke="#444" stroke-width=".25">380</text>
<text x="365.7" y="1588.0" font-size="14.2" fill="#444" stroke="#444" stroke-width=".25">370</text>
<text x="444.7" y="1513.2" font-size="14.2" fill="#444" stroke="#444" stroke-width=".25">230</text>
<text x="646.3" y="1587.3" font-size="14.2" fill="#444" stroke="#444" stroke-width=".25">240</text>
<text x="502.9" y="1468.6" font-size="14.2" fill="#444" stroke="#444" stroke-width=".25">250</text>
<text x="544.3" y="1384.9" font-size="14.2" fill="#444" stroke="#444" stroke-width=".25">260</text>
<text x="662.2" y="1499.6" font-size="14.2" fill="#444" stroke="#444" stroke-width=".25">270</text>
<text x="740.7" y="1629.9" font-size="14.2" fill="#444" stroke="#444" stroke-width=".25">320</text>
<text x="554.7" y="1639.9" font-size="14.2" fill="#444" stroke="#444" stroke-width=".25">330</text>
<text x="716.0" y="1449.6" font-size="14.2" fill="#444" stroke="#444" stroke-width=".25">280</text>
<text x="887.8" y="1360.2" font-size="14.2" fill="#444" stroke="#444" stroke-width=".25">290</text>
<text x="972.3" y="1422.1" font-size="14.2" fill="#444" stroke="#444" stroke-width=".25">300</text>
<text x="818.4" y="1516.2" font-size="14.2" fill="#444" stroke="#444" stroke-width=".25">310</text>
<text x="777.2" y="1567.2" font-size="14.5" font-weight="bold" fill="#444">315</text>
<text x="544.3" y="1903.4" font-size="14.2" fill="#444" stroke="#444" stroke-width=".25">350</text>
<text x="572.7" y="1735.2" font-size="14.2" fill="#444" stroke="#444" stroke-width=".25">340</text>
<text x="450.8" y="1715.8" font-size="14.2" fill="#444" stroke="#444" stroke-width=".25">360</text>
<text x="432.0" y="1679.5" font-size="14.5" font-weight="bold" fill="#444">363</text>
<text x="538.0" y="1657.7" font-size="14.5" font-weight="bold" fill="#444">334</text>
</svg>
</body></html>
